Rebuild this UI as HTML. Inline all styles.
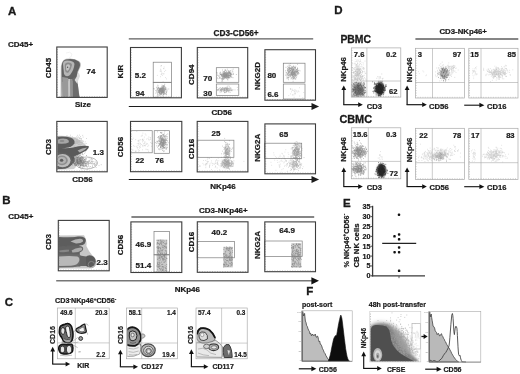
<!DOCTYPE html>
<html lang="en"><head><meta charset="utf-8"><title>Figure</title>
<style>
html,body{margin:0;padding:0;background:#fff;}
body{width:520px;height:374px;overflow:hidden;font-family:"Liberation Sans",sans-serif;}
svg{display:block;}
</style></head><body>
<svg width="520" height="374" viewBox="0 0 520 374" font-family='"Liberation Sans", sans-serif'>
<defs>
<filter id="b1" x="-20%" y="-20%" width="140%" height="140%"><feGaussianBlur stdDeviation="0.6"/></filter>
<filter id="b2" x="-20%" y="-20%" width="140%" height="140%"><feGaussianBlur stdDeviation="1.1"/></filter>
<filter id="b3" x="-30%" y="-30%" width="160%" height="160%"><feGaussianBlur stdDeviation="2"/></filter>
<filter id="b0" x="-20%" y="-20%" width="140%" height="140%"><feGaussianBlur stdDeviation="0.35"/></filter><filter id="bd" x="-20%" y="-20%" width="140%" height="140%"><feGaussianBlur stdDeviation="0.5"/></filter>
<filter id="soft" x="0" y="0" width="100%" height="100%" filterUnits="userSpaceOnUse"><feGaussianBlur stdDeviation="0.32"/></filter>
</defs>
<rect width="520" height="374" fill="#fff"/>
<g>
<text x="8" y="15" font-size="11.5" font-weight="bold" text-anchor="start" fill="#1a1a1a" stroke="#1a1a1a" stroke-width="0.34">A</text>
<text x="2.2" y="204" font-size="11.5" font-weight="bold" text-anchor="start" fill="#1a1a1a" stroke="#1a1a1a" stroke-width="0.34">B</text>
<text x="4.8" y="306" font-size="11.5" font-weight="bold" text-anchor="start" fill="#1a1a1a" stroke="#1a1a1a" stroke-width="0.34">C</text>
<text x="334.3" y="13.8" font-size="11.5" font-weight="bold" text-anchor="start" fill="#1a1a1a" stroke="#1a1a1a" stroke-width="0.34">D</text>
<text x="343" y="206.6" font-size="11.5" font-weight="bold" text-anchor="start" fill="#1a1a1a" stroke="#1a1a1a" stroke-width="0.34">E</text>
<text x="306.2" y="294.6" font-size="11.5" font-weight="bold" text-anchor="start" fill="#1a1a1a" stroke="#1a1a1a" stroke-width="0.34">F</text>
<text x="8" y="47.2" font-size="8.0" font-weight="bold" text-anchor="start" fill="#1a1a1a" stroke="#1a1a1a" stroke-width="0.24">CD45+</text>
<clipPath id="ca1"><rect x="57.3" y="47.5" width="49.4" height="49.4"/></clipPath>
<g clip-path="url(#ca1)"><g filter="url(#b1)">
<path d="M60.6 97 L60.8 70 Q60.6 60 66 58.8 Q74 57.5 79 61 Q81.8 63 80.4 67 Q77.4 72 77 78 L79.6 97 Z" fill="#b9b9b9"/>
<path d="M62 97 L61.6 70 Q61.2 60.4 66 59.4 Q74 58.2 78.6 61.4 Q80.8 63.4 79.6 67 Q76.6 72 76.4 78 L76 80 L62.4 82Z" fill="#636363"/>
<path d="M62.4 97 L62.2 77 L68.2 78 L68.4 97Z" fill="#999"/>
<path d="M68.4 97 L68.2 79 L70 79 L70.2 97Z" fill="#c6c6c6"/>
<path d="M70.2 97 L70 79 L72.6 79 L72.8 97Z" fill="#929292"/>
<path d="M72.8 97 L72.6 78 L76.8 76.6 L79.4 97Z" fill="#6c6c6c"/>
<path d="M74.6 80 Q77.6 76 78.6 72 L80 76 Q78 80 77.4 84Z" fill="#ddd"/>
<path d="M63 64 Q63 60.5 67 60.5 Q74 60.5 74.5 64 Q74 70 70 75 Q66 78 64 74 Z" fill="#b5b5b5"/>
<path d="M64.8 65 Q65 62.5 68 62.5 Q72 62.8 72 65 Q71 70 68.5 72.5 Q66 73.5 65.2 71 Z" fill="#8c8c8c"/>
<path d="M66 66 Q66.3 64.3 68.2 64.3 Q70.2 64.5 70 66.3 Q69.3 69.6 68 70.6 Q66.5 71 66.2 69.4 Z" fill="#c4c4c4"/>
<circle cx="67.6" cy="67.2" r="0.7" fill="#555"/>
</g></g>
<path d="M66 53 Q70 51 72 54 Q72 57 69 58" stroke="#e9e9e9" stroke-width="0.6" fill="none"/>
<rect x="56.8" y="47.0" width="50.40" height="50.40" fill="none" stroke="#3c3c3c" stroke-width="1.1"/>
<path d="M59.3 97.2v-1M61.8 97.2v-1M64.4 97.2v-1M66.9 97.2v-1M69.4 97.2v-1M71.9 97.2v-1M74.4 97.2v-1M77.0 97.2v-1M79.5 97.2v-1M82.0 97.2v-1M84.5 97.2v-1M87.0 97.2v-1M89.6 97.2v-1M92.1 97.2v-1M94.6 97.2v-1M97.1 97.2v-1M99.6 97.2v-1M102.2 97.2v-1M104.7 97.2v-1M57.0 49.5h1M57.0 52.0h1M57.0 54.6h1M57.0 57.1h1M57.0 59.6h1M57.0 62.1h1M57.0 64.6h1M57.0 67.2h1M57.0 69.7h1M57.0 72.2h1M57.0 74.7h1M57.0 77.2h1M57.0 79.8h1M57.0 82.3h1M57.0 84.8h1M57.0 87.3h1M57.0 89.8h1M57.0 92.4h1M57.0 94.9h1" stroke="#666" stroke-width="0.5" opacity="0.9"/>
<text x="51.28" y="68.00" font-size="8.0" font-weight="bold" text-anchor="middle" fill="#1a1a1a" stroke="#1a1a1a" stroke-width="0.24" transform="rotate(-90 51.28 68.00)">CD45</text>
<text x="86.6" y="74.1" font-size="8.0" font-weight="bold" text-anchor="start" fill="#1a1a1a" stroke="#1a1a1a" stroke-width="0.24">74</text>
<text x="83" y="106.8" font-size="8.0" font-weight="bold" text-anchor="middle" fill="#1a1a1a" stroke="#1a1a1a" stroke-width="0.24">Size</text>
<clipPath id="ca2"><rect x="57.3" y="121.9" width="49.4" height="49.4"/></clipPath>
<g clip-path="url(#ca2)">
<path d="M73.9 142.1h.01M74.1 140.3h.01M71.1 140.5h.01M79.7 141.9h.01M79.4 141.5h.01M76.7 141.4h.01M68.0 142.9h.01M77.1 142.1h.01M67.9 137.2h.01M71.3 140.0h.01M76.3 140.9h.01M77.2 139.6h.01M76.3 141.9h.01M72.2 144.8h.01M77.3 143.6h.01M72.4 139.4h.01M73.6 140.8h.01M77.7 141.5h.01M73.1 138.9h.01M72.8 143.7h.01M71.6 141.5h.01M76.8 137.7h.01M75.2 143.9h.01M66.5 140.3h.01M74.6 139.2h.01M77.1 140.9h.01M68.8 142.8h.01M77.8 143.1h.01M81.1 141.8h.01M75.5 138.1h.01M77.6 139.7h.01M73.1 138.2h.01M70.9 139.8h.01M80.4 136.5h.01M68.9 141.5h.01M81.1 142.3h.01M67.0 135.5h.01M76.5 139.4h.01M70.3 143.2h.01M79.6 141.3h.01M76.0 142.0h.01M81.7 142.4h.01M77.2 142.2h.01M68.4 143.8h.01M79.0 142.2h.01M66.7 139.6h.01M78.5 137.0h.01M74.2 143.2h.01M69.5 144.5h.01M77.3 140.7h.01M76.4 142.4h.01M75.5 143.5h.01M72.2 140.1h.01M79.4 141.1h.01M71.3 143.1h.01M81.2 140.0h.01M69.2 140.7h.01M74.4 140.3h.01M80.9 138.7h.01M80.3 138.2h.01M71.7 142.4h.01M79.7 142.9h.01M76.4 141.3h.01M75.6 142.3h.01M74.3 141.6h.01M77.4 141.0h.01M78.2 142.2h.01M83.4 141.7h.01M73.2 140.2h.01M74.9 143.0h.01M73.6 141.8h.01M82.7 135.4h.01M70.3 141.5h.01M76.7 141.5h.01M73.2 142.4h.01M76.2 139.9h.01M85.2 141.8h.01M72.7 140.8h.01M74.1 140.9h.01M63.5 139.9h.01M79.2 138.4h.01M74.7 143.1h.01M78.6 144.3h.01M67.9 140.2h.01M73.6 142.4h.01M79.6 135.1h.01M79.6 137.8h.01M77.9 137.7h.01M75.7 143.6h.01M74.4 141.4h.01M78.3 141.3h.01M74.6 144.4h.01M79.4 140.4h.01M86.5 138.5h.01M78.8 140.4h.01M75.6 142.6h.01M75.9 142.4h.01M68.6 137.7h.01M77.6 138.9h.01M70.7 137.8h.01M80.3 142.6h.01M81.2 138.9h.01M75.0 138.5h.01M78.2 144.5h.01M71.3 144.4h.01M79.1 140.6h.01M66.7 144.1h.01M74.6 139.7h.01M76.7 141.9h.01M81.3 138.8h.01M79.8 144.3h.01M81.1 140.6h.01M71.9 143.2h.01M75.5 141.3h.01M81.0 140.4h.01M65.4 140.1h.01M67.2 142.8h.01M76.3 139.7h.01M75.0 142.8h.01M75.3 143.9h.01M74.7 143.3h.01M81.3 144.5h.01M72.2 142.9h.01M67.1 138.6h.01M66.8 143.4h.01M69.8 141.0h.01M74.2 140.9h.01M72.5 141.5h.01M82.5 141.1h.01M77.2 143.2h.01M74.2 138.2h.01M72.7 143.4h.01M68.1 139.7h.01M79.2 142.7h.01M75.0 142.8h.01M75.7 138.4h.01M68.4 139.6h.01M78.9 139.8h.01M71.2 139.3h.01M68.6 140.7h.01M70.0 141.8h.01M65.1 141.7h.01M72.3 136.7h.01M78.0 140.4h.01M65.6 139.1h.01M76.2 140.0h.01M78.3 142.6h.01M77.8 141.7h.01M80.6 142.5h.01M76.9 136.4h.01M78.8 143.9h.01M73.8 140.0h.01M83.1 137.1h.01M77.0 146.3h.01M71.1 142.5h.01M82.9 140.7h.01M77.4 143.0h.01M71.2 140.8h.01M76.2 142.8h.01M74.9 140.6h.01M70.7 140.2h.01M78.7 141.2h.01M71.4 139.1h.01M86.2 143.5h.01M77.7 135.3h.01M77.6 142.1h.01M82.1 141.9h.01M74.7 142.1h.01M66.8 143.3h.01M76.4 139.5h.01M80.6 145.0h.01M69.1 139.5h.01M76.2 141.4h.01M73.3 138.9h.01M83.9 143.3h.01M70.0 138.0h.01M82.2 143.2h.01M82.6 142.8h.01M71.3 141.6h.01M65.9 139.4h.01M74.8 142.2h.01M71.9 140.7h.01M76.9 141.8h.01M77.7 141.5h.01M73.6 142.7h.01M75.2 139.2h.01M72.4 141.0h.01M74.5 141.3h.01M75.0 141.4h.01M74.4 138.2h.01M76.8 143.3h.01M76.8 140.6h.01M76.9 138.9h.01M67.0 141.1h.01M71.1 142.6h.01M70.4 135.2h.01M70.6 144.5h.01M73.4 138.0h.01M71.8 142.1h.01M77.1 141.4h.01M81.2 142.6h.01M74.9 142.3h.01M81.9 143.1h.01M79.3 138.6h.01M74.4 142.6h.01M73.8 143.4h.01M77.5 143.0h.01M74.1 146.6h.01M80.2 140.5h.01M75.4 146.7h.01M73.6 142.9h.01M79.1 141.0h.01M70.1 141.4h.01M76.5 143.5h.01M78.3 141.1h.01M78.6 142.2h.01M75.9 141.1h.01M74.0 142.5h.01M70.6 139.6h.01M75.0 137.8h.01" stroke="#bdbdbd" stroke-width="0.7" stroke-linecap="round" fill="none" opacity="1.0" filter="url(#b1)"/>
<path d="M73.0 146.0h.01M71.9 155.0h.01M77.5 152.8h.01M74.0 148.0h.01M83.2 154.8h.01M79.9 149.9h.01M74.2 146.6h.01M78.5 156.3h.01M66.5 152.8h.01M77.8 146.8h.01M66.8 149.3h.01M72.2 148.1h.01M75.1 153.9h.01M77.9 155.5h.01M81.8 157.1h.01M69.1 151.2h.01M70.2 149.2h.01M74.6 153.0h.01M77.2 147.4h.01M69.4 152.9h.01M74.1 151.9h.01M74.7 150.3h.01M78.2 154.2h.01M74.6 150.6h.01M74.2 143.5h.01M70.6 153.1h.01M68.2 153.7h.01M75.7 148.2h.01M73.9 151.9h.01M77.1 155.1h.01M74.8 150.0h.01M74.4 152.8h.01M78.3 154.0h.01M71.7 148.3h.01M73.3 150.4h.01M70.0 152.6h.01M72.8 153.4h.01M77.4 151.6h.01M85.5 151.9h.01M80.0 153.4h.01M80.0 144.7h.01M71.6 153.9h.01M77.7 161.2h.01M76.5 157.5h.01M78.4 156.3h.01M77.3 152.5h.01M77.3 149.2h.01M80.3 149.4h.01M76.1 160.4h.01M74.0 153.1h.01M80.2 153.1h.01M71.4 153.9h.01M77.6 155.5h.01M71.5 159.1h.01M82.5 153.1h.01M76.2 151.5h.01M81.4 150.5h.01M78.0 151.3h.01M71.9 155.5h.01M81.0 153.0h.01M72.0 155.8h.01M74.8 154.1h.01M81.9 157.0h.01M72.7 161.0h.01M75.0 155.8h.01M72.1 152.8h.01M67.1 159.3h.01M81.1 148.7h.01M68.2 147.3h.01M80.3 151.4h.01M74.7 151.9h.01M74.5 149.2h.01M75.1 148.0h.01M74.7 154.1h.01M77.1 152.2h.01M70.9 153.6h.01M72.8 158.5h.01M78.5 152.6h.01M72.9 150.5h.01M70.8 151.8h.01M76.3 154.8h.01M77.6 160.3h.01M71.8 153.0h.01M87.6 146.5h.01M72.7 153.6h.01M75.7 154.4h.01M73.9 154.3h.01M75.2 155.7h.01M66.5 149.9h.01M75.0 149.4h.01M70.3 155.2h.01M72.1 155.2h.01M78.4 154.1h.01M77.3 152.6h.01M68.7 152.9h.01M77.0 151.1h.01M74.6 155.6h.01M71.0 155.2h.01M83.4 151.1h.01M75.7 152.5h.01M81.9 154.1h.01M79.0 150.6h.01M74.9 153.0h.01M67.0 158.0h.01M79.0 146.9h.01M78.3 152.5h.01M77.0 154.3h.01M68.3 152.3h.01M81.7 151.0h.01M70.4 148.2h.01M69.5 154.2h.01M82.6 154.5h.01M76.1 160.8h.01M72.7 150.6h.01M77.4 154.9h.01M70.4 148.9h.01M76.3 153.9h.01M69.1 152.3h.01M72.6 154.6h.01M74.5 152.7h.01M73.4 156.7h.01M81.3 151.7h.01M78.8 150.3h.01M75.3 155.6h.01M81.8 151.7h.01M74.7 153.7h.01M68.3 153.1h.01M72.0 154.3h.01M69.9 146.1h.01M75.2 153.9h.01M72.5 156.1h.01M73.8 150.9h.01M77.1 147.5h.01M72.0 152.9h.01M78.8 152.4h.01M76.4 150.7h.01M76.4 158.8h.01M71.9 161.3h.01M72.1 153.1h.01M75.8 156.6h.01M69.4 145.6h.01M77.7 155.8h.01M77.8 162.2h.01M75.9 153.9h.01M79.2 154.3h.01M82.5 148.7h.01M73.3 140.9h.01M78.7 151.7h.01M79.2 160.5h.01M75.0 152.1h.01M72.8 150.1h.01M72.2 155.2h.01M75.2 153.2h.01M74.2 156.2h.01M77.2 152.5h.01M78.0 152.5h.01M69.8 158.1h.01M77.1 149.6h.01M79.9 154.2h.01M68.0 158.6h.01M76.5 156.1h.01M75.9 152.5h.01M68.0 156.4h.01M75.1 152.0h.01M76.6 153.3h.01M78.0 151.7h.01M74.8 145.5h.01M73.1 155.4h.01M81.0 151.7h.01M74.5 158.5h.01M73.5 155.6h.01M82.6 153.1h.01M80.5 150.5h.01M75.9 152.7h.01M75.5 157.0h.01M85.8 150.7h.01M72.4 154.7h.01M70.3 154.7h.01M77.6 152.0h.01M77.4 147.6h.01M78.4 147.6h.01M71.9 151.1h.01M73.2 156.0h.01M75.4 151.6h.01M77.4 158.5h.01M75.0 154.3h.01M80.6 153.9h.01M69.2 161.7h.01M84.9 146.1h.01M74.8 154.5h.01M79.3 155.3h.01M73.8 149.3h.01M75.5 156.6h.01M70.1 149.4h.01M74.9 146.2h.01M73.8 151.5h.01M77.0 150.5h.01M71.0 151.6h.01M74.8 150.7h.01M75.1 155.6h.01M80.3 159.0h.01M71.5 151.5h.01M63.8 159.6h.01M71.7 152.9h.01M77.4 148.2h.01M77.1 152.9h.01M66.8 154.0h.01M80.4 146.5h.01M78.6 153.7h.01M77.1 154.5h.01M80.9 152.2h.01M78.9 151.6h.01M78.3 150.2h.01M74.5 159.1h.01M77.0 152.4h.01M69.8 150.2h.01M75.9 156.3h.01M76.9 154.8h.01M74.8 157.7h.01M73.2 151.1h.01M79.0 153.2h.01M73.7 151.0h.01M73.8 155.2h.01M76.6 148.8h.01M76.9 153.6h.01M70.5 155.7h.01M73.7 151.8h.01M78.6 157.6h.01M71.9 154.5h.01M71.1 161.1h.01M72.8 157.2h.01M72.1 155.8h.01M85.0 144.1h.01M73.0 154.8h.01M74.6 150.7h.01M84.7 153.3h.01M67.6 156.0h.01M67.3 157.0h.01M72.4 153.5h.01M80.7 153.4h.01M68.7 147.1h.01M80.3 155.6h.01M71.3 156.0h.01M77.2 155.3h.01M64.8 151.9h.01M79.1 155.6h.01M79.0 144.4h.01M75.8 154.7h.01M86.5 149.7h.01M73.5 153.1h.01M79.0 151.4h.01M80.2 150.2h.01M76.2 151.2h.01M75.7 150.6h.01M67.8 156.8h.01M76.4 151.0h.01M75.9 156.5h.01M70.6 152.6h.01M77.4 154.8h.01M73.5 145.6h.01" stroke="#a8a8a8" stroke-width="0.7" stroke-linecap="round" fill="none" opacity="1.0" filter="url(#b1)"/>
<g filter="url(#b1)">
<path d="M57 135.8 Q68 135 76 138 Q82 141 86 145.6 Q80 152 76 156 L84 156.6 Q80 164 74 169 L57 170Z" fill="#bcbcbc" opacity="0.7"/>
<path d="M57 136.8 Q65 135.8 71 137.8 Q75.4 139.8 74.4 143.4 Q72 147.4 65 148 L57 148Z" fill="#5c5c5c"/>
<path d="M58 139.6 Q62 138 66.6 139 Q69.6 140.4 68.6 142.4 Q66 144 61 143.8 L58 143.4Z" fill="#a6a6a6"/>
<ellipse cx="62" cy="141" rx="2.4" ry="1" fill="#8a8a8a"/>
<path d="M57 147.6 Q66 149 73 147.6 Q81 145 88.6 146 Q89.6 147.6 86.4 150.4 Q80 154 74 156.4 Q76 160 73 164 L66 158 L57 155Z" fill="#5a5a5a"/>
<path d="M77.6 150.6 Q82 148 87 147.6 Q85.6 150.2 79.6 152.6Z" fill="#adadad"/>
<path d="M57 152.6 Q65 152 70 155.4 Q73.6 159.6 72 164.4 Q69 168.6 62 169 L57 169Z" fill="#616161"/>
<ellipse cx="62.6" cy="160.6" rx="8" ry="6.6" fill="#bdbdbd"/>
<ellipse cx="62" cy="160.4" rx="5.8" ry="4.8" fill="#8e8e8e"/>
<ellipse cx="61.8" cy="160.3" rx="4.2" ry="3.4" fill="#b2b2b2"/>
<ellipse cx="61.6" cy="160.2" rx="1.7" ry="1.5" fill="#5e5e5e"/>
</g></g>
<path d="M83.7 162.6h.01M79.5 161.1h.01M80.4 160.8h.01M76.0 160.0h.01M77.5 160.3h.01M75.6 163.3h.01M75.0 163.4h.01M76.1 162.6h.01M84.2 162.3h.01M77.0 161.9h.01M80.0 157.6h.01M77.4 162.2h.01M77.9 162.0h.01M82.0 163.6h.01M82.6 163.2h.01M78.5 161.8h.01M78.6 161.0h.01M78.9 157.7h.01M78.4 161.7h.01M76.2 161.7h.01M81.3 161.4h.01M86.6 155.5h.01M78.8 157.4h.01M82.8 168.2h.01M71.0 162.1h.01M81.3 161.1h.01M81.4 156.4h.01M82.4 162.7h.01M79.6 160.4h.01M81.7 160.6h.01M80.3 160.6h.01M71.9 161.7h.01M80.2 163.6h.01M76.5 161.7h.01M81.6 162.1h.01M83.7 166.6h.01M76.4 157.2h.01M82.4 165.5h.01M82.6 163.8h.01M77.4 160.1h.01M82.5 159.6h.01M73.3 159.4h.01M88.0 166.4h.01M77.2 160.1h.01M80.3 160.0h.01M84.0 161.6h.01M75.8 164.9h.01M77.5 162.3h.01M79.5 161.0h.01M80.6 160.1h.01M73.2 156.5h.01M75.2 160.0h.01M79.4 161.9h.01M81.4 162.1h.01M76.8 160.1h.01M72.3 161.4h.01M81.1 163.1h.01M79.1 161.4h.01M82.7 161.8h.01M82.0 163.2h.01M80.2 164.9h.01M77.6 160.9h.01M76.8 159.9h.01M84.8 166.0h.01M79.6 163.2h.01M83.5 163.7h.01M83.6 158.8h.01M77.3 162.9h.01M84.4 162.0h.01M76.6 160.9h.01M77.3 159.7h.01M84.6 160.3h.01M79.6 167.0h.01M83.5 162.6h.01M77.4 162.8h.01M85.0 163.3h.01M83.8 162.0h.01M81.3 161.3h.01M81.0 164.9h.01M74.6 161.6h.01M80.3 160.4h.01M78.5 163.7h.01M86.3 163.3h.01M80.6 158.1h.01M86.1 162.0h.01M79.4 159.1h.01M79.3 159.2h.01M79.7 162.9h.01M79.6 162.5h.01M76.6 165.2h.01M77.3 157.4h.01M78.9 160.0h.01M76.1 160.9h.01M80.5 159.0h.01M79.0 165.2h.01M81.8 161.4h.01M79.9 161.5h.01M79.3 163.6h.01M79.2 156.0h.01M79.4 159.7h.01M81.7 160.3h.01M80.0 167.0h.01M75.9 159.1h.01M74.7 156.1h.01M73.1 162.7h.01M77.3 157.3h.01M74.5 163.3h.01M76.9 160.9h.01M80.6 165.1h.01M86.1 164.3h.01M80.0 162.2h.01M85.6 165.2h.01M78.4 162.9h.01M80.5 161.9h.01M77.8 158.6h.01M77.7 158.1h.01M83.7 163.1h.01M75.4 165.1h.01M82.5 157.2h.01M85.8 163.7h.01M86.5 158.8h.01M81.3 162.8h.01M80.2 162.2h.01M83.1 158.2h.01M75.3 158.5h.01M77.6 160.3h.01M80.7 162.4h.01M79.6 160.2h.01M78.0 164.1h.01M82.1 162.0h.01M78.4 165.5h.01M77.5 163.4h.01M83.4 161.2h.01M82.3 159.1h.01M82.9 162.3h.01M74.1 163.4h.01M76.5 164.9h.01M77.2 161.4h.01M80.5 161.0h.01M80.4 160.5h.01M81.8 161.8h.01M80.2 155.2h.01M83.4 161.9h.01M73.4 162.0h.01M81.1 164.4h.01M75.8 165.5h.01M79.0 167.5h.01M79.0 163.4h.01M78.3 159.1h.01M83.2 164.0h.01M84.7 163.9h.01M77.6 157.8h.01M77.3 160.2h.01M76.7 163.2h.01M80.6 161.2h.01M80.1 161.5h.01M80.2 163.6h.01M82.8 160.2h.01M74.4 165.2h.01M79.9 164.5h.01M73.9 161.0h.01M79.6 158.3h.01M77.7 163.5h.01M83.2 165.6h.01M76.6 158.4h.01M81.3 164.1h.01M80.2 158.7h.01M82.2 163.7h.01M81.4 160.6h.01M80.5 163.7h.01M77.6 157.4h.01M80.6 163.0h.01M79.5 163.9h.01M77.5 161.6h.01M78.5 163.2h.01M84.9 161.2h.01M86.5 165.5h.01M82.2 163.2h.01M85.5 161.4h.01M79.1 159.2h.01M81.1 165.0h.01M81.3 162.8h.01M78.8 162.2h.01M74.7 164.3h.01M78.1 159.1h.01M76.9 159.8h.01M82.4 164.3h.01M74.9 164.0h.01M82.5 160.4h.01M74.4 160.0h.01M77.3 162.6h.01M78.3 156.9h.01M80.3 158.1h.01M82.6 158.9h.01M77.1 159.7h.01M77.7 164.9h.01M82.4 163.2h.01M80.6 158.1h.01M77.7 160.5h.01M76.2 163.0h.01M77.0 160.1h.01M75.9 156.9h.01M81.5 165.0h.01M80.1 159.5h.01M70.3 162.2h.01M83.6 162.5h.01M82.7 165.3h.01M83.3 160.7h.01M83.1 163.7h.01M74.3 160.8h.01M74.7 161.5h.01M81.5 159.2h.01M72.5 164.9h.01M80.8 165.3h.01M75.0 164.3h.01M86.6 166.6h.01M78.8 162.4h.01M79.0 164.2h.01M83.0 162.0h.01M74.9 163.6h.01M77.9 163.3h.01M80.4 165.7h.01M83.4 160.7h.01M80.7 166.0h.01M77.7 162.8h.01M83.5 164.8h.01M81.3 158.6h.01M75.2 162.4h.01M80.8 167.9h.01M76.6 164.5h.01M82.1 157.8h.01M76.7 162.2h.01M77.8 161.4h.01M81.1 159.9h.01M81.1 160.3h.01M77.6 163.1h.01M77.6 162.5h.01M84.9 161.9h.01M79.0 163.6h.01M78.3 164.4h.01M75.1 163.3h.01M77.8 159.9h.01M85.5 159.8h.01M85.5 163.4h.01M84.4 159.5h.01M83.6 165.3h.01M79.1 161.5h.01M87.9 162.2h.01M78.1 160.3h.01M81.0 162.6h.01M80.1 165.9h.01M78.4 162.9h.01M84.5 159.4h.01M83.0 166.2h.01M74.9 159.2h.01M76.0 157.4h.01M81.0 157.3h.01M81.2 165.3h.01M74.0 161.0h.01M73.0 163.7h.01" stroke="#747474" stroke-width="0.6" stroke-linecap="round" fill="none" opacity="1.0" filter="url(#bd)"/>
<path d="M84.1 162.6h.01M87.8 164.5h.01M85.9 163.2h.01M85.0 163.5h.01M82.1 163.4h.01M78.6 162.0h.01M96.3 163.4h.01M81.7 163.8h.01M83.0 159.2h.01M84.1 165.0h.01M89.3 163.0h.01M83.2 160.6h.01M93.7 163.8h.01M83.1 158.1h.01M81.2 169.1h.01M82.2 163.0h.01M88.5 162.8h.01M86.2 159.9h.01M82.7 167.3h.01M84.0 165.2h.01M79.7 162.5h.01M88.7 165.7h.01M82.3 164.6h.01M89.3 161.4h.01M89.7 161.0h.01M83.8 163.2h.01M75.0 162.9h.01M82.9 159.7h.01M85.5 165.0h.01M85.6 166.2h.01M82.2 160.1h.01M94.6 164.2h.01M91.8 161.2h.01M91.2 163.8h.01M90.5 163.3h.01M93.0 161.6h.01M83.1 159.7h.01M92.8 161.4h.01M82.7 160.9h.01M85.5 160.1h.01M86.2 161.7h.01M85.0 160.9h.01M87.7 162.1h.01M88.0 163.8h.01M89.1 157.9h.01M85.0 161.3h.01M91.1 159.4h.01M84.2 162.5h.01M86.0 165.6h.01M85.5 165.5h.01M80.8 158.9h.01M93.1 164.2h.01M89.7 163.5h.01M89.7 160.3h.01M91.9 161.9h.01M92.0 163.4h.01M78.4 160.1h.01M92.7 162.9h.01M85.7 163.8h.01M85.5 161.9h.01M88.0 163.5h.01M94.5 163.3h.01M96.1 167.5h.01M95.4 165.7h.01M88.1 163.5h.01M86.8 161.4h.01M87.2 161.7h.01M95.0 164.5h.01M85.4 158.6h.01M87.3 162.2h.01M82.5 160.5h.01M77.1 164.6h.01M87.2 169.4h.01M87.4 162.8h.01M94.1 163.5h.01M88.3 162.3h.01M84.7 166.8h.01M92.1 167.3h.01M85.9 163.3h.01M83.4 165.5h.01M81.1 164.6h.01M92.5 166.6h.01M83.2 165.8h.01M84.2 161.4h.01M81.4 166.0h.01M95.1 161.8h.01M84.0 162.4h.01M99.0 165.6h.01M85.0 158.9h.01M84.4 166.0h.01M96.1 162.6h.01M84.3 162.0h.01M78.8 165.4h.01M82.5 165.8h.01M79.6 160.2h.01M88.8 161.4h.01M91.1 163.2h.01M82.1 164.7h.01M91.4 158.6h.01M95.9 164.4h.01M91.0 158.7h.01M84.2 162.4h.01M92.5 159.7h.01M83.4 158.3h.01M86.4 164.0h.01M79.7 161.8h.01M89.8 167.0h.01M90.6 162.5h.01M82.1 161.0h.01M84.4 163.6h.01M87.3 167.2h.01M88.8 160.6h.01M94.6 165.5h.01M88.0 161.5h.01M78.9 160.7h.01M91.7 161.3h.01M81.4 163.7h.01M88.6 164.7h.01M90.5 166.6h.01M83.6 165.5h.01M83.0 164.9h.01M88.3 163.8h.01M92.0 163.2h.01M92.6 165.3h.01M88.1 161.8h.01M84.0 161.9h.01M86.6 163.1h.01M101.2 164.7h.01M91.0 161.1h.01M84.2 162.4h.01" stroke="#a0a0a0" stroke-width="0.6" stroke-linecap="round" fill="none" opacity="1.0" filter="url(#bd)"/>
<ellipse cx="86.5" cy="163" rx="11" ry="6" fill="none" stroke="#8a8a8a" stroke-width="0.6"/>
<rect x="56.8" y="121.4" width="50.40" height="50.40" fill="none" stroke="#3c3c3c" stroke-width="1.1"/>
<path d="M59.3 171.60000000000002v-1M61.8 171.60000000000002v-1M64.4 171.60000000000002v-1M66.9 171.60000000000002v-1M69.4 171.60000000000002v-1M71.9 171.60000000000002v-1M74.4 171.60000000000002v-1M77.0 171.60000000000002v-1M79.5 171.60000000000002v-1M82.0 171.60000000000002v-1M84.5 171.60000000000002v-1M87.0 171.60000000000002v-1M89.6 171.60000000000002v-1M92.1 171.60000000000002v-1M94.6 171.60000000000002v-1M97.1 171.60000000000002v-1M99.6 171.60000000000002v-1M102.2 171.60000000000002v-1M104.7 171.60000000000002v-1M57.0 123.9h1M57.0 126.4h1M57.0 129.0h1M57.0 131.5h1M57.0 134.0h1M57.0 136.5h1M57.0 139.0h1M57.0 141.6h1M57.0 144.1h1M57.0 146.6h1M57.0 149.1h1M57.0 151.6h1M57.0 154.2h1M57.0 156.7h1M57.0 159.2h1M57.0 161.7h1M57.0 164.2h1M57.0 166.8h1M57.0 169.3h1" stroke="#666" stroke-width="0.5" opacity="0.9"/>
<text x="51.28" y="147.00" font-size="8.0" font-weight="bold" text-anchor="middle" fill="#1a1a1a" stroke="#1a1a1a" stroke-width="0.24" transform="rotate(-90 51.28 147.00)">CD3</text>
<text x="92.8" y="155.0" font-size="8.0" font-weight="bold" text-anchor="start" fill="#1a1a1a" stroke="#1a1a1a" stroke-width="0.24">1.3</text>
<text x="82.5" y="181.6" font-size="8.0" font-weight="bold" text-anchor="middle" fill="#1a1a1a" stroke="#1a1a1a" stroke-width="0.24">CD56</text>
<text x="236.1" y="35.5" font-size="8.25" font-weight="bold" text-anchor="middle" fill="#1a1a1a" stroke="#1a1a1a" stroke-width="0.25">CD3-CD56+</text>
<line x1="128.8" y1="38.9" x2="313.2" y2="38.9" stroke="#5e5e5e" stroke-width="1.3"/>
<line x1="128.8" y1="106.5" x2="312.0" y2="106.5" stroke="#1c1c1c" stroke-width="1.15"/>
<polygon points="319.1,106.5 311.5,103.1 311.5,109.9" fill="#1c1c1c"/>
<text x="221.7" y="115.2" font-size="8.0" font-weight="bold" text-anchor="middle" fill="#1a1a1a" stroke="#1a1a1a" stroke-width="0.24">CD56</text>
<line x1="128.8" y1="179.5" x2="312.0" y2="179.5" stroke="#1c1c1c" stroke-width="1.15"/>
<polygon points="319.1,179.5 311.5,176.1 311.5,182.9" fill="#1c1c1c"/>
<text x="223" y="188.6" font-size="8.0" font-weight="bold" text-anchor="middle" fill="#1a1a1a" stroke="#1a1a1a" stroke-width="0.24">NKp46</text>
<path d="M162.2 88.1h.01M165.5 89.2h.01M164.3 85.1h.01M161.8 91.1h.01M162.2 91.9h.01M162.4 90.9h.01M157.4 88.9h.01M156.4 91.9h.01M162.5 90.1h.01M159.9 89.2h.01M166.0 94.5h.01M161.7 93.5h.01M158.1 86.0h.01M160.7 88.5h.01M160.5 90.9h.01M168.8 89.0h.01M161.9 91.1h.01M161.7 92.6h.01M165.9 87.6h.01M162.2 89.9h.01M162.6 87.0h.01M157.8 85.2h.01M163.0 90.9h.01M162.0 85.1h.01M160.9 88.8h.01M158.5 88.4h.01M163.4 91.8h.01M161.7 91.7h.01M160.4 90.7h.01M161.9 91.8h.01M161.6 90.2h.01M161.5 89.0h.01M166.9 91.7h.01M162.8 95.8h.01M165.0 86.9h.01M163.4 92.4h.01M166.1 93.5h.01M163.6 87.8h.01M159.8 91.1h.01M163.0 88.2h.01M160.9 89.6h.01M161.9 91.3h.01M161.1 87.7h.01M164.7 94.2h.01M161.6 92.9h.01M162.8 92.0h.01M162.9 88.7h.01M163.1 92.8h.01M159.7 95.0h.01M166.6 94.7h.01M166.4 92.2h.01M161.0 89.1h.01M159.9 90.8h.01M161.7 92.0h.01M157.2 95.8h.01M167.0 90.4h.01M163.4 91.6h.01M162.4 90.0h.01M161.5 88.6h.01M162.2 90.4h.01M162.5 88.5h.01M161.9 90.6h.01M163.2 88.1h.01M162.8 92.8h.01M163.2 89.7h.01M160.7 90.0h.01M163.5 94.1h.01M161.4 89.0h.01M162.7 91.0h.01M159.7 88.8h.01M161.6 92.0h.01M159.1 88.2h.01M162.9 87.7h.01M162.1 91.3h.01M161.5 88.2h.01M161.7 89.7h.01M162.6 88.6h.01M164.3 86.6h.01M161.4 90.5h.01M164.0 89.1h.01M163.1 89.2h.01M163.5 94.5h.01M160.9 91.5h.01M159.7 92.7h.01M164.6 90.6h.01M159.2 91.4h.01M164.4 93.0h.01M163.7 86.3h.01M160.2 93.8h.01M159.0 93.1h.01M166.1 92.3h.01M164.4 89.7h.01M159.0 90.3h.01M161.3 90.4h.01M163.4 90.2h.01M162.2 91.5h.01M161.8 94.7h.01M162.8 90.7h.01M161.3 89.1h.01M164.9 90.8h.01M159.3 89.2h.01M161.5 89.5h.01M164.3 87.8h.01M162.9 90.8h.01M159.1 90.6h.01M161.6 91.7h.01M160.8 91.2h.01M158.0 88.0h.01M163.6 92.9h.01M161.8 89.1h.01M164.3 85.7h.01M160.0 92.0h.01M163.3 88.1h.01M157.5 93.8h.01M162.2 88.4h.01M161.9 92.6h.01M155.8 93.1h.01M163.5 85.7h.01M163.6 86.4h.01M164.4 91.4h.01M167.0 89.1h.01M161.8 92.9h.01M160.3 88.9h.01M160.9 90.3h.01M159.3 91.6h.01M163.0 90.7h.01M165.7 89.7h.01M164.8 89.2h.01M163.5 86.0h.01M162.3 90.1h.01M160.7 89.1h.01M161.0 88.8h.01M156.8 89.1h.01M160.5 89.3h.01M159.4 90.2h.01M163.6 89.9h.01M160.7 93.6h.01M164.0 92.6h.01M164.5 89.7h.01M161.5 93.1h.01M160.5 90.2h.01M162.7 91.4h.01M161.2 92.8h.01M161.4 92.2h.01M164.3 92.0h.01M163.5 87.8h.01M158.8 89.1h.01M162.9 94.0h.01M159.0 91.2h.01M159.8 88.8h.01M161.2 92.1h.01M162.3 93.2h.01M159.5 92.5h.01M163.9 90.7h.01M162.9 89.2h.01M159.3 89.6h.01M160.3 97.1h.01M160.7 94.3h.01M162.3 91.2h.01M163.5 88.7h.01M163.9 91.4h.01M158.3 91.9h.01M163.1 91.5h.01M165.4 89.5h.01M163.0 92.2h.01M159.7 93.3h.01M158.5 87.5h.01M163.0 88.0h.01M161.5 86.7h.01M162.0 87.9h.01M162.6 87.0h.01M162.8 89.9h.01M161.9 90.3h.01M162.1 87.5h.01M155.9 90.6h.01M159.6 89.5h.01M162.8 85.9h.01M160.0 89.1h.01M159.4 91.3h.01M161.5 88.6h.01M159.5 92.4h.01M160.3 91.8h.01M162.8 86.1h.01M159.3 90.5h.01M162.6 92.3h.01M163.6 92.9h.01M160.9 90.0h.01M163.6 89.5h.01M164.2 86.8h.01M163.3 90.1h.01M157.3 92.8h.01M162.5 90.5h.01M159.3 89.4h.01M165.3 88.6h.01M153.8 88.5h.01M159.0 90.2h.01M160.9 88.4h.01M159.9 92.9h.01M158.5 95.0h.01M160.5 88.0h.01M163.6 91.8h.01M159.4 92.2h.01M157.6 88.4h.01M164.4 89.9h.01M158.8 91.7h.01M163.9 90.4h.01M157.6 89.7h.01M162.8 92.3h.01M166.1 89.9h.01M160.7 90.4h.01M164.6 88.3h.01M164.8 84.2h.01M163.6 88.9h.01M162.9 92.1h.01M159.1 90.3h.01M162.4 91.9h.01M159.7 88.2h.01M157.4 96.3h.01M161.4 90.0h.01M158.4 92.6h.01M160.6 93.8h.01M163.8 90.5h.01M163.5 87.9h.01M161.1 89.2h.01M158.9 90.5h.01M161.5 93.8h.01M154.1 89.0h.01M159.7 89.4h.01M162.8 91.4h.01M161.9 89.4h.01M162.9 91.3h.01M157.6 89.9h.01M158.6 87.8h.01M162.1 90.6h.01M162.1 88.5h.01M161.3 88.4h.01M162.7 92.1h.01M165.8 93.4h.01M159.9 89.4h.01M159.6 91.2h.01M166.4 92.1h.01M156.7 87.6h.01M158.8 91.7h.01M161.8 91.2h.01M165.9 88.6h.01M159.9 95.0h.01M162.6 88.7h.01M157.1 87.0h.01M156.2 90.7h.01M161.9 92.8h.01M161.5 88.9h.01M160.1 94.9h.01M157.7 90.9h.01M161.9 91.9h.01M160.9 91.6h.01M163.7 90.2h.01M160.7 90.1h.01M159.6 90.0h.01M161.1 91.0h.01M164.9 93.5h.01M160.8 91.9h.01M162.5 92.3h.01M161.8 91.1h.01M160.7 88.7h.01M163.8 93.5h.01M163.3 91.5h.01M162.4 89.5h.01M157.7 92.0h.01M162.3 89.2h.01M159.6 93.4h.01M157.7 94.6h.01M163.3 96.0h.01M160.1 90.4h.01M160.6 90.9h.01M161.3 88.8h.01M164.3 88.7h.01M160.6 91.8h.01M160.6 89.5h.01M162.6 89.7h.01M158.9 90.3h.01M161.3 94.4h.01M159.3 92.7h.01M160.0 89.7h.01M161.0 91.1h.01M163.8 94.5h.01M160.3 93.6h.01M164.1 92.4h.01M160.1 92.6h.01M161.6 91.3h.01M161.2 92.0h.01M164.4 93.1h.01M161.3 92.8h.01M165.1 88.3h.01M165.2 87.4h.01M163.0 91.9h.01M165.2 91.1h.01M160.7 88.7h.01M158.9 92.3h.01M161.3 88.8h.01M163.0 88.7h.01" stroke="#949494" stroke-width="0.6" stroke-linecap="round" fill="none" opacity="1.0" filter="url(#bd)"/>
<path d="M160.2 71.2h.01M166.5 78.9h.01M161.0 66.7h.01M162.3 73.3h.01M162.5 75.3h.01M160.5 76.7h.01M164.0 73.8h.01M160.3 71.1h.01M163.6 68.6h.01M161.0 70.0h.01M157.3 75.4h.01M161.4 73.1h.01M164.1 67.0h.01M161.3 74.2h.01M164.0 68.7h.01M163.6 73.9h.01M165.6 77.6h.01M163.1 81.6h.01M161.5 71.3h.01M160.5 69.2h.01M161.4 65.5h.01M161.2 74.7h.01M164.5 71.6h.01M165.7 70.4h.01M161.1 65.5h.01" stroke="#c5c5c5" stroke-width="0.6" stroke-linecap="round" fill="none" opacity="1.0" filter="url(#bd)"/>
<rect x="153.2" y="62.2" width="18.40" height="20.10" fill="none" stroke="#7d7d7d" stroke-width="0.7"/>
<rect x="153.2" y="82.3" width="18.40" height="14.90" fill="none" stroke="#7d7d7d" stroke-width="0.7"/>
<rect x="130.5" y="47.5" width="50.90" height="50.30" fill="none" stroke="#3c3c3c" stroke-width="1.1"/>
<path d="M133.0 97.6v-1M135.6 97.6v-1M138.1 97.6v-1M140.7 97.6v-1M143.2 97.6v-1M145.8 97.6v-1M148.3 97.6v-1M150.9 97.6v-1M153.4 97.6v-1M155.9 97.6v-1M158.5 97.6v-1M161.0 97.6v-1M163.6 97.6v-1M166.1 97.6v-1M168.7 97.6v-1M171.2 97.6v-1M173.8 97.6v-1M176.3 97.6v-1M178.9 97.6v-1M130.7 50.0h1M130.7 52.5h1M130.7 55.0h1M130.7 57.6h1M130.7 60.1h1M130.7 62.6h1M130.7 65.1h1M130.7 67.6h1M130.7 70.1h1M130.7 72.7h1M130.7 75.2h1M130.7 77.7h1M130.7 80.2h1M130.7 82.7h1M130.7 85.2h1M130.7 87.7h1M130.7 90.3h1M130.7 92.8h1M130.7 95.3h1" stroke="#666" stroke-width="0.5" opacity="0.9"/>
<text x="123.18" y="71.50" font-size="8.0" font-weight="bold" text-anchor="middle" fill="#1a1a1a" stroke="#1a1a1a" stroke-width="0.24" transform="rotate(-90 123.18 71.50)">KIR</text>
<text x="134.8" y="78.0" font-size="8.0" font-weight="bold" text-anchor="start" fill="#1a1a1a" stroke="#1a1a1a" stroke-width="0.24">5.2</text>
<text x="135.6" y="95.6" font-size="8.0" font-weight="bold" text-anchor="start" fill="#1a1a1a" stroke="#1a1a1a" stroke-width="0.24">94</text>
<path d="M223.4 73.7h.01M231.0 75.5h.01M222.3 76.5h.01M227.6 74.3h.01M226.1 74.4h.01M224.2 71.7h.01M225.7 77.6h.01M230.8 73.9h.01M223.5 74.9h.01M229.0 75.3h.01M224.1 76.0h.01M225.3 76.1h.01M224.6 72.2h.01M226.2 76.5h.01M222.3 75.2h.01M228.9 73.9h.01M223.8 79.3h.01M228.7 76.7h.01M222.9 78.7h.01M220.5 74.6h.01M228.4 77.4h.01M222.9 74.1h.01M226.7 71.1h.01M228.1 75.9h.01M224.5 76.3h.01M228.6 75.3h.01M227.7 77.8h.01M224.4 75.5h.01M224.3 77.3h.01M224.7 76.1h.01M226.5 75.1h.01M231.7 74.1h.01M230.7 76.1h.01M230.3 74.1h.01M229.1 76.1h.01M224.0 75.8h.01M225.6 75.0h.01M230.3 73.0h.01M220.5 72.2h.01M224.5 73.9h.01M226.0 76.1h.01M231.8 74.9h.01M227.5 73.4h.01M227.9 77.5h.01M230.4 70.6h.01M228.9 77.8h.01M228.7 71.7h.01M225.0 76.3h.01M227.4 73.2h.01M223.1 77.3h.01M221.6 78.4h.01M226.1 75.6h.01M221.6 74.4h.01M228.3 71.8h.01M232.8 71.4h.01M222.0 75.6h.01M227.6 76.3h.01M224.8 74.7h.01M225.2 74.0h.01M217.6 77.9h.01M226.8 75.2h.01M223.9 75.8h.01M226.0 74.9h.01M229.6 71.1h.01M226.8 72.8h.01M225.0 78.1h.01M222.5 75.2h.01M224.1 77.1h.01M222.8 72.1h.01M227.7 74.1h.01M225.0 77.3h.01M223.1 74.6h.01M226.5 75.8h.01M224.3 77.3h.01M233.3 73.3h.01M232.1 70.1h.01M230.6 73.8h.01M226.4 74.3h.01M223.9 72.7h.01M224.7 77.7h.01M229.7 73.9h.01M224.3 73.8h.01M222.1 79.0h.01M228.2 75.0h.01M224.4 73.2h.01M230.3 76.0h.01M222.9 77.3h.01M222.4 76.7h.01M222.9 74.6h.01M227.6 75.7h.01M229.3 72.9h.01M231.2 77.0h.01M226.0 75.9h.01M223.5 75.0h.01M221.7 75.7h.01M226.7 77.6h.01M229.1 76.2h.01M224.8 74.7h.01M224.9 75.6h.01M219.7 77.3h.01M220.9 74.6h.01M226.1 74.0h.01M231.4 74.1h.01M231.1 76.7h.01M224.4 76.0h.01M230.2 73.8h.01M226.3 73.9h.01M226.2 74.3h.01M226.3 76.9h.01M230.5 74.7h.01M226.7 76.6h.01M225.1 73.0h.01M229.6 72.7h.01M229.0 72.7h.01M232.0 72.2h.01M228.8 77.6h.01M222.9 78.3h.01M223.3 71.8h.01M228.4 76.1h.01M225.3 70.1h.01M225.8 74.4h.01M224.8 74.6h.01M220.2 74.6h.01M231.9 77.3h.01M224.8 73.7h.01M227.3 76.9h.01M228.4 72.4h.01M226.5 75.2h.01M230.7 76.8h.01M227.7 77.2h.01M224.7 78.2h.01M224.6 76.0h.01M229.0 72.8h.01M223.7 71.8h.01M226.5 74.8h.01M224.9 76.1h.01M219.1 75.8h.01M226.3 74.4h.01M228.6 78.1h.01M224.5 73.3h.01M224.0 75.4h.01M227.9 73.1h.01M229.3 72.6h.01M228.7 75.5h.01M227.5 79.1h.01M225.1 74.8h.01M227.6 76.5h.01M221.6 76.1h.01M223.6 76.5h.01M230.5 74.5h.01M225.7 75.4h.01M227.8 75.1h.01M224.7 73.7h.01M225.4 77.5h.01M225.7 77.7h.01M217.6 75.1h.01M226.9 74.9h.01M220.6 74.4h.01M230.1 71.9h.01M222.8 73.2h.01M224.2 76.5h.01M227.9 70.8h.01M230.8 73.2h.01M224.1 78.5h.01M225.7 72.6h.01M223.9 73.8h.01M222.7 74.7h.01M228.9 75.3h.01M221.5 81.1h.01M222.8 75.6h.01M226.1 76.5h.01M224.9 76.0h.01M232.9 74.3h.01M222.5 76.1h.01M223.4 74.6h.01M226.6 75.6h.01M225.1 76.8h.01M225.4 72.5h.01M228.9 73.9h.01M230.0 73.2h.01M227.9 75.4h.01M217.2 73.1h.01M222.3 78.2h.01M219.8 77.6h.01M229.6 75.5h.01M228.2 73.7h.01M226.0 75.4h.01M227.4 76.2h.01M225.3 73.7h.01M224.2 76.0h.01M220.6 73.2h.01M224.7 74.1h.01M225.1 69.8h.01M224.9 74.6h.01M228.5 70.8h.01M225.0 76.1h.01M227.6 77.2h.01M229.4 72.5h.01M228.1 74.1h.01M223.4 78.4h.01M223.9 73.6h.01M224.7 73.5h.01M229.3 75.3h.01M230.6 75.2h.01M224.0 77.3h.01M223.9 74.3h.01M225.5 75.1h.01M229.9 73.3h.01M227.2 74.8h.01M221.9 73.3h.01M225.3 75.9h.01M227.0 75.8h.01M226.2 74.1h.01M227.4 72.8h.01M221.6 74.9h.01M221.3 74.6h.01M223.6 74.2h.01M225.9 73.4h.01M224.6 71.8h.01M226.5 73.2h.01M227.3 69.2h.01M223.4 75.8h.01M218.0 75.3h.01M226.3 75.2h.01M221.1 76.1h.01M226.5 73.0h.01M228.4 74.6h.01M226.1 74.1h.01M227.8 75.0h.01M229.7 75.4h.01M224.0 74.8h.01M229.0 73.9h.01M227.3 75.9h.01M225.4 70.4h.01M226.4 75.4h.01M226.4 73.4h.01M230.0 74.2h.01M224.0 73.8h.01M227.2 72.7h.01M222.7 79.4h.01M230.3 76.6h.01M230.5 75.6h.01M220.5 78.1h.01M230.1 75.5h.01M219.6 78.3h.01M230.5 73.5h.01M226.4 76.5h.01M225.7 77.2h.01M226.3 76.3h.01M226.3 72.0h.01M222.7 81.7h.01M226.9 77.5h.01M229.8 78.0h.01M227.8 73.6h.01M226.1 71.2h.01M225.4 76.9h.01M218.9 76.3h.01M228.7 77.3h.01M222.9 74.1h.01M219.8 73.7h.01M227.8 78.9h.01M222.2 78.2h.01M227.4 73.8h.01M233.2 69.1h.01M225.8 75.5h.01M233.0 77.7h.01M233.5 74.3h.01M229.2 77.3h.01M227.7 75.5h.01M225.4 74.3h.01M221.9 79.4h.01M224.5 71.0h.01M226.9 74.8h.01M226.6 78.6h.01M225.6 74.5h.01M223.5 75.3h.01M224.5 75.6h.01M236.3 74.5h.01M223.2 79.2h.01M228.9 76.3h.01M228.4 76.3h.01M228.2 77.5h.01M229.3 77.3h.01M224.3 75.2h.01M223.6 77.2h.01M228.8 73.7h.01M227.9 80.0h.01M230.1 72.3h.01M225.7 76.3h.01M225.9 75.8h.01M229.9 75.2h.01M222.4 76.9h.01M225.7 75.3h.01M224.1 72.5h.01M221.9 74.8h.01M222.5 70.0h.01M229.8 72.2h.01M223.6 76.4h.01M218.0 78.7h.01M223.5 76.6h.01M224.4 75.8h.01M226.3 75.0h.01M220.0 72.8h.01M225.9 77.8h.01M224.2 76.3h.01M226.5 75.9h.01M229.3 71.6h.01M226.9 74.5h.01M225.0 73.4h.01M223.4 73.3h.01M222.4 80.5h.01M231.6 74.3h.01M228.5 72.7h.01M216.8 72.5h.01M226.5 77.8h.01M225.9 73.0h.01M225.2 73.1h.01M221.4 75.1h.01M224.7 73.5h.01" stroke="#949494" stroke-width="0.6" stroke-linecap="round" fill="none" opacity="1.0" filter="url(#bd)"/>
<path d="M222.0 88.3h.01M226.4 91.5h.01M224.7 92.7h.01M219.2 90.0h.01M221.0 89.4h.01M225.9 90.4h.01M229.9 88.8h.01M220.7 89.3h.01M226.6 88.6h.01M229.0 91.9h.01M220.0 90.1h.01M229.5 87.0h.01M226.3 89.3h.01M220.0 91.4h.01M226.3 88.9h.01M227.2 90.5h.01M228.5 90.4h.01M227.1 88.0h.01M223.9 89.8h.01M224.0 88.2h.01M218.4 89.9h.01M225.6 88.8h.01M223.9 88.4h.01M222.6 89.5h.01M223.0 90.5h.01M224.9 89.8h.01M227.1 91.3h.01M227.8 89.9h.01M224.9 88.5h.01M224.2 90.5h.01M226.4 89.1h.01M220.3 87.5h.01M226.8 91.0h.01M227.0 87.7h.01M224.7 89.9h.01M221.9 90.1h.01M224.7 88.5h.01M220.7 90.7h.01M226.9 88.4h.01M221.5 90.8h.01M227.8 89.2h.01M231.7 89.2h.01M221.4 91.1h.01M224.8 90.1h.01M225.6 88.2h.01M220.9 89.3h.01M231.0 88.2h.01M230.8 89.9h.01M221.2 90.0h.01M227.7 88.4h.01M217.2 90.1h.01M221.2 90.2h.01M218.1 89.4h.01M222.3 87.6h.01M224.6 89.8h.01M223.3 88.0h.01M226.3 87.2h.01M227.6 90.3h.01M232.0 90.8h.01M226.9 90.0h.01M225.6 87.8h.01M231.2 90.3h.01M224.4 88.0h.01M231.3 90.3h.01M220.9 90.5h.01M232.9 89.6h.01M227.1 89.0h.01M223.1 91.1h.01M237.5 89.8h.01M225.0 90.7h.01M224.3 90.6h.01M228.7 88.2h.01M221.3 89.5h.01M228.7 90.0h.01M230.3 87.7h.01M227.4 88.8h.01M225.9 90.0h.01M221.7 89.3h.01M221.0 90.0h.01M222.2 88.9h.01M226.3 88.7h.01M230.0 88.7h.01M228.8 90.0h.01M221.5 89.3h.01M222.3 89.1h.01M224.4 92.1h.01M223.9 91.7h.01M227.2 87.8h.01M217.8 90.6h.01M229.5 90.1h.01M224.7 89.3h.01M226.5 89.2h.01M223.4 89.1h.01M230.0 88.8h.01M227.0 88.0h.01M222.7 87.7h.01M224.7 90.5h.01M226.7 88.9h.01M227.9 89.1h.01M226.9 90.0h.01M227.6 86.2h.01M220.5 90.6h.01M225.1 92.6h.01M224.6 88.9h.01M231.3 90.4h.01M232.8 90.3h.01M224.7 90.6h.01M222.5 89.0h.01M223.4 89.3h.01M228.5 88.9h.01M226.7 88.9h.01M228.9 85.9h.01M224.7 89.8h.01M221.3 91.0h.01M226.3 91.3h.01M229.2 90.5h.01M224.9 88.1h.01M224.6 89.0h.01M226.5 89.0h.01M237.3 87.4h.01M230.0 89.0h.01M224.6 90.9h.01M225.5 88.0h.01M227.1 89.3h.01M217.5 89.9h.01M221.4 88.6h.01M227.4 90.0h.01M224.4 92.5h.01M227.1 88.8h.01M226.4 89.4h.01M217.0 87.5h.01M220.1 92.4h.01M224.8 89.2h.01M223.3 90.9h.01M225.6 91.9h.01M228.5 91.8h.01M225.0 90.1h.01M223.8 89.4h.01M218.8 88.8h.01M221.8 88.7h.01M230.2 90.0h.01M230.2 90.8h.01M229.0 91.0h.01M223.2 90.7h.01M224.3 88.9h.01M230.1 92.5h.01M221.7 91.9h.01M228.7 88.5h.01M226.6 90.1h.01M226.9 89.1h.01M220.5 89.6h.01M228.8 90.7h.01M228.0 91.1h.01M221.7 89.5h.01M226.8 90.9h.01M226.1 90.3h.01M226.0 92.4h.01M217.1 89.6h.01M235.0 89.9h.01M218.4 89.8h.01M220.0 88.7h.01M226.4 91.9h.01M227.3 90.5h.01M229.4 89.9h.01M222.2 89.5h.01M226.8 89.2h.01M222.9 89.1h.01M219.7 88.2h.01" stroke="#a6a6a6" stroke-width="0.6" stroke-linecap="round" fill="none" opacity="1.0" filter="url(#bd)"/>
<rect x="216.3" y="67.7" width="22.50" height="14.60" fill="none" stroke="#7d7d7d" stroke-width="0.7"/>
<rect x="216.3" y="84" width="22.50" height="11.40" fill="none" stroke="#7d7d7d" stroke-width="0.7"/>
<rect x="197.3" y="47.5" width="50.40" height="50.40" fill="none" stroke="#3c3c3c" stroke-width="1.1"/>
<path d="M199.8 97.7v-1M202.3 97.7v-1M204.9 97.7v-1M207.4 97.7v-1M209.9 97.7v-1M212.4 97.7v-1M214.9 97.7v-1M217.5 97.7v-1M220.0 97.7v-1M222.5 97.7v-1M225.0 97.7v-1M227.5 97.7v-1M230.1 97.7v-1M232.6 97.7v-1M235.1 97.7v-1M237.6 97.7v-1M240.1 97.7v-1M242.7 97.7v-1M245.2 97.7v-1M197.5 50.0h1M197.5 52.5h1M197.5 55.1h1M197.5 57.6h1M197.5 60.1h1M197.5 62.6h1M197.5 65.1h1M197.5 67.7h1M197.5 70.2h1M197.5 72.7h1M197.5 75.2h1M197.5 77.7h1M197.5 80.3h1M197.5 82.8h1M197.5 85.3h1M197.5 87.8h1M197.5 90.3h1M197.5 92.9h1M197.5 95.4h1" stroke="#666" stroke-width="0.5" opacity="0.9"/>
<text x="193.68" y="74.70" font-size="8.0" font-weight="bold" text-anchor="middle" fill="#1a1a1a" stroke="#1a1a1a" stroke-width="0.24" transform="rotate(-90 193.68 74.70)">CD94</text>
<text x="203.2" y="81.0" font-size="8.0" font-weight="bold" text-anchor="start" fill="#1a1a1a" stroke="#1a1a1a" stroke-width="0.24">70</text>
<text x="203.2" y="95.6" font-size="8.0" font-weight="bold" text-anchor="start" fill="#1a1a1a" stroke="#1a1a1a" stroke-width="0.24">30</text>
<path d="M292.2 71.5h.01M292.6 76.6h.01M293.4 72.4h.01M289.1 69.4h.01M293.6 70.0h.01M293.7 69.4h.01M292.9 72.3h.01M295.4 71.4h.01M291.4 73.2h.01M292.7 77.4h.01M291.8 71.0h.01M291.6 73.9h.01M293.2 74.5h.01M288.5 79.7h.01M297.8 72.4h.01M289.0 72.9h.01M293.7 66.1h.01M292.5 68.2h.01M293.8 76.5h.01M295.5 68.2h.01M296.5 75.1h.01M291.5 73.9h.01M296.9 71.5h.01M292.5 70.9h.01M295.8 66.3h.01M296.6 69.7h.01M295.2 67.8h.01M289.8 70.8h.01M294.9 67.8h.01M294.2 70.7h.01M296.1 71.6h.01M293.9 72.0h.01M297.7 71.5h.01M292.4 78.2h.01M292.7 74.5h.01M290.4 73.1h.01M286.0 72.8h.01M290.6 68.2h.01M288.4 75.8h.01M293.7 68.1h.01M297.7 70.5h.01M291.4 73.2h.01M289.2 67.8h.01M290.3 75.9h.01M295.2 67.9h.01M296.0 72.6h.01M293.9 72.6h.01M293.7 69.6h.01M289.9 70.5h.01M291.4 74.3h.01M289.0 77.1h.01M290.7 70.8h.01M294.5 73.8h.01M291.5 69.4h.01M289.6 67.9h.01M295.8 75.6h.01M297.9 73.9h.01M293.5 74.7h.01M295.2 71.8h.01M293.5 78.7h.01M287.6 68.4h.01M289.7 74.7h.01M295.9 71.5h.01M294.4 72.4h.01M293.4 70.9h.01M292.4 72.5h.01M295.8 78.9h.01M287.3 74.0h.01M292.5 75.3h.01M295.6 74.8h.01M294.8 69.8h.01M287.6 77.3h.01M296.0 69.7h.01M296.2 74.4h.01M285.4 75.1h.01M289.6 75.9h.01M290.5 70.4h.01M288.0 71.9h.01M295.4 70.6h.01M287.1 78.7h.01M297.8 74.5h.01M290.9 69.0h.01M287.8 74.1h.01M296.3 69.4h.01M292.5 71.7h.01M291.8 74.0h.01M298.5 70.7h.01M295.0 75.6h.01M291.7 72.1h.01M288.6 75.6h.01M291.0 70.6h.01M292.7 70.0h.01M289.5 71.6h.01M296.8 71.9h.01M294.0 68.3h.01M286.9 77.8h.01M291.3 68.0h.01M292.2 74.3h.01M287.5 69.9h.01M293.3 69.8h.01M294.8 75.3h.01M293.8 71.3h.01M292.4 70.7h.01M292.1 73.4h.01M291.6 75.3h.01M300.0 70.9h.01M293.5 74.9h.01M294.4 71.8h.01M291.1 75.4h.01M294.3 74.0h.01M290.2 74.3h.01M294.8 72.0h.01M294.4 78.8h.01M287.1 74.3h.01M289.1 68.5h.01M291.8 74.1h.01M292.7 69.1h.01M288.3 70.9h.01M292.5 70.1h.01M288.1 77.6h.01M290.1 72.0h.01M290.9 70.8h.01M292.6 71.6h.01M294.3 69.1h.01M288.2 78.2h.01M292.3 74.7h.01M295.9 74.1h.01M292.6 68.0h.01M287.9 75.3h.01M294.5 74.2h.01M287.7 66.3h.01M289.4 69.1h.01M293.0 69.5h.01M297.1 70.7h.01M290.9 75.0h.01M293.5 69.9h.01M294.9 78.1h.01M288.9 71.8h.01M289.4 66.9h.01M294.3 74.5h.01M295.3 73.7h.01M286.6 72.4h.01M290.6 69.1h.01M289.3 74.7h.01M291.6 78.2h.01M293.9 66.9h.01M295.1 76.1h.01M292.6 69.0h.01M297.7 68.7h.01M292.3 66.9h.01M288.8 67.5h.01M295.7 75.9h.01M291.3 68.5h.01M292.3 73.6h.01M288.0 69.1h.01M292.2 74.6h.01M292.7 73.8h.01M288.9 65.2h.01M293.4 69.8h.01M292.1 71.4h.01M293.9 70.2h.01M296.7 72.6h.01M294.0 74.3h.01M295.5 73.7h.01M287.4 70.7h.01M298.0 73.9h.01M294.1 73.9h.01M290.6 70.5h.01M290.6 75.9h.01M293.6 77.7h.01M294.0 78.0h.01M293.8 69.0h.01M297.6 73.5h.01M296.0 73.1h.01M291.5 73.0h.01M289.2 69.0h.01M289.9 71.0h.01M288.5 72.2h.01M293.4 78.5h.01M297.9 72.4h.01M295.1 71.9h.01M293.7 72.4h.01M290.9 72.7h.01M288.1 73.8h.01M291.6 69.3h.01M291.4 74.1h.01M290.5 73.9h.01M294.2 77.1h.01M289.3 72.2h.01M294.0 76.9h.01M293.3 74.7h.01M288.2 70.8h.01M297.4 71.7h.01M298.9 70.3h.01M291.7 67.8h.01M294.4 73.3h.01M298.5 73.0h.01M291.8 68.3h.01M292.3 75.3h.01M294.7 76.1h.01M295.1 72.4h.01M294.3 73.0h.01M288.6 77.6h.01M293.6 69.4h.01M293.6 73.4h.01M295.5 76.8h.01M297.0 69.7h.01M287.0 73.3h.01M293.5 73.5h.01M289.2 71.1h.01M293.1 74.7h.01M299.0 73.4h.01M290.7 65.5h.01M295.7 72.1h.01M292.2 69.6h.01M294.7 67.2h.01M292.8 72.9h.01M293.4 76.4h.01M292.2 72.8h.01M295.0 67.9h.01M291.6 72.7h.01M295.3 70.1h.01M294.9 73.6h.01M288.1 68.1h.01M288.2 72.9h.01M293.1 74.7h.01M294.9 70.9h.01M295.7 74.9h.01M293.9 73.9h.01M288.7 73.6h.01M289.4 68.9h.01M291.5 72.9h.01M292.3 71.5h.01M289.5 73.1h.01M290.3 68.3h.01M292.8 76.8h.01M291.3 69.3h.01M296.6 77.6h.01M291.6 71.9h.01M293.1 81.3h.01M292.9 75.5h.01M293.8 67.1h.01M289.2 68.8h.01M293.8 72.8h.01M297.8 71.7h.01M293.4 72.7h.01M292.9 79.4h.01M293.4 76.9h.01M296.4 70.7h.01M294.5 71.4h.01M292.8 73.0h.01M292.6 71.1h.01M297.2 71.7h.01M294.6 77.5h.01M294.4 75.6h.01M296.7 75.8h.01M297.6 68.2h.01M298.4 72.6h.01M287.3 70.6h.01M288.3 72.4h.01M288.0 69.5h.01M293.4 73.0h.01M290.1 71.8h.01M292.2 72.7h.01M292.5 71.8h.01M295.1 67.7h.01M291.0 72.9h.01M291.3 70.8h.01M291.2 73.1h.01M296.2 71.9h.01M291.7 73.6h.01M291.8 66.7h.01M293.3 71.4h.01M290.8 74.4h.01M292.6 70.8h.01M286.0 67.3h.01M292.5 72.1h.01M293.8 73.2h.01M291.1 68.7h.01M289.2 72.1h.01M289.1 74.8h.01M288.5 67.1h.01M291.9 67.2h.01M297.4 69.5h.01M292.3 71.8h.01M290.0 67.2h.01M286.9 75.1h.01M295.6 79.0h.01M288.1 74.2h.01M292.5 75.0h.01M291.0 74.7h.01M295.2 74.3h.01M296.8 72.0h.01M297.1 70.4h.01M297.5 64.3h.01M292.5 70.1h.01M292.5 75.6h.01M294.7 72.8h.01M297.6 68.1h.01M290.1 77.0h.01M293.5 66.3h.01M293.5 68.9h.01M296.9 75.9h.01M290.9 76.4h.01M290.0 75.3h.01M294.2 72.1h.01M288.2 71.7h.01M285.6 70.8h.01M286.9 76.1h.01M289.6 65.2h.01M294.3 73.6h.01M291.0 78.9h.01M294.8 72.7h.01M290.6 63.6h.01M293.9 75.4h.01M290.7 68.3h.01M292.4 67.5h.01M292.5 74.8h.01M297.0 73.3h.01M293.1 74.7h.01M296.7 71.5h.01M288.8 70.1h.01M288.7 69.8h.01M292.1 73.5h.01M293.0 72.7h.01M291.4 73.8h.01M295.2 74.8h.01M297.0 71.6h.01M291.7 77.6h.01" stroke="#949494" stroke-width="0.6" stroke-linecap="round" fill="none" opacity="1.0" filter="url(#bd)"/>
<path d="M295.0 93.2h.01M292.3 94.9h.01M292.0 89.0h.01M293.7 90.7h.01M298.2 90.9h.01M294.6 91.3h.01M295.7 90.1h.01M299.5 87.7h.01M292.1 89.9h.01M297.2 92.1h.01M296.4 91.0h.01M290.4 88.6h.01M292.3 90.4h.01M295.4 93.1h.01M298.9 91.7h.01M290.3 88.8h.01M294.3 93.1h.01M303.7 92.5h.01M302.8 97.6h.01M288.8 95.6h.01M299.7 96.0h.01M294.0 94.9h.01M291.6 91.8h.01M294.1 97.3h.01M292.9 94.9h.01M294.3 89.9h.01M295.2 94.0h.01M290.4 93.9h.01M290.4 89.4h.01M295.1 91.3h.01" stroke="#c5c5c5" stroke-width="0.6" stroke-linecap="round" fill="none" opacity="1.0" filter="url(#bd)"/>
<rect x="283.3" y="63.2" width="21.70" height="19.10" fill="none" stroke="#7d7d7d" stroke-width="0.7"/>
<rect x="283.3" y="84" width="21.70" height="15.00" fill="none" stroke="#7d7d7d" stroke-width="0.7"/>
<rect x="264.9" y="49.7" width="50.60" height="50.50" fill="none" stroke="#3c3c3c" stroke-width="1.1"/>
<path d="M267.4 100.0v-1M270.0 100.0v-1M272.5 100.0v-1M275.0 100.0v-1M277.5 100.0v-1M280.1 100.0v-1M282.6 100.0v-1M285.1 100.0v-1M287.7 100.0v-1M290.2 100.0v-1M292.7 100.0v-1M295.3 100.0v-1M297.8 100.0v-1M300.3 100.0v-1M302.9 100.0v-1M305.4 100.0v-1M307.9 100.0v-1M310.4 100.0v-1M313.0 100.0v-1M265.09999999999997 52.2h1M265.09999999999997 54.8h1M265.09999999999997 57.3h1M265.09999999999997 59.8h1M265.09999999999997 62.3h1M265.09999999999997 64.9h1M265.09999999999997 67.4h1M265.09999999999997 69.9h1M265.09999999999997 72.4h1M265.09999999999997 75.0h1M265.09999999999997 77.5h1M265.09999999999997 80.0h1M265.09999999999997 82.5h1M265.09999999999997 85.1h1M265.09999999999997 87.6h1M265.09999999999997 90.1h1M265.09999999999997 92.6h1M265.09999999999997 95.2h1M265.09999999999997 97.7h1" stroke="#666" stroke-width="0.5" opacity="0.9"/>
<text x="260.38" y="76.00" font-size="8.0" font-weight="bold" text-anchor="middle" fill="#1a1a1a" stroke="#1a1a1a" stroke-width="0.24" transform="rotate(-90 260.38 76.00)">NKG2D</text>
<text x="267.4" y="77.5" font-size="8.0" font-weight="bold" text-anchor="start" fill="#1a1a1a" stroke="#1a1a1a" stroke-width="0.24">80</text>
<text x="267.4" y="97.1" font-size="8.0" font-weight="bold" text-anchor="start" fill="#1a1a1a" stroke="#1a1a1a" stroke-width="0.24">6.6</text>
<path d="M160.2 135.8h.01M162.6 142.9h.01M161.4 142.7h.01M159.0 143.5h.01M163.5 143.1h.01M161.1 142.3h.01M162.8 146.1h.01M163.1 143.0h.01M160.8 145.3h.01M165.2 140.1h.01M164.0 143.2h.01M162.4 137.1h.01M166.5 134.9h.01M163.2 140.6h.01M165.1 140.4h.01M162.6 144.3h.01M163.5 140.0h.01M164.1 143.5h.01M164.8 140.1h.01M162.4 140.5h.01M160.6 143.0h.01M163.4 147.4h.01M161.8 143.5h.01M165.1 141.6h.01M162.6 142.5h.01M160.9 138.3h.01M165.1 142.7h.01M162.3 137.3h.01M162.8 146.4h.01M159.9 138.6h.01M165.0 147.4h.01M166.1 139.9h.01M163.9 139.2h.01M163.7 140.6h.01M162.9 147.1h.01M163.3 141.1h.01M162.6 143.0h.01M161.3 142.8h.01M163.9 147.9h.01M157.8 137.5h.01M159.7 145.3h.01M168.1 142.7h.01M162.8 146.3h.01M156.9 141.3h.01M155.4 142.6h.01M161.3 140.2h.01M163.3 139.8h.01M165.0 142.0h.01M163.4 151.6h.01M161.5 145.5h.01M160.6 146.7h.01M164.7 142.5h.01M164.8 148.1h.01M165.6 142.0h.01M162.4 146.2h.01M159.1 139.7h.01M163.6 144.1h.01M166.7 148.6h.01M163.2 143.7h.01M159.5 141.3h.01M163.1 141.1h.01M162.6 144.3h.01M160.3 139.9h.01M158.5 146.3h.01M160.1 135.6h.01M164.3 141.2h.01M164.7 140.6h.01M167.3 144.7h.01M162.8 142.4h.01M162.0 145.0h.01M167.0 140.4h.01M160.0 144.2h.01M164.9 136.4h.01M160.9 138.3h.01M163.8 143.9h.01M160.8 137.8h.01M164.1 134.3h.01M164.0 141.4h.01M166.9 145.7h.01M161.2 141.0h.01M161.9 139.3h.01M162.7 145.6h.01M159.1 141.1h.01M165.9 144.8h.01M160.7 139.0h.01M160.6 136.0h.01M165.1 142.3h.01M160.9 136.6h.01M161.6 140.1h.01M166.4 140.3h.01M162.8 146.0h.01M164.0 141.3h.01M157.6 147.2h.01M163.9 140.4h.01M162.3 138.4h.01M160.5 136.5h.01M163.6 143.9h.01M162.9 144.9h.01M163.7 142.5h.01M160.5 144.2h.01M165.2 144.4h.01M165.3 140.2h.01M160.3 146.7h.01M161.2 142.9h.01M162.1 142.1h.01M161.9 140.0h.01M158.5 149.1h.01M163.0 134.8h.01M160.5 137.8h.01M160.8 132.5h.01M163.8 148.1h.01M161.9 144.8h.01M163.9 137.4h.01M165.2 135.7h.01M161.2 140.7h.01M165.3 142.4h.01M162.2 139.0h.01M162.7 142.2h.01M164.1 147.2h.01M164.2 142.1h.01M162.2 148.0h.01M163.0 141.9h.01M166.5 147.8h.01M163.8 141.6h.01M161.1 146.0h.01M161.5 145.6h.01M160.7 142.4h.01M163.4 142.5h.01M163.0 143.4h.01M160.0 137.9h.01M162.2 148.7h.01M162.2 138.6h.01M161.0 142.1h.01M165.2 139.9h.01M163.8 142.7h.01M161.7 138.5h.01M162.2 139.3h.01M163.7 135.5h.01M165.0 144.8h.01M163.8 147.6h.01M163.9 135.7h.01M162.6 143.7h.01M161.0 137.8h.01M163.5 143.9h.01M161.5 141.1h.01M161.4 139.9h.01M162.4 146.0h.01M158.9 140.7h.01M166.1 143.2h.01M162.8 145.1h.01M160.2 137.5h.01M158.8 136.6h.01M163.1 145.1h.01M161.6 139.5h.01M163.4 144.3h.01M163.1 134.9h.01M161.3 132.6h.01M163.0 138.9h.01M161.0 147.6h.01M165.5 143.8h.01M163.1 142.6h.01M161.2 141.8h.01M166.8 138.8h.01M161.0 142.6h.01M164.5 145.1h.01M160.3 141.5h.01M161.9 137.4h.01M162.7 140.2h.01M164.6 143.6h.01M160.8 142.3h.01M161.7 139.7h.01M161.4 145.9h.01M161.6 135.7h.01M160.8 145.0h.01M167.3 138.1h.01M161.7 140.8h.01M159.4 143.5h.01M162.4 143.0h.01M167.5 141.0h.01M164.3 145.1h.01M161.1 139.8h.01M166.0 144.6h.01M162.8 138.0h.01M164.5 143.9h.01M167.4 147.4h.01M164.3 143.0h.01M162.6 140.0h.01M163.2 142.9h.01M164.0 146.0h.01M163.2 140.0h.01M164.3 147.7h.01M160.6 143.6h.01M163.7 144.0h.01M163.6 141.7h.01M162.3 148.2h.01M166.4 136.8h.01M156.8 143.6h.01M161.0 140.1h.01M158.9 143.3h.01M162.4 140.0h.01M164.5 151.0h.01M165.8 146.3h.01M161.6 144.4h.01M162.4 146.3h.01M163.8 141.9h.01M163.7 139.4h.01M164.3 147.6h.01M161.7 144.1h.01M158.8 145.5h.01M164.5 138.2h.01M166.4 142.4h.01M158.6 136.9h.01M164.5 141.0h.01M165.0 136.3h.01M162.3 145.6h.01M161.0 144.5h.01M161.7 143.3h.01M163.2 150.2h.01M159.7 144.9h.01M165.4 137.9h.01M162.7 150.5h.01M164.8 131.1h.01M162.0 135.7h.01M163.2 139.3h.01M161.2 138.9h.01M163.2 140.3h.01M160.5 141.2h.01M163.4 138.8h.01M165.0 135.9h.01M163.4 140.6h.01M166.0 139.6h.01M161.0 137.0h.01M166.9 144.3h.01M160.1 140.8h.01M160.4 147.6h.01M163.4 134.5h.01M163.0 145.4h.01M162.5 143.7h.01M162.3 142.8h.01M163.0 139.4h.01M163.3 142.6h.01M162.4 139.5h.01M160.2 142.9h.01M164.3 133.1h.01M161.3 147.0h.01M164.5 139.4h.01M165.5 138.4h.01M160.7 149.2h.01M161.5 141.2h.01M158.8 138.3h.01M159.9 141.5h.01M158.4 145.9h.01M161.7 139.8h.01M161.1 144.7h.01M165.9 140.5h.01M166.1 148.0h.01M165.5 143.1h.01M159.2 144.5h.01M161.6 142.7h.01M158.3 141.0h.01M163.0 138.5h.01M163.2 148.2h.01M163.0 139.5h.01M167.8 134.0h.01M160.4 143.5h.01M161.2 133.5h.01M163.1 145.1h.01M160.7 147.4h.01M163.6 146.4h.01M159.1 142.0h.01M166.1 149.5h.01M165.5 142.0h.01M162.9 139.7h.01M165.0 139.4h.01M162.8 134.4h.01M159.1 148.6h.01M162.6 142.8h.01M157.6 141.9h.01M167.1 136.5h.01M157.2 141.4h.01M161.3 141.2h.01M159.7 137.0h.01M159.7 144.4h.01M162.4 145.0h.01M160.1 144.2h.01M161.5 142.3h.01M164.6 142.1h.01M161.7 135.8h.01M162.6 144.9h.01M161.1 141.8h.01M158.5 137.0h.01M163.4 146.8h.01M161.8 135.8h.01M161.6 136.2h.01M161.9 149.2h.01M163.2 141.4h.01M164.8 140.6h.01M163.2 142.7h.01M163.5 136.5h.01M164.1 145.3h.01M157.4 131.9h.01M160.5 147.6h.01M162.5 144.5h.01M163.8 145.3h.01M161.1 139.8h.01M163.3 144.3h.01M163.8 143.3h.01M161.4 146.1h.01M163.6 146.0h.01M156.8 145.8h.01M157.0 142.8h.01M161.0 142.5h.01M161.4 140.8h.01M162.9 143.3h.01M160.7 132.5h.01M160.7 144.0h.01M160.6 143.6h.01M161.7 138.5h.01M165.1 148.2h.01M162.3 141.8h.01M164.7 137.0h.01M160.5 146.2h.01M164.5 140.1h.01M160.7 143.3h.01M159.3 140.1h.01M162.0 132.8h.01M163.8 144.9h.01M164.9 136.6h.01M159.6 138.9h.01M159.5 149.7h.01" stroke="#949494" stroke-width="0.6" stroke-linecap="round" fill="none" opacity="1.0" filter="url(#bd)"/>
<path d="M138.2 141.5h.01M144.0 145.3h.01M150.2 137.6h.01M147.4 143.7h.01M137.2 143.7h.01M136.1 151.0h.01M139.4 148.0h.01M149.4 139.9h.01M138.6 143.6h.01M137.8 147.5h.01M143.9 139.2h.01M139.6 146.6h.01M135.8 151.4h.01M139.1 142.0h.01M138.4 151.1h.01M147.1 149.5h.01M146.2 143.4h.01M151.4 146.3h.01M145.2 145.9h.01M146.7 144.4h.01M142.2 135.1h.01M132.3 139.5h.01M140.0 144.3h.01M142.9 133.1h.01M141.3 144.5h.01M148.8 137.0h.01M131.8 135.1h.01M144.6 143.4h.01M143.7 143.7h.01M141.2 136.2h.01M145.3 144.9h.01M145.9 149.2h.01M136.8 131.3h.01M138.4 145.0h.01M142.9 146.6h.01M142.2 140.0h.01M144.2 145.6h.01M138.2 149.6h.01M148.7 145.2h.01M142.4 141.8h.01M134.8 146.3h.01M138.1 140.5h.01M148.0 138.4h.01M140.4 147.3h.01M148.5 139.7h.01M144.9 145.4h.01M137.3 148.1h.01M152.0 143.3h.01M144.3 137.1h.01M151.9 143.3h.01M136.6 146.8h.01M135.7 139.6h.01M132.3 149.9h.01M139.7 140.1h.01M140.2 145.8h.01M150.3 138.0h.01M145.2 134.0h.01M150.6 142.6h.01M139.5 150.7h.01M142.5 149.8h.01M148.4 151.3h.01M139.0 143.3h.01M144.8 142.0h.01M150.6 139.4h.01M148.0 149.8h.01M133.2 138.2h.01M138.5 140.3h.01M145.0 142.1h.01M143.4 140.7h.01M142.6 145.4h.01M146.7 139.1h.01M142.4 139.2h.01M142.1 135.8h.01M147.8 146.4h.01M142.4 139.6h.01M140.7 139.7h.01M135.3 151.2h.01M137.2 145.9h.01M146.0 135.1h.01M133.4 145.7h.01M133.0 150.1h.01M140.5 143.4h.01M143.0 140.2h.01" stroke="#c2c2c2" stroke-width="0.6" stroke-linecap="round" fill="none" opacity="1.0" filter="url(#bd)"/>
<rect x="130.6" y="130.7" width="21.60" height="22.10" fill="none" stroke="#7d7d7d" stroke-width="0.7"/>
<rect x="154.2" y="130.7" width="15.30" height="22.60" fill="none" stroke="#7d7d7d" stroke-width="0.7"/>
<rect x="130.5" y="121.4" width="51.30" height="50.30" fill="none" stroke="#3c3c3c" stroke-width="1.1"/>
<path d="M133.1 171.5v-1M135.6 171.5v-1M138.2 171.5v-1M140.8 171.5v-1M143.3 171.5v-1M145.9 171.5v-1M148.5 171.5v-1M151.0 171.5v-1M153.6 171.5v-1M156.2 171.5v-1M158.7 171.5v-1M161.3 171.5v-1M163.8 171.5v-1M166.4 171.5v-1M169.0 171.5v-1M171.5 171.5v-1M174.1 171.5v-1M176.7 171.5v-1M179.2 171.5v-1M130.7 123.9h1M130.7 126.4h1M130.7 128.9h1M130.7 131.5h1M130.7 134.0h1M130.7 136.5h1M130.7 139.0h1M130.7 141.5h1M130.7 144.0h1M130.7 146.6h1M130.7 149.1h1M130.7 151.6h1M130.7 154.1h1M130.7 156.6h1M130.7 159.1h1M130.7 161.6h1M130.7 164.2h1M130.7 166.7h1M130.7 169.2h1" stroke="#666" stroke-width="0.5" opacity="0.9"/>
<text x="123.18" y="147.00" font-size="8.0" font-weight="bold" text-anchor="middle" fill="#1a1a1a" stroke="#1a1a1a" stroke-width="0.24" transform="rotate(-90 123.18 147.00)">CD56</text>
<text x="135.4" y="162.5" font-size="8.0" font-weight="bold" text-anchor="start" fill="#1a1a1a" stroke="#1a1a1a" stroke-width="0.24">22</text>
<text x="155.0" y="162.5" font-size="8.0" font-weight="bold" text-anchor="start" fill="#1a1a1a" stroke="#1a1a1a" stroke-width="0.24">76</text>
<path d="M226.7 150.6h.01M229.4 151.6h.01M226.9 149.6h.01M225.8 148.6h.01M227.0 160.4h.01M229.1 153.1h.01M230.2 156.7h.01M227.4 151.2h.01M224.9 153.1h.01M226.4 144.7h.01M224.6 160.9h.01M227.4 154.3h.01M227.4 149.9h.01M227.9 157.0h.01M226.4 154.4h.01M228.9 149.8h.01M227.3 148.6h.01M228.1 150.3h.01M229.2 148.5h.01M230.2 150.6h.01M225.4 147.8h.01M228.3 148.1h.01M230.4 157.9h.01M228.0 145.5h.01M227.0 148.7h.01M223.6 154.0h.01M231.2 149.5h.01M228.5 157.9h.01M225.2 150.4h.01M227.5 154.2h.01M224.8 153.0h.01M226.8 156.4h.01M224.0 149.4h.01M226.0 150.5h.01M228.4 149.1h.01M232.2 148.7h.01M228.6 156.7h.01M228.8 151.1h.01M225.4 150.8h.01M228.3 152.6h.01M228.1 154.6h.01M225.3 147.7h.01M229.7 149.8h.01M224.0 160.6h.01M225.4 147.7h.01M228.8 146.8h.01M225.3 156.8h.01M225.4 163.5h.01M227.2 164.3h.01M227.2 152.3h.01M225.8 151.0h.01M226.0 151.9h.01M228.5 146.2h.01M225.3 142.4h.01M229.9 151.7h.01M227.0 151.7h.01M228.9 153.5h.01M228.6 151.2h.01M226.8 151.7h.01M223.5 157.0h.01M224.0 147.4h.01M228.3 152.3h.01M228.5 159.8h.01M230.5 158.4h.01M226.6 161.4h.01M225.3 151.6h.01M228.9 151.0h.01M226.8 150.4h.01M229.6 140.7h.01M229.4 156.9h.01M226.9 154.6h.01M225.2 157.1h.01M232.8 147.8h.01M229.7 151.7h.01M226.4 149.8h.01M226.6 146.2h.01M224.4 159.6h.01M227.0 154.5h.01M227.6 154.2h.01M224.1 147.6h.01M228.2 156.6h.01M224.8 149.3h.01M225.0 155.0h.01M227.7 152.2h.01M225.8 153.6h.01M227.1 148.6h.01M227.6 148.9h.01M228.8 154.9h.01M225.7 154.7h.01M227.1 148.8h.01M225.3 144.4h.01M224.9 153.6h.01M229.3 149.1h.01M227.3 153.6h.01M228.5 154.0h.01M229.3 155.5h.01M225.6 153.8h.01M222.6 151.2h.01M227.0 154.7h.01M226.4 155.8h.01M229.5 148.1h.01M226.0 153.2h.01M227.9 152.7h.01M228.6 146.6h.01M228.5 157.4h.01M229.1 154.0h.01M226.5 153.8h.01M226.9 144.7h.01M225.8 151.8h.01M226.0 147.7h.01M226.6 150.3h.01M227.1 151.8h.01M227.3 156.6h.01M227.3 153.9h.01M224.7 138.4h.01M226.2 155.1h.01M226.4 149.1h.01M224.6 156.1h.01M226.0 153.1h.01M229.1 154.5h.01M231.3 151.4h.01M228.8 155.2h.01M225.8 152.2h.01M225.9 147.3h.01M227.6 148.4h.01M230.2 148.6h.01M226.0 152.4h.01M226.0 152.2h.01M225.8 145.5h.01M222.4 146.1h.01M229.9 154.0h.01M227.3 149.9h.01M226.7 153.4h.01M224.4 148.3h.01M225.3 157.8h.01M225.0 157.4h.01M226.1 164.5h.01M226.9 152.1h.01M229.6 156.0h.01M228.8 147.1h.01M229.2 159.7h.01M226.8 149.8h.01M224.9 156.7h.01M227.6 152.0h.01M224.7 159.5h.01M228.7 151.9h.01M229.8 147.6h.01M228.7 147.4h.01M229.7 150.7h.01M229.3 150.1h.01M227.8 157.3h.01M225.3 152.4h.01M225.4 155.9h.01M225.9 150.3h.01M226.6 157.4h.01M225.0 151.9h.01M226.4 149.5h.01M225.5 151.3h.01M227.4 144.9h.01M227.4 146.6h.01M227.0 162.5h.01M225.2 151.7h.01M226.5 156.5h.01M226.1 143.8h.01M223.9 152.8h.01M227.5 156.9h.01M226.0 155.1h.01M225.0 158.0h.01M226.9 148.9h.01M227.3 160.0h.01M225.4 146.3h.01M225.1 146.7h.01M226.9 153.6h.01M226.7 152.9h.01M229.3 150.7h.01M224.6 141.5h.01M227.5 148.9h.01M226.5 153.9h.01M227.9 144.8h.01M225.2 152.3h.01M226.7 157.3h.01M226.0 142.5h.01M229.2 144.5h.01M225.2 153.8h.01M225.0 163.4h.01M227.5 154.5h.01M226.2 162.2h.01M228.0 148.7h.01M229.4 144.2h.01M225.9 153.3h.01M227.3 147.6h.01M230.0 158.8h.01M225.2 153.7h.01M225.8 150.0h.01M228.9 152.6h.01M226.8 152.5h.01M224.8 157.6h.01M225.6 158.0h.01M226.1 149.9h.01M229.8 152.9h.01M225.8 149.5h.01M228.2 160.6h.01M228.2 150.2h.01M224.9 148.9h.01M226.8 153.1h.01M225.8 157.9h.01M225.2 148.7h.01M227.9 154.2h.01M226.3 156.4h.01M224.3 159.5h.01M231.2 161.0h.01M227.2 161.0h.01M227.1 158.1h.01M226.6 152.9h.01M228.0 144.0h.01M226.6 159.9h.01M221.4 153.8h.01M228.8 153.5h.01M227.4 158.4h.01M227.6 143.3h.01M225.2 150.6h.01M227.3 149.9h.01M226.8 159.7h.01M221.4 157.3h.01M228.8 154.8h.01M227.0 152.3h.01M227.7 153.1h.01M225.6 155.6h.01M225.4 151.8h.01M226.3 146.7h.01" stroke="#a2a2a2" stroke-width="0.6" stroke-linecap="round" fill="none" opacity="1.0" filter="url(#bd)"/>
<path d="M228.7 163.3h.01M223.7 163.3h.01M223.1 166.9h.01M228.4 168.3h.01M225.4 165.2h.01M224.3 161.5h.01M226.8 164.5h.01M229.6 162.9h.01M230.1 165.8h.01M224.6 163.1h.01M224.4 167.6h.01M225.5 165.6h.01M229.6 162.9h.01M225.6 164.3h.01M224.8 160.5h.01M224.3 164.3h.01M227.5 167.7h.01M221.9 164.7h.01M223.8 166.3h.01M228.9 163.8h.01M231.1 162.6h.01M225.5 161.0h.01M225.2 163.8h.01M228.9 166.6h.01M226.3 161.8h.01M226.1 162.5h.01M225.7 162.5h.01M224.6 163.4h.01M225.6 163.1h.01M223.1 163.8h.01M228.6 165.0h.01M225.5 160.8h.01M223.4 160.7h.01M225.2 162.8h.01M222.1 165.1h.01M222.7 161.9h.01M225.0 165.5h.01M232.1 162.7h.01M226.2 162.6h.01M226.4 163.1h.01M233.9 160.9h.01M226.7 161.6h.01M228.0 162.3h.01M228.6 160.9h.01M232.9 164.0h.01M222.1 165.2h.01M225.7 160.8h.01M228.2 162.3h.01M229.0 162.2h.01M229.5 163.9h.01M228.0 163.9h.01M226.0 162.6h.01M228.3 165.2h.01M225.9 168.8h.01M231.7 160.8h.01M230.0 163.3h.01M227.6 161.6h.01M231.6 161.5h.01M226.8 161.8h.01M232.3 166.5h.01M223.4 162.4h.01M228.0 162.5h.01M226.0 161.0h.01M227.7 160.9h.01M229.3 169.2h.01M226.1 167.4h.01M228.0 161.9h.01M226.0 161.2h.01M227.3 165.2h.01M229.6 162.8h.01M223.7 163.3h.01M231.6 164.2h.01M226.8 158.6h.01M225.8 164.8h.01M224.4 166.7h.01M225.4 161.4h.01M225.4 163.3h.01M229.8 162.2h.01M222.1 163.3h.01M228.4 167.1h.01M223.9 167.0h.01M228.9 164.6h.01M224.9 161.4h.01M224.4 165.7h.01M227.6 166.0h.01M232.0 163.6h.01M226.9 168.0h.01M223.4 162.5h.01M226.0 162.6h.01M227.4 161.5h.01M230.2 160.3h.01M224.8 159.5h.01M223.1 164.9h.01M228.7 163.0h.01M229.3 165.0h.01M225.4 163.4h.01M228.0 168.2h.01M225.8 164.4h.01M228.5 166.4h.01M228.2 166.0h.01M224.1 162.9h.01M221.7 163.4h.01M233.4 164.1h.01M227.2 164.1h.01M227.4 160.4h.01M225.1 163.1h.01M227.5 161.5h.01M226.7 161.8h.01M223.4 162.0h.01M224.8 165.5h.01M230.7 164.9h.01M226.4 162.2h.01M222.7 162.3h.01M231.3 166.2h.01M227.6 162.9h.01M227.0 164.5h.01M227.0 164.5h.01M224.9 163.6h.01M226.0 166.0h.01M223.6 166.6h.01M226.8 162.3h.01M227.1 163.8h.01M226.4 164.5h.01M225.4 159.5h.01M228.9 163.5h.01M231.6 164.4h.01M221.5 166.4h.01M225.1 164.8h.01M233.1 166.1h.01M224.0 163.3h.01M222.6 165.1h.01M228.5 161.1h.01M228.2 165.7h.01M229.2 161.9h.01M225.1 160.9h.01M223.4 164.3h.01M227.1 166.6h.01M227.8 162.8h.01M223.1 167.1h.01M227.5 163.4h.01M224.2 161.1h.01M228.7 161.2h.01M228.6 165.0h.01M226.0 159.7h.01M228.1 166.8h.01M224.7 160.6h.01M230.0 163.9h.01M225.3 166.4h.01M226.2 164.6h.01M225.9 161.8h.01M227.6 161.5h.01M222.1 162.3h.01M230.4 166.1h.01M233.0 165.8h.01M231.4 164.1h.01M225.8 164.6h.01M224.4 165.2h.01M225.8 164.1h.01M224.7 163.2h.01M229.7 163.0h.01M225.1 164.2h.01M229.4 163.1h.01M223.8 159.9h.01M223.3 166.0h.01M226.8 164.6h.01M230.0 164.2h.01M228.3 162.3h.01M222.6 165.0h.01M226.7 164.9h.01M224.1 163.2h.01M232.5 161.6h.01M227.3 166.6h.01M226.4 163.8h.01M221.2 165.3h.01M225.8 166.5h.01M226.8 162.7h.01M228.2 163.0h.01M225.6 167.1h.01M229.7 163.8h.01M229.2 165.4h.01M228.6 163.6h.01M227.2 164.5h.01M228.6 164.4h.01M225.5 163.4h.01M228.3 161.3h.01M227.0 165.3h.01M227.5 162.9h.01M226.9 162.4h.01M229.7 162.7h.01M222.4 160.7h.01M227.8 164.0h.01M225.7 160.5h.01M226.6 161.6h.01M225.2 163.5h.01M224.9 164.3h.01M225.0 162.5h.01M226.4 166.9h.01M231.3 165.7h.01M225.0 163.5h.01M229.5 165.4h.01M222.5 163.4h.01M225.0 165.3h.01M228.7 162.3h.01M232.9 162.9h.01M233.7 163.1h.01M226.8 167.9h.01M225.6 162.5h.01M231.0 163.4h.01M228.3 160.6h.01M231.9 165.8h.01M228.0 165.2h.01M225.6 162.4h.01M222.7 164.4h.01M230.4 165.5h.01M229.5 165.2h.01M224.5 160.5h.01M228.8 163.9h.01M229.7 162.9h.01M224.6 164.6h.01M225.5 159.8h.01M225.3 161.5h.01M223.9 162.3h.01M229.6 168.9h.01M231.7 162.6h.01M230.1 163.4h.01M228.1 162.0h.01M226.8 159.7h.01M231.9 161.8h.01M228.6 162.2h.01M227.7 160.8h.01M226.0 165.6h.01M228.6 159.1h.01M229.3 160.5h.01M227.8 164.7h.01M225.2 162.8h.01M226.3 164.5h.01M229.5 166.7h.01M227.9 168.1h.01M224.4 167.6h.01M226.3 165.3h.01M226.7 163.7h.01M224.5 164.4h.01M232.6 163.9h.01M226.9 163.5h.01M229.0 163.1h.01M227.0 164.0h.01M230.6 165.7h.01M224.1 162.1h.01M227.1 165.5h.01M229.7 163.1h.01M232.8 163.2h.01M230.9 166.8h.01M231.4 164.0h.01M228.6 160.1h.01M222.1 162.1h.01M229.0 166.0h.01M226.7 165.9h.01M228.6 167.0h.01M222.6 161.7h.01M224.4 161.2h.01" stroke="#a2a2a2" stroke-width="0.6" stroke-linecap="round" fill="none" opacity="1.0" filter="url(#bd)"/>
<path d="M229.5 161.8h.01M207.7 163.1h.01M222.8 162.9h.01M221.5 165.3h.01M209.4 158.4h.01M206.9 161.1h.01M229.4 162.3h.01M205.6 164.9h.01M215.5 161.8h.01M224.7 166.2h.01M217.5 162.2h.01M207.3 159.2h.01M218.4 165.0h.01M206.9 164.1h.01M243.9 161.4h.01M199.9 165.5h.01M211.2 162.9h.01M220.5 163.7h.01M223.8 165.3h.01M225.2 164.3h.01M200.0 166.5h.01M217.2 160.7h.01M215.6 166.1h.01M206.0 164.1h.01M208.5 161.6h.01M209.6 167.1h.01M221.1 164.0h.01M214.3 164.3h.01M217.5 164.5h.01M199.8 166.2h.01M207.4 157.8h.01M221.2 161.2h.01M213.7 163.8h.01M209.8 165.3h.01M212.6 163.4h.01M206.6 163.4h.01M205.8 164.1h.01M226.7 166.4h.01M218.8 160.8h.01M224.1 166.2h.01M233.2 158.7h.01M215.1 163.2h.01M224.6 161.4h.01M211.6 169.5h.01M223.8 159.3h.01M215.2 167.3h.01M209.5 165.4h.01M215.9 160.5h.01M209.5 166.7h.01M225.5 162.6h.01M225.0 162.3h.01M217.2 164.0h.01M203.9 164.8h.01M211.6 157.5h.01M207.7 162.0h.01M207.6 161.7h.01M208.9 158.2h.01M222.9 164.2h.01M217.3 163.4h.01M215.6 163.4h.01M205.4 160.4h.01M215.7 166.4h.01M217.1 167.9h.01M202.9 163.4h.01M209.5 167.0h.01M230.0 162.8h.01M221.5 163.4h.01M206.2 163.8h.01M205.8 167.7h.01M220.2 166.8h.01M218.2 158.2h.01M222.1 164.2h.01M224.0 168.1h.01M205.9 165.9h.01M217.9 163.6h.01M212.5 165.3h.01M220.1 165.6h.01M211.4 160.9h.01M226.7 167.1h.01M210.0 163.9h.01M222.1 159.8h.01M219.4 169.8h.01M217.4 162.3h.01M233.1 164.0h.01M216.9 163.0h.01M216.6 159.7h.01M203.6 160.5h.01M223.0 163.8h.01" stroke="#c6c6c6" stroke-width="0.6" stroke-linecap="round" fill="none" opacity="1.0" filter="url(#bd)"/>
<rect x="197.2" y="140.2" width="36.70" height="17.10" fill="none" stroke="#7d7d7d" stroke-width="0.7"/>
<rect x="197.2" y="121.4" width="50.70" height="50.50" fill="none" stroke="#3c3c3c" stroke-width="1.1"/>
<path d="M199.7 171.70000000000002v-1M202.3 171.70000000000002v-1M204.8 171.70000000000002v-1M207.3 171.70000000000002v-1M209.9 171.70000000000002v-1M212.4 171.70000000000002v-1M214.9 171.70000000000002v-1M217.5 171.70000000000002v-1M220.0 171.70000000000002v-1M222.6 171.70000000000002v-1M225.1 171.70000000000002v-1M227.6 171.70000000000002v-1M230.2 171.70000000000002v-1M232.7 171.70000000000002v-1M235.2 171.70000000000002v-1M237.8 171.70000000000002v-1M240.3 171.70000000000002v-1M242.8 171.70000000000002v-1M245.4 171.70000000000002v-1M197.39999999999998 123.9h1M197.39999999999998 126.5h1M197.39999999999998 129.0h1M197.39999999999998 131.5h1M197.39999999999998 134.0h1M197.39999999999998 136.6h1M197.39999999999998 139.1h1M197.39999999999998 141.6h1M197.39999999999998 144.1h1M197.39999999999998 146.7h1M197.39999999999998 149.2h1M197.39999999999998 151.7h1M197.39999999999998 154.2h1M197.39999999999998 156.8h1M197.39999999999998 159.3h1M197.39999999999998 161.8h1M197.39999999999998 164.3h1M197.39999999999998 166.9h1M197.39999999999998 169.4h1" stroke="#666" stroke-width="0.5" opacity="0.9"/>
<text x="193.68" y="149.00" font-size="8.0" font-weight="bold" text-anchor="middle" fill="#1a1a1a" stroke="#1a1a1a" stroke-width="0.24" transform="rotate(-90 193.68 149.00)">CD16</text>
<text x="211.6" y="136.1" font-size="8.0" font-weight="bold" text-anchor="start" fill="#1a1a1a" stroke="#1a1a1a" stroke-width="0.24">25</text>
<path d="M299.1 143.0h.01M295.1 158.4h.01M294.7 143.8h.01M294.8 150.5h.01M296.5 157.8h.01M299.5 158.8h.01M297.8 149.8h.01M295.4 145.5h.01M299.4 157.5h.01M296.7 148.1h.01M298.0 154.2h.01M296.8 146.9h.01M297.0 149.5h.01M298.2 154.6h.01M297.5 150.1h.01M299.9 155.4h.01M299.4 155.7h.01M298.0 153.7h.01M294.1 144.0h.01M294.4 154.7h.01M298.6 152.8h.01M296.7 160.1h.01M295.6 144.1h.01M293.0 150.6h.01M298.1 155.3h.01M296.0 155.6h.01M296.4 148.8h.01M295.6 155.3h.01M298.7 147.1h.01M294.3 152.5h.01M301.3 146.8h.01M293.7 153.9h.01M297.6 149.3h.01M296.4 154.1h.01M292.6 151.9h.01M297.9 156.1h.01M299.1 151.7h.01M293.2 157.9h.01M298.2 149.2h.01M298.8 156.6h.01M296.2 141.6h.01M295.4 148.7h.01M294.6 151.6h.01M294.1 153.7h.01M300.8 146.8h.01M298.8 149.7h.01M297.7 151.4h.01M299.4 148.9h.01M298.2 148.6h.01M297.0 151.9h.01M299.0 145.0h.01M293.5 158.1h.01M297.4 159.5h.01M294.2 152.9h.01M297.9 159.8h.01M296.4 150.0h.01M298.1 151.6h.01M294.8 155.4h.01M292.2 147.5h.01M299.6 149.8h.01M295.8 153.6h.01M299.0 154.3h.01M294.3 149.5h.01M298.9 151.5h.01M295.1 155.9h.01M299.1 161.6h.01M294.1 148.9h.01M294.9 153.6h.01M295.4 156.9h.01M290.5 156.2h.01M295.1 150.8h.01M297.8 152.9h.01M294.2 158.6h.01M297.8 149.8h.01M297.0 147.1h.01M293.7 150.7h.01M297.3 152.4h.01M294.8 145.9h.01M292.7 159.0h.01M297.3 148.5h.01M299.2 154.4h.01M295.6 149.3h.01M299.1 153.4h.01M300.2 153.6h.01M295.2 149.4h.01M294.9 153.1h.01M297.1 154.7h.01M297.5 147.4h.01M296.0 147.8h.01M297.6 146.2h.01M295.2 148.2h.01M295.1 150.9h.01M299.9 150.9h.01M293.3 150.7h.01M298.2 154.4h.01M297.0 160.8h.01M299.0 152.4h.01M299.2 146.1h.01M296.1 148.2h.01M296.9 159.1h.01M295.4 159.0h.01M294.2 158.3h.01M292.7 148.3h.01M298.7 151.6h.01M296.8 151.9h.01M296.9 151.2h.01M294.3 150.7h.01M296.7 148.0h.01M297.5 159.8h.01M292.8 149.6h.01M295.9 152.1h.01M296.7 148.8h.01M296.4 152.0h.01M296.3 158.8h.01M296.8 145.5h.01M293.0 154.6h.01M295.7 149.3h.01M293.5 150.6h.01M296.3 149.0h.01M295.7 155.9h.01M298.3 154.4h.01M296.1 146.0h.01M298.2 158.6h.01M299.3 157.1h.01M297.1 153.7h.01M296.5 157.5h.01M295.9 161.5h.01M298.2 150.6h.01M296.5 144.9h.01M294.9 150.7h.01M302.0 148.4h.01M298.6 152.3h.01M295.8 154.8h.01M292.0 156.2h.01M300.8 153.3h.01M296.4 152.7h.01M298.0 149.8h.01M296.8 154.2h.01M295.7 153.7h.01M297.2 155.2h.01M294.3 149.6h.01M295.5 157.3h.01M297.1 144.7h.01M293.6 160.6h.01M297.3 146.3h.01M294.5 152.6h.01M299.7 159.1h.01M295.7 150.7h.01M300.8 147.7h.01M300.0 153.5h.01M296.7 157.7h.01M297.6 148.3h.01M293.1 152.1h.01M297.6 158.0h.01M290.7 157.9h.01M297.9 158.7h.01M298.3 152.9h.01M297.5 153.8h.01M295.1 151.5h.01M296.8 150.0h.01M293.2 145.6h.01M297.6 154.3h.01M296.7 146.8h.01M298.4 150.3h.01M291.9 158.9h.01M293.2 162.0h.01M297.7 150.1h.01M291.2 148.9h.01M299.8 158.0h.01M297.1 144.4h.01M295.6 150.8h.01M297.5 151.4h.01M297.3 144.8h.01M295.1 158.4h.01M293.3 156.1h.01M301.7 154.9h.01M293.4 157.5h.01M292.4 153.5h.01M295.6 157.5h.01M299.1 152.8h.01M300.5 156.3h.01M295.4 147.7h.01M302.0 150.2h.01M297.4 151.5h.01M295.4 144.9h.01M296.2 151.5h.01M298.7 149.7h.01M293.0 147.3h.01M296.4 153.1h.01M298.1 150.3h.01M297.7 152.6h.01M300.3 151.8h.01M296.8 154.5h.01M299.2 147.9h.01M295.4 150.8h.01M291.7 157.8h.01M298.9 152.1h.01M304.0 157.6h.01M301.0 159.0h.01M298.5 145.7h.01M299.9 153.9h.01M293.8 152.2h.01M298.2 156.4h.01M296.9 149.7h.01M298.2 148.6h.01M296.3 155.4h.01M293.3 153.7h.01M292.1 147.9h.01M293.7 151.6h.01M298.1 151.8h.01M298.5 152.4h.01M296.0 154.2h.01M296.0 152.6h.01M298.8 149.5h.01M299.1 147.1h.01M296.0 144.3h.01M295.3 159.0h.01M297.3 157.6h.01M293.2 147.5h.01M297.5 155.7h.01M298.4 144.6h.01M297.6 151.7h.01M296.8 154.1h.01M295.9 144.5h.01M294.1 145.6h.01M293.6 151.4h.01M299.4 148.8h.01M294.8 146.9h.01M292.6 152.3h.01M295.4 150.9h.01M294.4 154.2h.01M293.8 154.4h.01M295.0 155.5h.01M294.5 154.0h.01M297.5 151.6h.01M300.2 152.8h.01M294.5 155.1h.01M294.7 149.6h.01M296.5 152.8h.01M300.3 144.2h.01M295.9 157.0h.01M296.1 153.4h.01M299.9 146.5h.01M296.6 155.5h.01M295.2 144.2h.01M294.3 152.9h.01M296.9 160.2h.01M299.5 145.1h.01M298.8 156.1h.01M300.1 151.3h.01M295.3 152.7h.01M300.0 154.8h.01M300.3 155.5h.01M295.2 147.5h.01M300.6 145.3h.01M295.7 150.6h.01M294.5 149.5h.01M296.5 162.6h.01M296.4 149.7h.01M296.8 156.2h.01M294.7 150.2h.01M292.6 155.1h.01M298.0 158.7h.01M293.8 161.7h.01M298.5 150.8h.01M295.6 150.6h.01M293.8 155.4h.01M295.1 148.8h.01M297.7 152.5h.01M295.2 151.0h.01M295.4 158.0h.01M298.7 148.8h.01M296.4 158.1h.01M295.9 159.9h.01M297.5 155.0h.01M291.8 155.8h.01M297.3 154.6h.01M297.6 154.3h.01M295.4 156.0h.01M296.6 147.3h.01M294.2 152.7h.01M297.3 142.2h.01M291.9 156.7h.01M296.5 164.7h.01M293.1 150.9h.01M295.2 154.5h.01M299.7 159.2h.01M294.2 157.5h.01M293.8 153.4h.01M296.9 154.8h.01M294.7 158.0h.01M296.3 151.9h.01M295.9 147.2h.01M298.1 153.5h.01M297.5 160.3h.01M294.6 150.7h.01M296.5 155.8h.01M296.1 156.2h.01M297.5 144.2h.01M295.0 142.9h.01" stroke="#9c9c9c" stroke-width="0.6" stroke-linecap="round" fill="none" opacity="1.0" filter="url(#bd)"/>
<path d="M294.2 164.0h.01M296.7 165.4h.01M294.8 167.9h.01M296.7 162.1h.01M293.0 165.8h.01M300.0 164.5h.01M294.5 165.6h.01M297.3 164.8h.01M295.9 164.0h.01M293.4 163.2h.01M296.9 163.7h.01M296.6 165.9h.01M297.9 158.7h.01M292.2 162.2h.01M294.5 166.9h.01M302.4 168.6h.01M299.0 165.9h.01M293.9 166.2h.01M288.6 167.2h.01M295.0 166.4h.01M292.0 162.4h.01M293.1 164.9h.01M296.0 164.2h.01M296.0 166.6h.01M291.6 164.8h.01M290.4 163.7h.01M297.7 163.3h.01M300.5 166.2h.01M297.6 165.2h.01M297.5 167.6h.01M295.3 163.8h.01M293.4 169.5h.01M294.5 163.9h.01M292.9 161.1h.01M293.5 165.8h.01M293.6 163.2h.01M296.2 166.1h.01M293.7 165.7h.01M292.1 167.0h.01M292.1 164.2h.01M295.4 164.0h.01M291.6 169.9h.01M299.4 160.9h.01M295.4 162.0h.01M295.9 162.0h.01M296.7 166.2h.01M300.0 167.8h.01M293.7 167.2h.01M293.7 164.7h.01M293.5 160.9h.01M296.8 160.3h.01M294.3 166.2h.01M295.3 161.3h.01M293.1 166.6h.01M298.2 168.7h.01M289.7 166.1h.01M293.6 166.8h.01M290.1 164.7h.01M297.1 163.5h.01M293.9 162.7h.01M298.3 161.9h.01M292.3 164.2h.01M294.1 169.9h.01M295.8 163.1h.01M296.7 165.8h.01M295.8 164.8h.01M296.4 162.3h.01M291.5 164.0h.01M291.8 166.6h.01M300.7 167.9h.01M296.3 165.8h.01M293.0 162.0h.01M296.6 161.5h.01M295.9 164.7h.01M297.2 165.1h.01M295.3 163.6h.01M290.0 164.2h.01M297.0 167.4h.01M299.0 162.7h.01M292.3 166.6h.01M293.7 171.0h.01M295.9 161.5h.01M293.4 168.7h.01M289.7 165.4h.01M290.9 168.7h.01M293.7 162.6h.01M290.0 163.3h.01M287.5 163.9h.01M301.4 165.2h.01M294.2 162.3h.01M296.0 163.9h.01M292.5 168.2h.01M296.3 162.9h.01M299.3 164.9h.01M296.5 165.3h.01M298.5 166.4h.01M294.0 166.7h.01M293.9 165.3h.01M299.8 162.5h.01M292.0 164.1h.01M293.5 168.0h.01M290.3 170.4h.01M299.6 163.9h.01M295.5 164.2h.01M297.0 166.5h.01M297.2 166.8h.01M300.7 164.6h.01M297.1 164.6h.01M295.1 165.5h.01M294.8 165.8h.01M292.5 164.6h.01M293.2 162.3h.01M292.9 163.8h.01M294.6 161.3h.01M294.2 162.4h.01M292.6 165.4h.01M298.3 165.7h.01M293.6 164.0h.01M298.9 161.2h.01M298.3 161.5h.01M293.1 165.1h.01M294.4 168.9h.01M296.5 164.9h.01M297.8 165.1h.01M292.6 167.6h.01M299.4 168.0h.01M291.6 169.5h.01M293.8 166.8h.01M298.5 170.6h.01M290.3 162.6h.01M298.5 166.2h.01M294.1 158.1h.01M296.3 164.6h.01M287.3 171.3h.01M287.7 163.7h.01M295.0 165.5h.01M297.2 164.4h.01M292.4 164.2h.01M288.8 162.4h.01M300.8 163.4h.01M294.8 169.4h.01M298.1 165.3h.01M297.2 164.4h.01M292.3 167.3h.01M295.4 168.8h.01M294.2 164.1h.01M296.0 164.6h.01M294.1 162.9h.01M295.7 165.8h.01M300.4 164.9h.01M289.8 166.1h.01M301.7 164.0h.01M292.6 164.6h.01M286.6 164.2h.01M294.4 161.5h.01M296.7 162.9h.01M289.6 163.3h.01M296.9 169.5h.01M298.7 165.5h.01M293.5 164.4h.01M297.8 163.8h.01M296.2 167.3h.01M292.3 163.6h.01M296.3 165.0h.01M294.6 163.8h.01M294.8 169.4h.01M299.0 161.2h.01M295.1 165.2h.01M295.1 161.8h.01M294.6 165.3h.01" stroke="#b0b0b0" stroke-width="0.6" stroke-linecap="round" fill="none" opacity="1.0" filter="url(#bd)"/>
<path d="M277.7 162.5h.01M283.8 162.9h.01M281.7 158.8h.01M284.5 166.3h.01M290.1 160.6h.01M279.3 166.2h.01M287.2 165.3h.01M280.8 156.8h.01M284.5 157.9h.01M292.0 165.2h.01M265.9 164.3h.01M293.5 166.1h.01M279.3 156.8h.01M290.6 166.0h.01M283.5 155.4h.01M271.0 162.3h.01M276.5 157.7h.01M286.5 166.1h.01M266.8 157.7h.01M293.2 160.8h.01M280.3 164.1h.01M274.1 155.0h.01M283.2 168.7h.01M291.0 161.0h.01M290.9 159.0h.01M273.7 152.8h.01M285.1 165.4h.01M285.9 160.8h.01M279.9 166.3h.01M282.6 153.9h.01M293.8 157.8h.01M286.1 161.0h.01M291.3 162.2h.01M292.6 162.0h.01M279.4 158.5h.01M288.1 156.9h.01M290.3 159.8h.01M275.7 156.7h.01M281.9 169.7h.01M289.1 161.1h.01M275.9 170.3h.01M280.8 161.0h.01M279.7 167.5h.01M284.4 158.8h.01M284.5 156.1h.01M274.7 160.2h.01M298.6 155.6h.01M281.9 153.3h.01M284.4 162.0h.01M288.8 154.5h.01M278.3 157.8h.01M281.1 172.2h.01M281.4 160.8h.01M279.0 164.9h.01M303.1 166.7h.01M295.0 155.7h.01M291.3 161.1h.01M292.8 166.2h.01M288.1 152.8h.01M284.1 158.5h.01M286.5 161.2h.01M291.2 153.1h.01M277.2 160.6h.01M285.5 159.0h.01M282.8 161.3h.01M291.2 160.4h.01M284.9 152.1h.01M285.8 149.7h.01M286.2 160.5h.01M283.0 157.4h.01M279.7 165.1h.01M285.8 160.9h.01M279.2 162.0h.01M292.4 160.9h.01M280.1 155.2h.01M283.8 156.5h.01M271.7 165.3h.01" stroke="#cacaca" stroke-width="0.6" stroke-linecap="round" fill="none" opacity="1.0" filter="url(#bd)"/>
<rect x="264.7" y="143.2" width="37.00" height="15.30" fill="none" stroke="#7d7d7d" stroke-width="0.7"/>
<rect x="264.9" y="123.9" width="50.60" height="49.90" fill="none" stroke="#3c3c3c" stroke-width="1.1"/>
<path d="M267.4 173.60000000000002v-1M270.0 173.60000000000002v-1M272.5 173.60000000000002v-1M275.0 173.60000000000002v-1M277.5 173.60000000000002v-1M280.1 173.60000000000002v-1M282.6 173.60000000000002v-1M285.1 173.60000000000002v-1M287.7 173.60000000000002v-1M290.2 173.60000000000002v-1M292.7 173.60000000000002v-1M295.3 173.60000000000002v-1M297.8 173.60000000000002v-1M300.3 173.60000000000002v-1M302.9 173.60000000000002v-1M305.4 173.60000000000002v-1M307.9 173.60000000000002v-1M310.4 173.60000000000002v-1M313.0 173.60000000000002v-1M265.09999999999997 126.4h1M265.09999999999997 128.9h1M265.09999999999997 131.4h1M265.09999999999997 133.9h1M265.09999999999997 136.4h1M265.09999999999997 138.9h1M265.09999999999997 141.4h1M265.09999999999997 143.9h1M265.09999999999997 146.4h1M265.09999999999997 148.9h1M265.09999999999997 151.3h1M265.09999999999997 153.8h1M265.09999999999997 156.3h1M265.09999999999997 158.8h1M265.09999999999997 161.3h1M265.09999999999997 163.8h1M265.09999999999997 166.3h1M265.09999999999997 168.8h1M265.09999999999997 171.3h1" stroke="#666" stroke-width="0.5" opacity="0.9"/>
<text x="260.38" y="147.80" font-size="8.0" font-weight="bold" text-anchor="middle" fill="#1a1a1a" stroke="#1a1a1a" stroke-width="0.24" transform="rotate(-90 260.38 147.80)">NKG2A</text>
<text x="279.3" y="137.4" font-size="8.0" font-weight="bold" text-anchor="start" fill="#1a1a1a" stroke="#1a1a1a" stroke-width="0.24">65</text>
<text x="8.3" y="219.2" font-size="8.0" font-weight="bold" text-anchor="start" fill="#1a1a1a" stroke="#1a1a1a" stroke-width="0.24">CD45+</text>
<clipPath id="cb1"><rect x="58.8" y="220.9" width="49.9" height="49.4"/></clipPath>
<g clip-path="url(#cb1)"><g filter="url(#b1)">
<path d="M58.5 235.6 L84 235.2 Q87.4 240 86.4 246 Q88.6 251 92 255 Q97 259 96.6 264 Q95 268 90 268.4 L58.5 268.6Z" fill="#b4b4b4" opacity="0.75"/>
<path d="M58.5 237.4 L79 237.4 L80.4 266.6 L58.5 267Z" fill="#626262"/>
<path d="M58.5 237 Q70 238.2 78 236.6 Q85 235.8 85.8 240 Q86 245 80 245.6 Q70 245 58.5 246.5Z" fill="#5d5d5d"/>
<path d="M70.5 241.5 Q75 239 80 238.8 Q83.5 239 83 241.5 Q81 243.5 76 243.4 Z" fill="#b2b2b2"/>
<path d="M58.5 246.5 Q70 247 80 246 Q84 246.5 83 250 Q80 254 72 254 L58.5 254.5Z" fill="#646464"/>
<path d="M71.6 250.6 Q75 248.2 80.6 247.6 Q83 248 81.8 250.2 Q78.6 252.6 72.4 252.4Z" fill="#a9a9a9"/><path d="M59.4 250.4 Q64 249.4 69 249.8 L69 251.6 Q64 252.4 59.4 252Z" fill="#868686"/>
<path d="M58.5 254.5 Q72 254 79 254.5 Q82.5 256 81.5 261 Q80 266.5 73 267.2 L58.5 267.5Z" fill="#6c6c6c"/>
<path d="M58.8 256.4 Q70 255.8 77.4 256.4 Q80 257.8 79.2 261 Q77.6 265.4 71 265.8 L58.8 266Z" fill="#b9b9b9"/>
<ellipse cx="89.7" cy="261.2" rx="6" ry="6" fill="#5a5a5a"/>
<path d="M80 255.6 L86 256.6 L86 266 L80 266Z" fill="#646464"/>
</g></g>
<circle cx="91.4" cy="264.6" r="3.2" fill="none" stroke="#999" stroke-width="0.6"/>
<rect x="58.3" y="220.4" width="50.90" height="50.40" fill="none" stroke="#3c3c3c" stroke-width="1.1"/>
<path d="M60.8 270.6v-1M63.4 270.6v-1M65.9 270.6v-1M68.5 270.6v-1M71.0 270.6v-1M73.6 270.6v-1M76.1 270.6v-1M78.7 270.6v-1M81.2 270.6v-1M83.8 270.6v-1M86.3 270.6v-1M88.8 270.6v-1M91.4 270.6v-1M93.9 270.6v-1M96.5 270.6v-1M99.0 270.6v-1M101.6 270.6v-1M104.1 270.6v-1M106.7 270.6v-1M58.5 222.9h1M58.5 225.4h1M58.5 228.0h1M58.5 230.5h1M58.5 233.0h1M58.5 235.5h1M58.5 238.0h1M58.5 240.6h1M58.5 243.1h1M58.5 245.6h1M58.5 248.1h1M58.5 250.6h1M58.5 253.2h1M58.5 255.7h1M58.5 258.2h1M58.5 260.7h1M58.5 263.2h1M58.5 265.8h1M58.5 268.3h1" stroke="#666" stroke-width="0.5" opacity="0.9"/>
<text x="51.48" y="242.00" font-size="8.0" font-weight="bold" text-anchor="middle" fill="#1a1a1a" stroke="#1a1a1a" stroke-width="0.24" transform="rotate(-90 51.48 242.00)">CD3</text>
<text x="96.6" y="265.1" font-size="8.0" font-weight="bold" text-anchor="start" fill="#1a1a1a" stroke="#1a1a1a" stroke-width="0.24">2.3</text>
<text x="223.4" y="212.7" font-size="8.0" font-weight="bold" text-anchor="middle" fill="#1a1a1a" stroke="#1a1a1a" stroke-width="0.24">CD3-NKp46+</text>
<line x1="131.4" y1="217" x2="314.2" y2="217" stroke="#5e5e5e" stroke-width="1.3"/>
<line x1="56.2" y1="280.8" x2="312" y2="280.8" stroke="#777" stroke-width="1.5"/>
<polygon points="319,280.8 311.4,277.2 311.4,284.4" fill="#111"/>
<text x="187.3" y="292.0" font-size="8.0" font-weight="bold" text-anchor="middle" fill="#1a1a1a" stroke="#1a1a1a" stroke-width="0.24">NKp46</text>
<rect x="156.6" y="239.6" width="10.6" height="32" fill="#c9c9c9" filter="url(#b1)"/>
<path d="M163.9 267.5h.01M160.0 266.3h.01M164.3 257.8h.01M161.0 257.6h.01M157.7 243.0h.01M160.0 243.8h.01M157.4 262.2h.01M164.2 259.1h.01M159.0 262.4h.01M165.2 259.2h.01M159.2 257.5h.01M160.8 248.3h.01M158.4 266.8h.01M163.2 268.9h.01M158.6 248.2h.01M162.0 241.8h.01M159.9 256.7h.01M161.7 268.2h.01M162.7 259.8h.01M162.8 264.3h.01M160.6 240.0h.01M166.7 264.6h.01M158.2 243.5h.01M159.1 260.4h.01M158.2 240.6h.01M161.8 240.2h.01M159.5 251.8h.01M159.0 240.1h.01M159.5 247.6h.01M160.1 252.8h.01M160.5 250.0h.01M157.1 266.0h.01M164.3 255.3h.01M156.9 247.2h.01M165.9 254.2h.01M159.0 265.4h.01M165.8 243.8h.01M161.9 257.4h.01M158.1 249.9h.01M163.1 260.9h.01M163.2 259.2h.01M160.7 242.1h.01M157.1 266.0h.01M165.5 268.1h.01M157.7 263.8h.01M158.6 250.7h.01M158.9 266.7h.01M165.1 265.8h.01M160.7 269.0h.01M159.5 257.8h.01M163.6 247.2h.01M160.7 243.1h.01M164.9 245.7h.01M158.3 248.6h.01M163.3 259.8h.01M162.1 266.5h.01M164.4 246.5h.01M162.2 245.3h.01M159.3 244.6h.01M157.7 250.9h.01M165.8 260.3h.01M157.8 246.8h.01M162.8 256.4h.01M157.2 242.9h.01M162.6 258.6h.01M157.7 264.0h.01M159.3 258.3h.01M162.2 250.5h.01M166.4 252.3h.01M161.1 256.7h.01M165.3 270.6h.01M164.6 256.7h.01M164.1 259.8h.01M166.5 270.1h.01M164.5 246.7h.01M162.6 253.6h.01M159.2 264.2h.01M159.1 262.0h.01M161.8 253.2h.01M164.0 262.5h.01M166.8 271.0h.01M164.9 248.2h.01M163.6 255.4h.01M166.3 253.9h.01M160.5 240.8h.01M161.6 256.5h.01M160.0 243.3h.01M161.7 242.2h.01M158.6 253.8h.01M160.4 255.5h.01M162.2 252.0h.01M158.2 240.6h.01M162.5 270.1h.01M159.7 250.9h.01M160.1 263.0h.01M161.8 264.7h.01M157.0 244.1h.01M159.0 251.4h.01M160.9 251.9h.01M166.6 253.6h.01M162.7 269.9h.01M163.3 258.4h.01M165.2 250.4h.01M157.3 269.7h.01M162.2 258.0h.01M157.6 263.1h.01M160.6 259.9h.01M159.7 268.5h.01M160.6 248.5h.01M165.8 246.9h.01M159.6 255.1h.01M166.7 243.6h.01M159.0 264.7h.01M157.7 252.8h.01M164.7 262.1h.01M164.8 243.6h.01M165.8 251.1h.01M165.0 254.6h.01M165.8 254.8h.01M159.5 244.7h.01M161.9 241.5h.01M158.5 267.1h.01M162.6 266.8h.01M158.4 254.9h.01M161.6 243.3h.01M159.5 268.6h.01M164.1 255.8h.01M163.0 266.7h.01M166.4 258.4h.01M157.4 267.0h.01M158.5 247.4h.01M158.3 255.9h.01M162.7 254.3h.01M161.6 244.4h.01M164.1 256.7h.01M160.0 265.8h.01M166.3 268.6h.01M166.7 242.1h.01M160.8 253.9h.01M159.5 263.1h.01M165.9 244.3h.01M162.0 270.0h.01M165.8 254.0h.01M157.9 254.1h.01M162.1 264.4h.01M158.8 248.7h.01M166.7 240.4h.01M163.0 242.9h.01M164.4 253.1h.01M166.2 246.9h.01M165.7 247.1h.01M157.4 242.7h.01M157.7 252.0h.01M166.6 251.0h.01M164.1 241.1h.01M162.1 256.7h.01M157.9 258.0h.01M161.4 250.2h.01M165.2 261.4h.01M158.1 243.3h.01M157.4 248.2h.01M163.3 270.0h.01M166.6 266.8h.01M158.1 264.5h.01M164.5 254.7h.01M166.9 258.6h.01M158.1 246.7h.01M158.2 258.9h.01M163.1 266.6h.01M157.0 240.3h.01M166.6 248.1h.01M159.5 266.9h.01M158.0 264.6h.01M165.9 257.4h.01M163.0 240.2h.01M163.0 259.0h.01M164.6 256.0h.01M158.0 246.9h.01M163.4 242.5h.01M158.0 247.8h.01M164.9 256.9h.01M160.5 269.9h.01M162.7 247.4h.01M162.6 266.5h.01M160.6 253.5h.01M162.7 270.6h.01M163.3 245.6h.01M162.7 250.0h.01M161.6 262.1h.01M157.1 255.7h.01M160.0 258.6h.01M165.1 254.5h.01M163.2 249.0h.01M159.5 255.8h.01M162.2 246.9h.01M164.6 255.5h.01M160.5 247.9h.01M165.3 268.0h.01M166.3 247.7h.01M157.6 259.6h.01" stroke="#8c8c8c" stroke-width="0.9" stroke-linecap="round" fill="none" opacity="1.0" filter="url(#b1)"/>
<rect x="154" y="231.5" width="15.50" height="23.30" fill="none" stroke="#7d7d7d" stroke-width="0.7"/>
<rect x="154" y="254.8" width="15.50" height="17.20" fill="none" stroke="#7d7d7d" stroke-width="0.7"/>
<rect x="130.9" y="221.9" width="50.90" height="50.60" fill="none" stroke="#3c3c3c" stroke-width="1.1"/>
<path d="M133.4 272.3v-1M136.0 272.3v-1M138.5 272.3v-1M141.1 272.3v-1M143.6 272.3v-1M146.2 272.3v-1M148.7 272.3v-1M151.3 272.3v-1M153.8 272.3v-1M156.4 272.3v-1M158.9 272.3v-1M161.4 272.3v-1M164.0 272.3v-1M166.5 272.3v-1M169.1 272.3v-1M171.6 272.3v-1M174.2 272.3v-1M176.7 272.3v-1M179.3 272.3v-1M131.1 224.4h1M131.1 227.0h1M131.1 229.5h1M131.1 232.0h1M131.1 234.6h1M131.1 237.1h1M131.1 239.6h1M131.1 242.1h1M131.1 244.7h1M131.1 247.2h1M131.1 249.7h1M131.1 252.3h1M131.1 254.8h1M131.1 257.3h1M131.1 259.9h1M131.1 262.4h1M131.1 264.9h1M131.1 267.4h1M131.1 270.0h1" stroke="#666" stroke-width="0.5" opacity="0.9"/>
<text x="123.18" y="245.00" font-size="8.0" font-weight="bold" text-anchor="middle" fill="#1a1a1a" stroke="#1a1a1a" stroke-width="0.24" transform="rotate(-90 123.18 245.00)">CD56</text>
<text x="135.6" y="246.5" font-size="8.0" font-weight="bold" text-anchor="start" fill="#1a1a1a" stroke="#1a1a1a" stroke-width="0.24">46.9</text>
<text x="135.6" y="268.1" font-size="8.0" font-weight="bold" text-anchor="start" fill="#1a1a1a" stroke="#1a1a1a" stroke-width="0.24">51.4</text>
<rect x="223.4" y="246.8" width="9.4" height="20.6" fill="#c9c9c9" filter="url(#b1)"/>
<path d="M223.6 264.3h.01M229.6 253.7h.01M227.5 260.7h.01M224.9 254.2h.01M230.6 260.7h.01M228.8 248.9h.01M225.4 252.0h.01M223.7 259.9h.01M228.7 265.7h.01M228.5 265.5h.01M227.7 257.4h.01M226.0 256.3h.01M232.0 256.7h.01M223.4 254.0h.01M225.2 259.5h.01M228.1 256.5h.01M231.9 262.4h.01M224.2 247.4h.01M229.8 259.0h.01M229.4 257.0h.01M223.7 256.0h.01M231.1 259.1h.01M223.8 249.3h.01M231.7 257.9h.01M224.9 261.2h.01M231.9 264.4h.01M229.3 263.3h.01M224.2 256.3h.01M230.9 253.8h.01M224.7 264.5h.01M229.9 247.0h.01M224.0 258.2h.01M232.2 259.4h.01M231.5 248.9h.01M228.7 250.5h.01M226.5 249.8h.01M227.7 247.7h.01M229.4 260.0h.01M231.7 262.5h.01M224.1 264.5h.01M228.4 265.9h.01M227.9 248.5h.01M229.9 250.3h.01M232.5 257.8h.01M231.7 256.8h.01M226.4 260.3h.01M229.9 256.2h.01M225.9 255.4h.01M230.0 251.5h.01M224.9 256.7h.01M229.5 248.2h.01M225.9 266.6h.01M225.9 262.5h.01M226.2 248.6h.01M227.9 264.5h.01M230.6 247.8h.01M229.9 259.5h.01M227.8 260.4h.01M228.2 250.5h.01M229.8 249.4h.01M226.3 264.2h.01M228.6 257.2h.01M229.9 256.8h.01M226.9 258.1h.01M223.6 254.0h.01M223.8 267.1h.01M231.8 260.1h.01M224.9 264.2h.01M226.0 263.2h.01M229.4 259.1h.01M230.2 252.3h.01M231.1 257.9h.01M230.4 263.9h.01M225.7 255.2h.01M226.7 248.4h.01M231.5 260.8h.01M227.9 257.9h.01M231.5 248.2h.01M226.7 260.8h.01M228.3 256.9h.01M225.8 251.3h.01M229.6 253.8h.01M232.0 265.2h.01M232.3 252.4h.01M228.1 248.9h.01M226.7 248.3h.01M228.0 266.3h.01M230.4 254.2h.01M225.9 265.8h.01M223.9 264.0h.01M231.3 248.2h.01M232.1 260.0h.01M227.0 255.5h.01M229.0 257.5h.01M231.4 265.1h.01M226.4 247.0h.01M230.6 260.0h.01M229.4 248.3h.01M224.1 265.1h.01M226.7 256.4h.01M232.4 250.8h.01M229.2 248.1h.01M228.6 261.9h.01M224.8 262.3h.01M232.3 263.7h.01M230.7 266.1h.01M230.0 258.0h.01M231.0 263.2h.01M229.2 260.4h.01M225.0 253.7h.01M226.4 264.3h.01M230.6 252.7h.01M232.5 248.0h.01M224.0 253.5h.01M224.1 266.2h.01M226.7 254.7h.01M231.3 257.7h.01M229.2 255.8h.01M227.6 266.3h.01M226.0 257.5h.01M227.8 249.7h.01M224.7 257.1h.01M230.7 255.6h.01M223.9 265.9h.01M224.7 264.8h.01" stroke="#8c8c8c" stroke-width="0.9" stroke-linecap="round" fill="none" opacity="1.0" filter="url(#b1)"/>
<rect x="197.2" y="241.5" width="37.20" height="16.30" fill="none" stroke="#7d7d7d" stroke-width="0.7"/>
<rect x="197.3" y="221.8" width="50.70" height="50.50" fill="none" stroke="#3c3c3c" stroke-width="1.1"/>
<path d="M199.8 272.1v-1M202.4 272.1v-1M204.9 272.1v-1M207.4 272.1v-1M210.0 272.1v-1M212.5 272.1v-1M215.0 272.1v-1M217.6 272.1v-1M220.1 272.1v-1M222.7 272.1v-1M225.2 272.1v-1M227.7 272.1v-1M230.3 272.1v-1M232.8 272.1v-1M235.3 272.1v-1M237.9 272.1v-1M240.4 272.1v-1M242.9 272.1v-1M245.5 272.1v-1M197.5 224.3h1M197.5 226.9h1M197.5 229.4h1M197.5 231.9h1M197.5 234.4h1M197.5 237.0h1M197.5 239.5h1M197.5 242.0h1M197.5 244.5h1M197.5 247.1h1M197.5 249.6h1M197.5 252.1h1M197.5 254.6h1M197.5 257.2h1M197.5 259.7h1M197.5 262.2h1M197.5 264.7h1M197.5 267.2h1M197.5 269.8h1" stroke="#666" stroke-width="0.5" opacity="0.9"/>
<text x="193.68" y="242.00" font-size="8.0" font-weight="bold" text-anchor="middle" fill="#1a1a1a" stroke="#1a1a1a" stroke-width="0.24" transform="rotate(-90 193.68 242.00)">CD16</text>
<text x="211.6" y="235.4" font-size="8.0" font-weight="bold" text-anchor="start" fill="#1a1a1a" stroke="#1a1a1a" stroke-width="0.24">40.2</text>
<rect x="291.3" y="243.2" width="10" height="24.4" fill="#c9c9c9" filter="url(#b1)"/>
<path d="M291.8 259.2h.01M292.8 249.8h.01M295.5 261.7h.01M295.7 253.6h.01M295.3 256.1h.01M294.1 266.5h.01M293.2 246.8h.01M296.8 252.0h.01M298.5 244.5h.01M298.1 252.3h.01M300.6 250.8h.01M295.6 251.2h.01M296.6 250.3h.01M298.0 253.5h.01M298.4 250.6h.01M295.9 257.0h.01M298.5 259.3h.01M295.6 245.7h.01M292.4 247.1h.01M293.1 248.0h.01M297.9 251.8h.01M300.4 249.2h.01M293.8 248.0h.01M292.7 260.0h.01M297.1 249.6h.01M299.4 259.8h.01M295.6 258.2h.01M297.9 254.2h.01M292.2 252.3h.01M300.8 252.6h.01M297.7 245.7h.01M299.0 264.3h.01M295.0 252.5h.01M296.4 249.7h.01M293.4 246.7h.01M298.2 255.8h.01M300.9 266.7h.01M300.0 266.3h.01M299.7 244.2h.01M292.6 267.0h.01M300.0 258.4h.01M297.5 254.1h.01M295.5 247.1h.01M296.8 250.2h.01M292.5 264.5h.01M297.0 264.6h.01M294.2 257.4h.01M294.1 263.5h.01M293.4 259.1h.01M296.8 251.4h.01M292.1 255.3h.01M296.5 263.2h.01M293.3 248.0h.01M294.4 262.9h.01M293.6 258.8h.01M291.6 245.6h.01M298.4 255.5h.01M292.4 255.0h.01M300.7 253.0h.01M296.9 253.7h.01M296.4 244.6h.01M300.1 257.5h.01M294.8 250.4h.01M293.2 266.0h.01M299.7 252.7h.01M297.3 256.9h.01M293.3 244.4h.01M298.7 247.5h.01M296.9 244.0h.01M291.5 247.5h.01M297.8 258.3h.01M301.2 259.4h.01M296.5 243.9h.01M300.9 255.3h.01M299.9 244.6h.01M299.7 255.0h.01M293.5 253.3h.01M292.1 257.5h.01M293.5 260.4h.01M293.0 260.2h.01M297.5 260.7h.01M300.8 250.7h.01M298.1 253.1h.01M300.2 263.4h.01M298.9 258.0h.01M293.9 265.4h.01M301.0 266.4h.01M294.7 263.3h.01M298.1 263.8h.01M299.3 254.5h.01M295.3 262.7h.01M297.8 256.6h.01M300.0 244.4h.01M291.4 254.8h.01M292.3 263.8h.01M292.2 264.8h.01M293.6 246.8h.01M298.8 259.9h.01M295.4 257.9h.01M296.8 266.4h.01M296.4 256.6h.01M295.9 253.5h.01M298.2 246.3h.01M298.2 265.9h.01M298.9 256.6h.01M294.8 245.9h.01M292.2 256.5h.01M300.1 264.4h.01M293.1 261.6h.01M299.4 255.1h.01M299.9 248.1h.01M294.7 255.9h.01M298.6 254.4h.01M294.3 264.4h.01M295.2 253.7h.01M293.5 255.2h.01M298.4 252.3h.01M297.9 255.4h.01M291.4 266.7h.01M294.2 256.7h.01M300.9 248.6h.01M291.9 248.5h.01M292.8 264.0h.01M296.5 244.6h.01M294.0 255.9h.01M293.0 251.0h.01M300.3 254.3h.01M293.6 257.9h.01M292.4 256.1h.01M297.8 245.7h.01M296.8 251.0h.01M298.7 258.4h.01M300.4 258.2h.01M293.1 248.1h.01M298.3 263.0h.01M291.9 253.6h.01M294.1 254.8h.01M300.0 257.0h.01M298.7 262.0h.01M294.1 258.4h.01M295.1 255.0h.01M296.6 259.6h.01M293.0 263.7h.01M292.9 251.1h.01M299.8 267.2h.01M295.0 266.4h.01M291.7 266.5h.01M293.3 244.4h.01M298.9 247.5h.01M298.8 243.8h.01M292.5 252.2h.01M292.1 254.9h.01M294.8 261.3h.01M296.2 266.8h.01M299.7 247.7h.01M300.5 265.1h.01M296.9 256.2h.01M293.0 251.3h.01M293.5 248.3h.01M297.4 251.4h.01" stroke="#8c8c8c" stroke-width="0.9" stroke-linecap="round" fill="none" opacity="1.0" filter="url(#b1)"/>
<rect x="264.7" y="241" width="37.50" height="15.60" fill="none" stroke="#7d7d7d" stroke-width="0.7"/>
<rect x="264.8" y="221.9" width="50.70" height="49.80" fill="none" stroke="#3c3c3c" stroke-width="1.1"/>
<path d="M267.3 271.5v-1M269.9 271.5v-1M272.4 271.5v-1M274.9 271.5v-1M277.5 271.5v-1M280.0 271.5v-1M282.5 271.5v-1M285.1 271.5v-1M287.6 271.5v-1M290.1 271.5v-1M292.7 271.5v-1M295.2 271.5v-1M297.8 271.5v-1M300.3 271.5v-1M302.8 271.5v-1M305.4 271.5v-1M307.9 271.5v-1M310.4 271.5v-1M313.0 271.5v-1M265.0 224.4h1M265.0 226.9h1M265.0 229.4h1M265.0 231.9h1M265.0 234.3h1M265.0 236.8h1M265.0 239.3h1M265.0 241.8h1M265.0 244.3h1M265.0 246.8h1M265.0 249.3h1M265.0 251.8h1M265.0 254.3h1M265.0 256.8h1M265.0 259.2h1M265.0 261.7h1M265.0 264.2h1M265.0 266.7h1M265.0 269.2h1" stroke="#666" stroke-width="0.5" opacity="0.9"/>
<text x="260.08" y="245.00" font-size="8.0" font-weight="bold" text-anchor="middle" fill="#1a1a1a" stroke="#1a1a1a" stroke-width="0.24" transform="rotate(-90 260.08 245.00)">NKG2A</text>
<text x="279.3" y="233.2" font-size="8.0" font-weight="bold" text-anchor="start" fill="#1a1a1a" stroke="#1a1a1a" stroke-width="0.24">64.9</text>
<text x="55.1" y="302.9" font-size="7.2" font-weight="bold" fill="#1a1a1a" stroke="#1a1a1a" stroke-width="0.22">CD3<tspan font-size="4.5" dy="-2.2">-</tspan><tspan dy="2.2">NKp46</tspan><tspan font-size="4.5" dy="-2.2">+</tspan><tspan dy="2.2">CD56</tspan><tspan font-size="4.5" dy="-2.2">-</tspan></text>
<clipPath id="cc1"><rect x="57.6" y="308.3" width="51.3" height="50.2"/></clipPath>
<g filter="url(#b0)" clip-path="url(#cc1)">
<path d="M62 340 L71 340 L72 346 L61 346Z" fill="#b0b0b0"/>
<path d="M72 333 Q75 331 77 329 M73.2 340.8 Q76 339.4 77.6 337.4 M72 342 Q76 343.4 78.4 342 M73 345 L77.6 347.6 M84.4 324 Q87 323.4 88.4 325.4 M86.4 332 Q87.8 333 87.6 334.6" stroke="#999" stroke-width="0.6" fill="none"/>
<path d="M59.5 330.0 C59.6 329.0 59.7 327.8 60.0 327.1 C60.4 326.3 60.9 325.9 61.6 325.5 C62.4 325.0 63.7 324.7 64.6 324.4 C65.5 324.1 66.2 323.6 67.0 323.6 C67.7 323.5 68.5 323.6 69.2 324.0 C69.9 324.4 70.7 325.2 71.3 326.1 C71.8 327.1 72.1 328.4 72.4 329.8 C72.7 331.1 72.9 332.6 73.0 334.0 C73.0 335.5 72.9 337.1 72.6 338.3 C72.4 339.5 71.9 340.6 71.3 341.3 C70.6 342.0 69.7 342.5 68.9 342.7 C68.1 342.9 67.0 342.4 66.2 342.3 C65.5 342.1 64.9 342.2 64.4 341.7 C63.9 341.3 63.4 340.5 63.0 339.8 C62.6 339.1 62.3 338.4 61.8 337.7 C61.4 337.0 60.8 336.3 60.3 335.5 C59.9 334.8 59.5 333.9 59.4 333.0 C59.2 332.0 59.4 331.0 59.5 330.0Z" fill="#6e6e6e" stroke="#121212" stroke-width="1.6"/>
<path d="M62.6 337.4 Q66 339.8 70.6 338.6 L70.4 341.8 Q66.6 343 63.8 340.6Z" fill="#a6a6a6"/>
<path d="M65.7 327.6 C65.9 326.9 66.6 326.3 67.2 326.1 C67.8 326.0 68.7 326.2 69.1 326.8 C69.5 327.4 69.6 328.6 69.8 329.8 C70.0 330.9 70.2 332.3 70.3 333.5 C70.4 334.7 70.4 336.1 70.2 336.7 C70.0 337.4 69.4 337.5 68.9 337.5 C68.4 337.4 67.8 337.1 67.4 336.4 C67.0 335.7 66.8 334.2 66.6 333.2 C66.3 332.2 65.9 331.1 65.8 330.2 C65.7 329.3 65.5 328.3 65.7 327.6Z" fill="#f2f2f2" stroke="#1a1a1a" stroke-width="0.9"/>
<path d="M60.8 330.0 C60.9 329.2 61.5 328.1 62.1 327.8 C62.6 327.5 63.7 327.7 64.2 328.2 C64.7 328.6 64.9 329.7 64.9 330.6 C65.0 331.5 64.8 332.8 64.4 333.4 C64.0 334.0 63.2 334.4 62.7 334.3 C62.2 334.1 61.5 333.5 61.2 332.8 C60.9 332.0 60.6 330.8 60.8 330.0Z" fill="#e4e4e4" stroke="#1a1a1a" stroke-width="0.9"/>
<path d="M63.4 338.4 Q66.4 340.4 70 339.2" stroke="#2a2a2a" stroke-width="0.7" fill="none"/>
<path d="M58.7 349.0 C58.6 348.0 58.7 346.8 59.3 346.0 C59.9 345.3 60.9 344.6 62.3 344.4 C63.7 344.2 66.0 344.8 67.6 344.7 C69.2 344.7 71.0 343.8 71.9 344.3 C72.8 344.8 72.9 346.7 73.0 347.9 C73.0 349.2 72.9 351.0 72.1 352.0 C71.3 353.0 69.6 353.4 68.0 353.7 C66.5 354.0 64.1 354.1 62.7 353.8 C61.3 353.6 60.6 353.0 59.9 352.2 C59.3 351.4 58.9 350.0 58.7 349.0Z" fill="#4e4e4e" stroke="#121212" stroke-width="1.4"/>
<path d="M60.3 349.0 C60.4 348.2 60.5 347.1 61.0 346.7 C61.5 346.2 62.7 345.9 63.3 346.2 C64.0 346.6 64.6 347.9 64.7 348.8 C64.9 349.7 64.6 351.1 64.2 351.8 C63.8 352.5 62.7 352.8 62.1 352.8 C61.5 352.7 60.8 352.0 60.6 351.4 C60.3 350.7 60.3 349.8 60.3 349.0Z" fill="#e6e6e6" stroke="#1a1a1a" stroke-width="0.8"/>
<path d="M66.4 349.0 C66.5 348.0 66.8 346.7 67.4 346.1 C68.0 345.6 69.5 345.3 70.2 345.7 C70.9 346.1 71.4 347.4 71.6 348.4 C71.8 349.4 71.7 351.0 71.3 351.8 C70.8 352.6 69.8 353.3 69.1 353.4 C68.4 353.5 67.4 353.0 67.0 352.2 C66.5 351.5 66.4 350.0 66.4 349.0Z" fill="#e6e6e6" stroke="#1a1a1a" stroke-width="0.8"/>
<path d="M60 355.2 Q66 356.6 72 355.2" stroke="#999" stroke-width="0.6" fill="none"/>
<path d="M75.9 329.3 C76.4 328.5 78.7 327.5 80.1 326.7 C81.6 325.8 83.5 324.0 84.4 324.2 C85.3 324.5 85.3 326.9 85.6 328.2 C85.9 329.4 86.7 331.1 86.2 331.9 C85.8 332.7 84.2 333.0 83.0 333.2 C81.9 333.4 80.4 333.3 79.4 333.0 C78.4 332.7 77.5 332.1 76.9 331.5 C76.3 330.9 75.3 330.1 75.9 329.3Z" fill="#9a9a9a" stroke="#1c1c1c" stroke-width="1.3"/>
<path d="M78.7 329.6 C79.1 329.0 80.9 328.1 81.7 327.6 C82.6 327.2 83.2 326.7 83.7 327.0 C84.1 327.3 84.2 328.6 84.3 329.3 C84.4 330.1 84.6 331.1 84.1 331.5 C83.6 331.9 82.1 331.8 81.3 331.7 C80.5 331.6 79.8 331.4 79.4 331.0 C79.0 330.7 78.4 330.1 78.7 329.6Z" fill="#f4f4f4" stroke="#444" stroke-width="0.7"/>
<circle cx="80.7" cy="338.5" r="1.9" fill="#a5a5a5" stroke="#2c2c2c" stroke-width="1"/>
</g>
<path d="M79.7 351.5h.01M79.8 352.2h.01M80.5 351.7h.01M78.8 352.1h.01M79.0 351.7h.01" stroke="#999" stroke-width="0.6" stroke-linecap="round" fill="none" opacity="1.0" filter="url(#bd)"/>
<rect x="57.3" y="308" width="51.90" height="50.80" fill="none" stroke="#a6a6a6" stroke-width="0.65"/>
<line x1="75.3" y1="308" x2="75.3" y2="358.8" stroke="#a6a6a6" stroke-width="0.5525"/>
<line x1="57.3" y1="342.9" x2="109.2" y2="342.9" stroke="#a6a6a6" stroke-width="0.5525"/>
<text x="54.52" y="335.00" font-size="7.0" font-weight="bold" text-anchor="middle" fill="#1a1a1a" stroke="#1a1a1a" stroke-width="0.21" transform="rotate(-90 54.52 335.00)">CD16</text>
<text x="60.2" y="314.9" font-size="6.4" font-weight="bold" text-anchor="start" fill="#1a1a1a" stroke="#1a1a1a" stroke-width="0.19">49.6</text>
<text x="107.6" y="314.9" font-size="6.4" font-weight="bold" text-anchor="end" fill="#1a1a1a" stroke="#1a1a1a" stroke-width="0.19">20.3</text>
<text x="105.2" y="357.4" font-size="6.4" font-weight="bold" text-anchor="end" fill="#1a1a1a" stroke="#1a1a1a" stroke-width="0.19">2.2</text>
<line x1="52.7" y1="364.1" x2="52.7" y2="350.90000000000003" stroke="#111" stroke-width="1.15"/>
<polygon points="52.7,346.8 50.300000000000004,351.40000000000003 55.1,351.40000000000003" fill="#111"/>
<line x1="52.150000000000006" y1="364.1" x2="66.10000000000001" y2="364.1" stroke="#111" stroke-width="1.15"/>
<polygon points="70.2,364.1 65.60000000000001,361.70000000000005 65.60000000000001,366.5" fill="#111"/>
<text x="77.2" y="367.8" font-size="7.0" font-weight="bold" text-anchor="start" fill="#1a1a1a" stroke="#1a1a1a" stroke-width="0.21">KIR</text>
<clipPath id="cc2"><rect x="127.3" y="308.3" width="49.8" height="50.2"/></clipPath>
<g filter="url(#b0)" clip-path="url(#cc2)">
<path d="M127 345 Q134 347 140.6 344 Q141.6 350 139.6 354 Q134 357.4 127 356.4Z" fill="#ededed" stroke="#8a8a8a" stroke-width="0.7"/>
<path d="M128.6 348.4 Q133.4 350 138.6 347.6 M128.6 351.6 Q133 353.4 138.6 351 M129 354.6 Q133 355.8 137 354.4" stroke="#9a9a9a" stroke-width="0.6" fill="none"/>
<path d="M141 334 Q144.6 333 145.2 336 Q144 338.6 141.4 338.4" fill="#c8c8c8" stroke="#777" stroke-width="0.7"/>
<path d="M126.6 330.4 Q128.6 327.2 132.4 327.2 Q137 327.8 139.4 331.6 Q141.4 335.6 140.8 339.6 Q139.4 344 135.2 345.8 Q130.6 346.4 126.6 344.6Z" fill="#8e8e8e" stroke="#141414" stroke-width="1.7"/>
<path d="M129.6 332 Q132.6 329.8 135.8 332 Q138 335.4 136 339.4 Q133 342 130.2 340 Q128.6 336 129.6 332Z" fill="#c2c2c2" stroke="#242424" stroke-width="1"/>
<ellipse cx="132.6" cy="335" rx="1.6" ry="1.8" fill="#f0f0f0" stroke="#3a3a3a" stroke-width="0.6"/>
<path d="M130 342.6 Q133 344 136 342.4" stroke="#2a2a2a" stroke-width="0.7" fill="none"/>
<ellipse cx="148.2" cy="350.2" rx="7" ry="6.4" fill="#bdbdbd" stroke="#4a4a4a" stroke-width="1.2"/>
<ellipse cx="148.4" cy="350.6" rx="4.8" ry="4.4" fill="#d6d6d6" stroke="#555" stroke-width="0.9"/>
<ellipse cx="148.6" cy="351" rx="2.8" ry="2.6" fill="#b4b4b4" stroke="#4a4a4a" stroke-width="0.8"/>
<ellipse cx="148.8" cy="351.2" rx="1.1" ry="1" fill="#eee"/>
<path d="M139.6 343 Q142 346 141.6 350" stroke="#666" stroke-width="0.7" fill="none"/>
</g>
<rect x="126.6" y="308" width="50.80" height="50.80" fill="none" stroke="#a6a6a6" stroke-width="0.65"/>
<line x1="141.7" y1="308" x2="141.7" y2="358.8" stroke="#a6a6a6" stroke-width="0.5525"/>
<line x1="126.6" y1="343" x2="177.4" y2="343" stroke="#a6a6a6" stroke-width="0.5525"/>
<text x="122.72" y="335.00" font-size="7.0" font-weight="bold" text-anchor="middle" fill="#1a1a1a" stroke="#1a1a1a" stroke-width="0.21" transform="rotate(-90 122.72 335.00)">CD16</text>
<text x="128.8" y="314.9" font-size="6.4" font-weight="bold" text-anchor="start" fill="#1a1a1a" stroke="#1a1a1a" stroke-width="0.19">58.1</text>
<text x="175.9" y="314.9" font-size="6.4" font-weight="bold" text-anchor="end" fill="#1a1a1a" stroke="#1a1a1a" stroke-width="0.19">1.4</text>
<text x="174.8" y="357.3" font-size="6.4" font-weight="bold" text-anchor="end" fill="#1a1a1a" stroke="#1a1a1a" stroke-width="0.19">19.4</text>
<line x1="120.4" y1="366.8" x2="120.4" y2="353.8" stroke="#111" stroke-width="1.15"/>
<polygon points="120.4,349.7 118.0,354.3 122.80000000000001,354.3" fill="#111"/>
<line x1="119.85000000000001" y1="366.8" x2="133.9" y2="366.8" stroke="#111" stroke-width="1.15"/>
<polygon points="138.0,366.8 133.4,364.40000000000003 133.4,369.2" fill="#111"/>
<text x="141.3" y="368.9" font-size="7.0" font-weight="bold" text-anchor="start" fill="#1a1a1a" stroke="#1a1a1a" stroke-width="0.21">CD127</text>
<clipPath id="cc3"><rect x="196.5" y="308.3" width="50.4" height="50.2"/></clipPath>
<g filter="url(#b0)" clip-path="url(#cc3)">
<path d="M196.4 357 L196.4 342 Q204 344 210 341 L216 340.6 Q220 343 222.6 347 Q223.6 353 222 357.4 Z" fill="#e9e9e9" stroke="#808080" stroke-width="0.8"/>
<path d="M198 349 Q203 347 207 350 Q210 354 216 354.6 M198 353 Q203 355.4 209 355.6" stroke="#999" stroke-width="0.6" fill="none"/>
<path d="M196.8 333.4 Q197.4 329 200.4 327.8 Q205 326.8 209.6 329.6 Q213.6 333 215.4 337.6 Q215.6 340.6 212 341.6 Q207 343.6 202 343 Q198 342 196.8 339Z" fill="#bcbcbc" stroke="#6a6a6a" stroke-width="0.8"/>
<path d="M197.4 333.6 Q197.8 329.6 200.6 328.4 Q205 327.4 209.4 330 Q213 333 214.8 337.4" fill="none" stroke="#141414" stroke-width="1.7" stroke-linecap="round"/>
<path d="M199 333.6 Q201.6 330.8 205.2 332.4 Q208.4 335.4 207.4 339 Q204 341.6 200.6 340 Q198.4 337.4 199 333.6Z" fill="#dcdcdc" stroke="#3a3a3a" stroke-width="0.9"/>
<ellipse cx="202.2" cy="334.8" rx="1.7" ry="1.9" fill="#f4f4f4" stroke="#666" stroke-width="0.5"/>
<ellipse cx="213.6" cy="347.2" rx="5" ry="3.4" fill="#b8b8b8" stroke="#383838" stroke-width="1.2"/>
<ellipse cx="214" cy="347.4" rx="2.8" ry="1.7" fill="#e6e6e6" stroke="#555" stroke-width="0.7"/>
<ellipse cx="206.6" cy="346.4" rx="3" ry="2.2" fill="#cfcfcf" stroke="#555" stroke-width="0.8"/>
<path d="M223.4 347.6 Q225.6 343.2 229 344.6 Q232 348.6 232.2 357.4 L224.2 357.6 Q222.6 352 223.4 347.6Z" fill="#6c6c6c" stroke="#3a3a3a" stroke-width="1"/>
<path d="M227 350 L228.8 356.6 L230.4 350.8" fill="#e2e2e2" stroke="#555" stroke-width="0.6"/>
</g>
<rect x="196" y="308" width="51.20" height="50.80" fill="none" stroke="#a6a6a6" stroke-width="0.65"/>
<line x1="221.6" y1="308" x2="221.6" y2="358.8" stroke="#a6a6a6" stroke-width="0.5525"/>
<line x1="196" y1="343.1" x2="247.2" y2="343.1" stroke="#a6a6a6" stroke-width="0.5525"/>
<text x="192.72" y="335.00" font-size="7.0" font-weight="bold" text-anchor="middle" fill="#1a1a1a" stroke="#1a1a1a" stroke-width="0.21" transform="rotate(-90 192.72 335.00)">CD16</text>
<text x="198" y="314.9" font-size="6.4" font-weight="bold" text-anchor="start" fill="#1a1a1a" stroke="#1a1a1a" stroke-width="0.19">57.4</text>
<text x="245.4" y="314.9" font-size="6.4" font-weight="bold" text-anchor="end" fill="#1a1a1a" stroke="#1a1a1a" stroke-width="0.19">0.3</text>
<text x="246.8" y="357.1" font-size="6.4" font-weight="bold" text-anchor="end" fill="#1a1a1a" stroke="#1a1a1a" stroke-width="0.19">14.5</text>
<line x1="191.4" y1="366.7" x2="191.4" y2="353.40000000000003" stroke="#111" stroke-width="1.15"/>
<polygon points="191.4,349.3 189.0,353.90000000000003 193.8,353.90000000000003" fill="#111"/>
<line x1="190.85" y1="366.7" x2="204.3" y2="366.7" stroke="#111" stroke-width="1.15"/>
<polygon points="208.4,366.7 203.8,364.3 203.8,369.09999999999997" fill="#111"/>
<text x="212.5" y="369.2" font-size="7.0" font-weight="bold" text-anchor="start" fill="#1a1a1a" stroke="#1a1a1a" stroke-width="0.21">CD117</text>
<text x="340.4" y="42.5" font-size="10.4" font-weight="bold" text-anchor="start" fill="#1a1a1a" stroke="#1a1a1a" stroke-width="0.31">PBMC</text>
<text x="339.4" y="123.1" font-size="10.9" font-weight="bold" text-anchor="start" fill="#1a1a1a" stroke="#1a1a1a" stroke-width="0.33">CBMC</text>
<text x="463.2" y="33.5" font-size="7.8" font-weight="bold" text-anchor="middle" fill="#1a1a1a" stroke="#1a1a1a" stroke-width="0.23">CD3-NKp46+</text>
<line x1="415.4" y1="39" x2="518.3" y2="39" stroke="#5e5e5e" stroke-width="1.3"/>
<rect x="352.6" y="83.4" width="11.6" height="12.6" fill="#b4b4b4" filter="url(#b2)"/>
<path d="M357.7 85.6h.01M360.0 92.2h.01M358.4 89.4h.01M355.9 86.9h.01M357.8 87.0h.01M355.0 90.6h.01M358.4 88.7h.01M356.1 89.8h.01M356.4 88.6h.01M359.0 92.4h.01M360.7 88.0h.01M362.0 86.2h.01M357.9 94.3h.01M365.4 90.4h.01M357.4 88.8h.01M354.9 89.5h.01M357.2 87.5h.01M361.9 87.5h.01M363.4 92.8h.01M360.3 88.1h.01M357.0 83.5h.01M359.2 89.1h.01M359.6 87.8h.01M359.9 85.1h.01M352.1 91.6h.01M362.2 88.9h.01M358.0 85.0h.01M355.5 92.3h.01M356.3 89.9h.01M358.0 96.5h.01M361.0 85.7h.01M357.1 86.2h.01M354.4 87.8h.01M361.6 90.2h.01M360.4 89.6h.01M357.2 90.3h.01M358.2 96.3h.01M363.7 91.2h.01M360.2 83.5h.01M356.1 92.7h.01M362.0 88.7h.01M357.8 88.5h.01M360.8 90.1h.01M362.8 93.9h.01M357.5 88.0h.01M357.8 87.1h.01M357.2 89.8h.01M361.0 84.8h.01M354.4 87.5h.01M357.6 91.5h.01M356.2 95.0h.01M356.9 89.3h.01M358.6 93.9h.01M359.3 90.1h.01M356.9 90.6h.01M359.6 88.9h.01M358.4 84.0h.01M356.9 93.9h.01M362.6 89.8h.01M352.2 96.0h.01M357.2 93.3h.01M356.7 94.5h.01M361.8 86.5h.01M357.8 86.0h.01M359.2 88.7h.01M354.1 86.5h.01M359.1 85.0h.01M361.6 91.5h.01M357.9 94.6h.01M355.8 92.3h.01M354.5 88.9h.01M360.3 88.2h.01M358.1 92.1h.01M362.8 94.3h.01M359.8 89.1h.01M354.3 95.7h.01M363.9 82.9h.01M360.9 89.9h.01M360.5 91.0h.01M357.9 90.0h.01M358.3 93.8h.01M357.7 88.2h.01M360.3 92.1h.01M359.7 90.9h.01M362.7 93.7h.01M359.0 89.3h.01M360.3 83.8h.01M356.9 87.7h.01M358.9 88.7h.01M365.5 92.4h.01M358.4 88.9h.01M362.0 92.7h.01M361.1 94.0h.01M357.4 87.8h.01M356.4 90.3h.01M361.3 86.5h.01M356.9 85.6h.01M364.2 92.6h.01M359.1 86.0h.01M355.5 87.9h.01M358.5 85.8h.01M357.8 94.0h.01M358.5 90.3h.01M352.4 89.1h.01M358.0 87.7h.01M354.4 89.8h.01M355.5 88.2h.01M353.8 89.7h.01M361.1 87.2h.01M359.4 85.0h.01M360.1 91.8h.01M357.3 92.9h.01M355.9 90.2h.01M363.3 89.9h.01M355.2 93.8h.01M360.0 89.1h.01M353.2 83.8h.01M354.0 94.9h.01M359.3 87.2h.01M361.7 94.9h.01M356.0 91.6h.01M353.7 91.2h.01M363.7 85.3h.01M358.6 87.9h.01M358.2 90.3h.01M359.2 93.0h.01M359.9 93.5h.01M361.4 93.6h.01M356.5 91.4h.01M357.4 87.2h.01M364.1 91.0h.01M358.6 83.0h.01M357.8 92.6h.01M357.8 88.2h.01M362.7 89.0h.01M357.5 89.7h.01M357.7 93.5h.01M360.1 89.8h.01M357.4 89.3h.01M363.3 89.0h.01M360.3 84.8h.01M359.4 92.3h.01M362.1 91.1h.01M360.1 91.1h.01M359.0 87.3h.01M360.1 89.6h.01M360.3 92.6h.01M358.9 88.5h.01M359.3 85.9h.01M359.2 87.1h.01M359.7 90.4h.01M357.8 86.0h.01M358.6 87.7h.01M358.0 92.3h.01M361.2 85.7h.01M361.1 94.5h.01M361.7 90.9h.01M358.2 95.8h.01M357.5 84.9h.01M358.7 91.0h.01M355.5 86.0h.01M364.1 90.4h.01M360.7 88.1h.01M354.1 89.4h.01M362.3 87.8h.01M353.3 89.4h.01M357.6 90.1h.01M355.4 89.0h.01M356.9 92.9h.01M358.9 92.9h.01M358.3 82.9h.01M352.8 91.8h.01M360.9 92.9h.01M358.2 84.1h.01M357.0 91.3h.01M362.4 88.9h.01M356.8 87.4h.01M361.4 92.9h.01M353.2 94.0h.01M355.8 85.1h.01M353.9 87.6h.01M354.9 87.8h.01M358.9 91.4h.01M357.1 84.7h.01M357.2 87.7h.01M353.3 90.5h.01M354.2 84.2h.01M362.8 93.1h.01M362.6 90.4h.01M357.2 89.7h.01M354.5 92.5h.01M359.2 89.0h.01M353.1 89.6h.01M363.1 94.8h.01M360.9 88.8h.01M358.8 91.8h.01M359.0 93.5h.01M356.5 82.3h.01M354.5 92.2h.01M361.5 90.0h.01M360.0 90.3h.01M358.9 88.4h.01M357.3 94.0h.01M357.7 89.9h.01M361.9 93.3h.01M357.3 90.8h.01M355.5 90.4h.01M359.3 90.0h.01M358.9 91.2h.01M358.7 88.4h.01M355.7 89.2h.01M363.1 89.2h.01M356.6 88.4h.01M355.0 91.6h.01M355.6 93.0h.01M361.0 91.9h.01M361.4 89.7h.01M353.4 89.8h.01M360.3 84.9h.01M354.9 93.6h.01M359.7 94.5h.01M360.4 90.2h.01M359.7 92.8h.01M358.4 89.3h.01M359.3 89.0h.01M365.4 87.5h.01M354.1 85.7h.01M361.4 88.7h.01M358.9 89.3h.01M359.2 85.2h.01M358.7 88.1h.01M361.6 92.1h.01M354.8 86.8h.01M360.1 94.0h.01M360.6 89.5h.01M361.6 82.2h.01M356.9 86.8h.01M355.5 91.9h.01M359.2 90.9h.01M358.1 92.1h.01M360.7 88.1h.01M361.1 86.9h.01M363.5 85.7h.01M357.6 86.4h.01M358.6 94.4h.01M356.3 95.9h.01M362.5 91.3h.01M356.7 93.0h.01M361.2 89.9h.01M365.6 87.8h.01M354.6 89.3h.01M360.1 95.7h.01M353.3 90.5h.01M362.1 87.8h.01M357.1 86.0h.01M360.7 92.8h.01M360.1 90.8h.01M361.3 89.6h.01M360.5 92.7h.01M362.2 91.7h.01M358.7 92.4h.01M353.9 84.1h.01M363.1 90.5h.01M355.4 88.1h.01M358.0 90.2h.01M356.2 93.3h.01M355.3 95.5h.01M360.4 84.4h.01M354.9 90.2h.01M359.2 88.6h.01M358.5 90.5h.01M355.1 90.2h.01M365.1 87.8h.01M355.5 92.2h.01M362.4 93.5h.01M356.6 89.8h.01M359.0 89.3h.01M359.6 93.6h.01M360.0 90.0h.01M357.8 96.0h.01M360.6 90.3h.01M356.3 96.1h.01M362.0 93.0h.01M364.5 84.0h.01M358.7 89.0h.01M356.3 90.3h.01M360.0 91.8h.01M358.0 85.6h.01M360.1 92.0h.01M364.7 93.1h.01M358.5 86.2h.01M359.0 92.5h.01M359.9 94.5h.01M355.4 87.7h.01M359.0 85.9h.01M356.6 94.6h.01M359.3 89.7h.01M356.8 90.2h.01M358.3 86.4h.01M360.8 85.7h.01M362.2 88.9h.01M351.7 84.8h.01M359.3 87.1h.01M363.8 94.6h.01M364.7 93.0h.01M362.4 88.0h.01M362.3 88.5h.01M358.3 85.4h.01M358.6 91.4h.01M358.3 86.3h.01M361.1 93.1h.01M358.2 92.6h.01M361.4 86.7h.01M358.3 83.7h.01M355.4 91.4h.01M355.8 91.3h.01M359.5 83.1h.01M357.0 95.1h.01M358.5 90.4h.01M356.3 84.6h.01M357.9 87.1h.01M358.8 83.5h.01M362.6 95.8h.01M356.2 91.1h.01M355.8 92.9h.01M355.9 89.5h.01M362.3 91.8h.01M357.5 84.9h.01M353.7 94.1h.01M360.0 90.2h.01M362.2 90.5h.01M356.3 89.6h.01M358.1 90.0h.01M365.9 92.0h.01M359.3 89.2h.01M356.4 86.6h.01M352.8 88.4h.01M353.9 83.7h.01M355.6 83.1h.01M362.5 94.2h.01M358.5 86.6h.01M353.2 89.1h.01M361.9 91.5h.01" stroke="#555" stroke-width="0.6" stroke-linecap="round" fill="none" opacity="1.0" filter="url(#bd)"/>
<path d="M359.3 92.5h.01M356.4 90.9h.01M361.4 87.7h.01M360.7 95.0h.01M356.7 89.8h.01M358.2 94.1h.01M355.5 86.4h.01M357.0 91.5h.01M354.0 96.1h.01M358.4 92.6h.01M357.3 82.8h.01M356.9 90.4h.01M353.2 96.1h.01M359.5 88.8h.01M352.4 85.9h.01M356.3 91.5h.01M354.2 89.2h.01M355.5 90.3h.01M360.8 89.7h.01M361.6 91.1h.01M353.1 91.6h.01M358.2 93.0h.01M364.0 87.3h.01M362.9 85.6h.01M360.3 82.5h.01M362.6 88.6h.01M357.8 89.4h.01M356.8 85.6h.01M360.9 91.2h.01M352.7 86.2h.01M363.9 86.4h.01M355.8 90.5h.01M356.8 95.7h.01M364.6 84.2h.01M354.9 84.8h.01M357.7 86.4h.01M360.6 94.8h.01M352.9 82.8h.01M353.4 86.7h.01M353.7 88.4h.01M356.7 92.6h.01M364.4 96.1h.01M357.4 91.4h.01M353.7 90.9h.01M363.3 94.8h.01M353.8 84.7h.01M363.5 92.2h.01M361.8 83.3h.01M359.9 82.7h.01M361.4 93.5h.01M356.1 82.4h.01M361.4 96.4h.01M359.9 87.5h.01M356.2 93.8h.01M364.4 87.5h.01M354.8 96.4h.01M357.5 88.6h.01M356.0 92.5h.01M364.6 89.0h.01M362.9 88.0h.01M357.4 93.6h.01M364.4 93.0h.01M361.0 94.0h.01M363.8 95.7h.01M358.8 87.8h.01M352.1 89.8h.01M356.5 82.4h.01M364.7 86.7h.01M363.9 82.6h.01M356.6 93.4h.01M360.6 91.8h.01M358.2 83.7h.01M362.6 93.1h.01M358.1 90.3h.01M362.3 89.3h.01M358.1 89.2h.01M361.4 92.7h.01M356.3 93.3h.01M356.8 91.8h.01M356.8 95.0h.01M364.0 93.3h.01M356.9 87.3h.01M357.5 90.9h.01M352.4 90.0h.01M363.9 83.3h.01M363.4 90.4h.01M364.8 92.5h.01M361.2 92.9h.01M357.4 84.1h.01M362.9 94.7h.01M361.2 85.4h.01M358.4 89.6h.01M356.7 89.3h.01M357.9 96.1h.01M360.0 96.1h.01M363.6 84.9h.01M361.9 87.7h.01M359.6 90.3h.01M361.5 86.6h.01M360.7 87.6h.01M362.0 89.3h.01M360.2 96.4h.01M355.6 82.5h.01M363.5 89.7h.01M360.3 94.0h.01M363.4 87.8h.01M364.6 87.9h.01M361.3 94.0h.01M356.6 88.3h.01M356.7 87.2h.01M357.3 94.3h.01M352.8 96.3h.01M362.1 90.2h.01M360.2 86.6h.01M361.8 94.6h.01M356.9 89.4h.01M354.8 85.9h.01M362.9 91.4h.01M357.7 91.4h.01M354.4 82.5h.01M356.6 90.5h.01M354.4 90.0h.01M356.2 86.1h.01M361.5 87.5h.01M361.5 92.9h.01M356.8 82.8h.01M362.8 90.1h.01M359.4 92.0h.01M359.0 95.1h.01M352.1 96.0h.01" stroke="#777" stroke-width="0.6" stroke-linecap="round" fill="none" opacity="1.0" filter="url(#bd)"/>
<path d="M355.4 71.4h.01M364.0 69.1h.01M357.6 74.1h.01M355.5 71.2h.01M352.3 70.6h.01M357.0 77.7h.01M359.6 75.0h.01M357.5 80.1h.01M359.9 73.5h.01M357.2 78.8h.01M356.0 71.2h.01M357.1 72.2h.01M362.3 76.1h.01M357.7 72.1h.01M362.8 76.5h.01M365.1 78.7h.01M357.3 72.0h.01M357.0 75.3h.01M360.7 76.7h.01M363.4 67.5h.01M358.1 67.9h.01M354.5 71.7h.01M355.8 70.0h.01M352.8 79.8h.01M356.9 79.0h.01M354.2 63.8h.01M356.0 78.6h.01M356.1 76.3h.01M359.5 79.3h.01M357.1 80.4h.01M358.2 72.2h.01M355.8 74.8h.01M354.9 69.0h.01M358.4 77.8h.01M357.0 78.4h.01M363.4 68.7h.01M358.9 70.1h.01M355.8 75.3h.01M360.9 77.0h.01M356.8 79.5h.01M362.9 76.8h.01M351.9 73.8h.01M357.0 67.0h.01M357.8 78.0h.01M357.1 73.7h.01M363.0 71.7h.01M354.8 74.7h.01M361.8 77.2h.01M358.2 72.2h.01M362.2 78.6h.01M352.1 76.0h.01M360.1 71.6h.01M353.6 73.1h.01M352.0 77.1h.01M356.3 66.3h.01M357.9 80.0h.01M353.7 72.9h.01M364.2 75.3h.01M356.1 75.4h.01M360.7 69.9h.01M357.7 67.0h.01M352.6 67.4h.01M360.9 75.9h.01M360.5 80.1h.01M358.2 75.6h.01M359.4 76.7h.01M354.4 73.2h.01M357.5 74.7h.01M355.4 73.9h.01M359.0 75.4h.01M360.0 78.3h.01M359.9 78.9h.01M360.1 71.6h.01M365.9 79.7h.01M362.3 77.9h.01M358.2 69.2h.01M359.5 72.9h.01M356.6 64.6h.01M363.3 69.1h.01M354.2 76.6h.01M359.9 70.8h.01M358.0 75.7h.01M358.5 76.9h.01M360.6 72.8h.01M356.7 69.9h.01M360.6 77.2h.01M357.9 75.9h.01M359.1 73.4h.01M359.1 68.5h.01M361.0 72.6h.01M356.0 67.6h.01M357.6 73.7h.01M355.8 67.3h.01M358.5 76.4h.01M361.9 76.9h.01M363.2 80.0h.01M357.6 69.7h.01M359.5 78.9h.01M352.7 68.8h.01M360.3 71.9h.01M363.0 75.5h.01M356.1 68.4h.01M360.0 66.6h.01M353.6 68.4h.01M357.2 72.7h.01M360.4 80.2h.01M357.3 79.7h.01M357.3 68.6h.01M364.7 71.3h.01M358.0 68.7h.01M360.3 75.4h.01M357.0 72.6h.01M356.0 71.2h.01M353.2 80.1h.01M361.0 68.1h.01M354.0 76.4h.01M365.7 73.5h.01M356.9 73.3h.01M358.8 73.7h.01M361.7 79.0h.01M357.2 72.0h.01M352.7 63.6h.01M359.2 69.6h.01M361.6 64.8h.01M357.5 72.7h.01M354.3 79.7h.01M356.6 76.6h.01M356.2 75.2h.01M356.5 74.8h.01M357.7 71.3h.01M359.5 73.6h.01M354.7 69.6h.01M353.5 72.6h.01M359.5 79.3h.01M360.4 69.0h.01M358.1 78.6h.01M358.8 73.5h.01M354.0 75.3h.01M357.8 74.6h.01M363.1 80.0h.01M355.3 75.6h.01M356.9 75.0h.01M363.6 78.7h.01M358.1 71.5h.01M357.4 76.2h.01M356.3 79.6h.01M358.1 69.0h.01M365.0 61.1h.01M357.1 73.9h.01M361.4 79.6h.01M359.1 75.0h.01M361.5 74.4h.01M353.7 72.4h.01M360.3 77.3h.01M354.2 80.0h.01M359.1 67.6h.01M359.6 79.1h.01M359.8 73.1h.01M355.3 79.7h.01M358.8 74.5h.01M356.6 69.7h.01M361.8 78.0h.01M357.2 69.8h.01M356.7 68.9h.01M357.8 63.3h.01M358.9 71.1h.01M360.4 72.2h.01M362.3 72.8h.01M365.0 72.9h.01M358.7 70.2h.01M353.6 76.1h.01M359.2 70.0h.01M359.9 72.6h.01M356.1 74.2h.01M359.3 77.9h.01M362.2 76.3h.01M355.5 71.3h.01M359.3 69.0h.01M357.4 72.7h.01M357.7 75.3h.01M361.0 79.2h.01M354.4 79.3h.01M362.4 68.2h.01M358.2 70.8h.01M356.0 79.4h.01M358.9 72.8h.01M361.9 70.2h.01M355.1 71.9h.01M355.4 77.7h.01M357.2 69.6h.01M356.4 65.3h.01M358.6 75.0h.01M360.1 73.4h.01M359.4 70.2h.01M358.1 75.2h.01M353.9 77.2h.01M358.5 74.7h.01M358.0 71.0h.01M355.1 77.2h.01M357.3 70.9h.01M355.5 78.8h.01M358.3 79.4h.01M357.9 69.0h.01M361.0 76.0h.01M355.8 73.1h.01M354.7 78.3h.01M356.6 76.7h.01M358.9 73.3h.01M359.3 73.4h.01M354.0 72.6h.01M354.0 78.0h.01M360.2 71.8h.01M360.1 75.6h.01M361.3 70.2h.01M358.1 69.9h.01M359.7 78.1h.01M355.3 65.2h.01M352.1 76.2h.01M361.8 78.7h.01M357.4 77.3h.01M356.2 64.6h.01M356.9 75.4h.01M358.9 71.2h.01M357.2 69.3h.01M357.2 74.9h.01M359.5 69.2h.01M358.2 74.5h.01M354.6 77.8h.01M364.5 77.6h.01M360.6 79.4h.01M357.6 79.0h.01M355.3 75.3h.01M360.4 80.5h.01M357.0 73.2h.01M359.6 74.1h.01M358.5 78.2h.01M355.4 78.5h.01M359.3 73.3h.01M353.8 71.6h.01M357.8 78.8h.01M358.7 69.3h.01M360.9 76.3h.01M359.5 70.0h.01M354.2 78.7h.01M362.8 76.2h.01M357.3 72.4h.01M352.2 79.0h.01M357.7 80.1h.01M355.6 79.3h.01M355.6 77.2h.01M362.6 71.3h.01M361.1 74.5h.01M354.8 75.4h.01M360.2 71.2h.01M357.1 71.9h.01M355.4 73.5h.01M360.8 72.2h.01M362.2 72.8h.01M355.7 79.4h.01M362.7 71.5h.01M360.0 69.2h.01M356.6 72.8h.01M360.4 68.8h.01M356.3 71.4h.01" stroke="#c0c0c0" stroke-width="0.6" stroke-linecap="round" fill="none" opacity="1.0" filter="url(#bd)"/>
<path d="M358.3 61.1h.01M353.8 77.2h.01M358.7 60.0h.01M360.6 60.8h.01M352.0 72.6h.01M362.0 62.7h.01M354.5 67.9h.01M364.4 68.4h.01M360.1 61.3h.01M352.4 67.5h.01M361.2 66.5h.01M358.0 71.5h.01M355.3 70.3h.01M360.6 63.5h.01M358.4 66.4h.01M359.8 62.1h.01M357.3 66.4h.01M358.1 66.1h.01M358.8 65.2h.01M356.4 70.1h.01M356.0 64.7h.01M355.2 61.5h.01M359.4 65.8h.01M357.6 67.8h.01M357.5 68.7h.01M363.7 67.4h.01M357.2 72.5h.01M360.2 59.4h.01M362.2 66.8h.01M360.7 61.4h.01M355.3 63.4h.01M359.7 61.6h.01M355.8 69.8h.01M356.0 66.5h.01M355.2 59.3h.01M357.7 65.5h.01M353.5 69.8h.01M360.6 69.5h.01M356.4 61.5h.01M357.7 66.6h.01M357.5 63.7h.01M354.9 63.1h.01M357.7 64.1h.01M363.2 64.9h.01M359.4 64.2h.01M357.4 62.2h.01M356.5 60.1h.01M354.7 67.7h.01M357.6 63.8h.01M360.3 63.8h.01M359.4 64.5h.01M361.0 69.8h.01M358.2 70.3h.01M359.6 72.1h.01M357.6 59.9h.01M358.7 66.9h.01M356.9 65.2h.01M357.1 61.1h.01M363.4 63.0h.01" stroke="#d4d4d4" stroke-width="0.6" stroke-linecap="round" fill="none" opacity="1.0" filter="url(#bd)"/>
<g filter="url(#b2)"><ellipse cx="379.7" cy="88.8" rx="4.4" ry="6.2" fill="#161616"/></g>
<path d="M377.2 83.6h.01M377.7 88.5h.01M383.2 90.5h.01M378.0 84.7h.01M377.1 88.3h.01M381.7 87.1h.01M383.5 94.7h.01M380.1 81.8h.01M382.3 88.3h.01M381.3 91.7h.01M377.3 88.8h.01M380.1 86.2h.01M381.3 88.2h.01M378.7 94.5h.01M380.1 93.7h.01M379.3 91.8h.01M377.9 89.1h.01M382.2 81.8h.01M381.0 87.7h.01M382.3 89.2h.01M379.5 84.6h.01M386.6 86.3h.01M378.9 86.3h.01M379.0 89.3h.01M376.6 91.9h.01M379.1 90.5h.01M374.7 87.0h.01M379.0 87.4h.01M378.1 89.6h.01M380.6 85.5h.01M375.1 90.9h.01M378.9 91.9h.01M381.7 88.3h.01M376.3 87.5h.01M378.0 92.5h.01M375.7 91.5h.01M376.1 86.8h.01M376.4 86.4h.01M378.7 89.8h.01M378.3 90.7h.01M383.8 89.1h.01M377.0 88.0h.01M379.4 87.5h.01M382.4 92.2h.01M384.4 90.2h.01M373.4 88.2h.01M381.3 86.1h.01M378.3 91.4h.01M380.0 85.1h.01M379.7 84.8h.01M379.6 84.9h.01M377.5 87.0h.01M386.2 84.9h.01M376.9 86.9h.01M382.2 91.1h.01M381.3 87.6h.01M380.0 86.2h.01M379.3 86.1h.01M376.3 85.5h.01M384.2 89.8h.01M377.9 88.2h.01M378.6 92.4h.01M379.6 86.6h.01M381.3 89.6h.01M378.1 86.2h.01M380.0 83.5h.01M377.5 91.8h.01M381.7 92.1h.01M378.6 86.7h.01M379.0 87.1h.01M382.7 87.9h.01M382.8 86.4h.01M380.6 93.7h.01M377.9 86.5h.01M378.3 83.5h.01M379.0 86.6h.01M384.8 87.1h.01M374.7 91.5h.01M381.9 88.5h.01M380.3 90.8h.01M378.4 88.7h.01M380.0 93.8h.01M383.0 89.1h.01M376.5 91.4h.01M379.5 92.2h.01M379.8 89.2h.01M381.2 86.3h.01M378.1 95.8h.01M377.6 91.5h.01M381.3 91.1h.01M382.9 84.4h.01M381.9 82.1h.01M379.8 89.6h.01M382.1 92.0h.01M377.5 87.7h.01M379.3 86.4h.01M377.8 86.5h.01M382.4 92.9h.01M381.4 93.9h.01M379.9 85.2h.01M378.1 89.2h.01M382.1 92.4h.01M377.6 91.6h.01M378.4 90.5h.01M381.8 93.2h.01M378.4 89.4h.01M380.7 87.3h.01M379.9 90.5h.01M375.8 86.6h.01M385.1 90.0h.01M378.4 82.8h.01M377.4 90.2h.01M381.3 90.0h.01M381.1 86.7h.01M383.4 85.1h.01M380.9 87.8h.01M375.7 91.4h.01M379.0 90.8h.01M382.6 89.1h.01M378.1 87.9h.01M379.5 93.1h.01M381.7 93.6h.01M381.4 86.2h.01M381.8 91.6h.01M379.4 90.0h.01M378.9 84.6h.01M379.5 91.0h.01M377.8 92.0h.01M380.2 92.1h.01M377.9 87.3h.01M377.3 86.2h.01M380.9 89.0h.01M378.5 89.5h.01M376.6 87.4h.01M376.2 83.9h.01M376.5 85.1h.01M383.3 92.9h.01M382.6 86.8h.01M381.1 85.0h.01M378.4 89.4h.01M375.9 89.2h.01M381.1 82.1h.01M374.0 87.7h.01M379.4 89.0h.01M377.0 90.4h.01M380.0 86.3h.01M383.5 89.4h.01M381.4 94.4h.01M378.5 87.9h.01M375.6 87.9h.01M380.7 96.5h.01M381.0 89.2h.01M376.7 85.9h.01M375.3 84.3h.01M379.9 89.5h.01M377.5 87.9h.01M377.8 90.5h.01M381.2 86.8h.01M378.6 84.7h.01M378.6 95.5h.01M379.6 91.3h.01M381.0 93.3h.01M378.9 85.7h.01M382.1 91.5h.01M378.1 92.1h.01M379.6 88.5h.01M384.0 90.3h.01M380.4 87.6h.01M380.1 91.9h.01M380.7 86.2h.01M380.7 88.2h.01M380.4 88.0h.01M374.6 83.5h.01M378.8 81.6h.01M376.1 95.0h.01M381.3 87.1h.01M380.2 91.7h.01M380.1 84.5h.01M381.9 86.9h.01M378.3 89.2h.01M379.0 95.0h.01M379.3 95.4h.01M380.7 84.7h.01M379.7 88.8h.01M383.0 92.7h.01M385.6 86.5h.01M378.6 96.0h.01M377.6 89.7h.01M383.4 85.4h.01M378.8 86.2h.01M380.9 89.9h.01M379.6 90.7h.01M377.8 87.4h.01M380.8 95.0h.01M379.6 88.8h.01M382.7 88.8h.01M382.7 89.4h.01M382.4 89.2h.01M377.5 85.9h.01M380.7 94.6h.01M384.0 87.6h.01M385.5 85.1h.01M377.7 91.6h.01M376.1 91.5h.01M380.5 90.6h.01M376.8 89.8h.01M381.9 88.4h.01M382.1 88.7h.01M380.5 87.6h.01M376.5 88.1h.01M380.8 86.2h.01M375.1 83.7h.01M382.7 87.9h.01M377.9 92.5h.01M379.3 83.8h.01M378.6 85.8h.01M379.2 85.7h.01M379.8 90.1h.01M378.3 88.0h.01M379.3 91.2h.01M378.0 91.0h.01M382.6 88.0h.01M377.4 87.6h.01M375.5 86.9h.01M376.9 88.1h.01M378.8 90.2h.01M379.9 89.9h.01M379.6 89.5h.01M377.0 90.7h.01M382.7 92.1h.01M376.5 89.9h.01M375.8 91.0h.01M379.2 87.1h.01M377.9 87.8h.01M379.7 85.5h.01M379.8 89.4h.01M380.9 88.5h.01M379.7 96.0h.01M382.0 89.6h.01M376.4 90.6h.01M379.3 89.8h.01M379.8 88.9h.01M379.3 93.0h.01M380.6 87.7h.01M379.1 95.3h.01M377.6 86.9h.01M380.4 89.1h.01M380.4 92.9h.01M382.4 89.9h.01M379.8 88.4h.01M379.1 91.8h.01M376.7 85.3h.01M378.6 85.5h.01M377.9 92.4h.01M374.4 90.4h.01M376.6 87.8h.01M378.3 85.4h.01M376.2 88.8h.01M372.7 81.8h.01M378.7 92.1h.01M384.0 87.7h.01M377.8 87.7h.01M380.8 91.6h.01M377.4 90.1h.01M379.6 92.3h.01M378.7 87.9h.01M377.7 84.4h.01M380.3 90.9h.01M382.3 89.5h.01M378.6 85.7h.01M376.9 86.3h.01M380.5 88.9h.01M374.2 88.3h.01M379.0 85.3h.01M379.6 90.3h.01M377.2 84.3h.01M378.9 89.4h.01M379.1 93.5h.01M380.0 85.4h.01M381.5 86.5h.01M381.3 88.9h.01M382.6 85.4h.01M381.4 90.0h.01M377.5 90.9h.01M385.1 89.7h.01M377.9 88.1h.01M382.8 89.4h.01M383.2 86.5h.01M382.8 83.6h.01M379.3 87.7h.01M378.5 92.5h.01M378.2 89.7h.01M384.1 91.2h.01M378.7 86.3h.01M374.9 89.8h.01M381.8 92.1h.01M380.3 95.5h.01M377.6 91.2h.01M378.7 91.3h.01M385.8 86.2h.01M384.9 88.3h.01M376.2 88.9h.01M381.8 86.7h.01M383.4 85.8h.01M379.2 91.6h.01M379.2 86.8h.01M379.6 90.7h.01M383.8 92.9h.01M384.1 88.5h.01M375.7 88.5h.01M378.7 85.4h.01M378.5 88.4h.01M379.8 91.5h.01M377.5 92.3h.01M379.8 91.0h.01M382.7 84.6h.01M383.5 86.3h.01M380.6 92.1h.01M381.9 83.6h.01M380.1 92.2h.01M379.4 88.3h.01M379.9 93.9h.01M378.4 85.6h.01M377.0 86.9h.01M379.1 89.7h.01M379.5 83.1h.01M375.9 90.8h.01M381.4 84.3h.01M385.2 90.5h.01M375.7 90.2h.01M379.6 87.1h.01M378.8 87.9h.01M379.5 85.7h.01M378.3 90.4h.01M381.0 84.3h.01M378.5 93.6h.01M381.4 93.9h.01M376.5 85.3h.01M374.5 82.4h.01M378.8 85.2h.01M377.1 86.4h.01M379.2 91.3h.01M381.0 83.0h.01M383.3 87.5h.01M377.3 88.5h.01M378.7 84.2h.01M383.4 86.7h.01M378.3 90.3h.01M383.7 90.2h.01M377.5 90.0h.01M382.4 89.8h.01M381.3 87.1h.01M379.5 83.2h.01M378.0 85.0h.01M379.7 93.4h.01M374.3 84.4h.01M377.5 88.3h.01M382.5 86.1h.01M377.8 92.5h.01M380.6 90.3h.01M381.7 86.2h.01M380.2 86.5h.01M378.0 89.0h.01M380.7 84.5h.01M377.8 90.6h.01M380.1 90.7h.01M378.9 86.0h.01M381.6 90.5h.01M372.9 91.4h.01M377.9 90.7h.01M383.5 87.7h.01M377.4 89.4h.01M379.9 90.4h.01M376.3 89.4h.01M381.8 90.8h.01M381.2 92.4h.01M377.7 92.5h.01M380.2 85.4h.01M379.0 89.5h.01M380.5 92.9h.01M380.2 87.0h.01M385.0 87.5h.01M377.7 91.6h.01M378.7 86.1h.01M377.1 92.4h.01M377.1 88.9h.01M378.6 88.0h.01M377.7 89.1h.01M381.2 92.0h.01M378.8 84.9h.01M376.1 88.6h.01M373.7 92.9h.01M379.8 89.0h.01M376.3 86.5h.01M377.9 90.8h.01M378.7 90.6h.01M380.9 82.4h.01M379.1 92.7h.01M378.5 89.0h.01M379.4 84.7h.01M385.0 88.2h.01M381.2 87.2h.01M383.1 92.3h.01M382.5 91.7h.01M381.4 93.1h.01M380.7 89.1h.01M381.6 85.8h.01M373.6 91.2h.01M380.1 86.4h.01M379.1 85.6h.01M377.7 89.2h.01M380.0 91.3h.01M379.5 90.6h.01M381.3 86.4h.01" stroke="#2a2a2a" stroke-width="0.64" stroke-linecap="round" fill="none" opacity="1.0" filter="url(#bd)"/>
<path d="M376.8 78.3h.01M379.1 78.7h.01M383.0 78.3h.01M380.3 78.1h.01M380.6 76.9h.01M381.0 80.5h.01M378.9 77.0h.01M382.2 78.6h.01M381.8 74.0h.01M377.6 84.6h.01M382.4 80.1h.01M381.1 81.5h.01M378.9 80.3h.01M377.7 76.7h.01M379.7 81.8h.01M379.8 77.0h.01" stroke="#bbb" stroke-width="0.6" stroke-linecap="round" fill="none" opacity="1.0" filter="url(#bd)"/>
<rect x="351.3" y="47.9" width="49.50" height="49.20" fill="none" stroke="#a8a8a8" stroke-width="0.7"/>
<line x1="366.9" y1="47.9" x2="366.9" y2="97.1" stroke="#a8a8a8" stroke-width="0.595"/>
<line x1="351.3" y1="81.0" x2="400.8" y2="81.0" stroke="#a8a8a8" stroke-width="0.595"/>
<path d="M353.8 96.89999999999999v-1M356.2 96.89999999999999v-1M358.7 96.89999999999999v-1M361.2 96.89999999999999v-1M363.7 96.89999999999999v-1M366.2 96.89999999999999v-1M368.6 96.89999999999999v-1M371.1 96.89999999999999v-1M373.6 96.89999999999999v-1M376.1 96.89999999999999v-1M378.5 96.89999999999999v-1M381.0 96.89999999999999v-1M383.5 96.89999999999999v-1M385.9 96.89999999999999v-1M388.4 96.89999999999999v-1M390.9 96.89999999999999v-1M393.4 96.89999999999999v-1M395.9 96.89999999999999v-1M398.3 96.89999999999999v-1M351.5 50.4h1M351.5 52.8h1M351.5 55.3h1M351.5 57.7h1M351.5 60.2h1M351.5 62.7h1M351.5 65.1h1M351.5 67.6h1M351.5 70.0h1M351.5 72.5h1M351.5 75.0h1M351.5 77.4h1M351.5 79.9h1M351.5 82.3h1M351.5 84.8h1M351.5 87.3h1M351.5 89.7h1M351.5 92.2h1M351.5 94.6h1" stroke="#9a9a9a" stroke-width="0.5" opacity="0.9"/>
<text x="345.81" y="69.50" font-size="7.8" font-weight="bold" text-anchor="middle" fill="#1a1a1a" stroke="#1a1a1a" stroke-width="0.23" transform="rotate(-90 345.81 69.50)">NKp46</text>
<text x="353.8" y="57.0" font-size="7.6" font-weight="bold" text-anchor="start" fill="#1a1a1a" stroke="#1a1a1a" stroke-width="0.23">7.6</text>
<text x="396.6" y="57.0" font-size="7.6" font-weight="bold" text-anchor="end" fill="#1a1a1a" stroke="#1a1a1a" stroke-width="0.23">0.2</text>
<text x="397.4" y="94.2" font-size="7.6" font-weight="bold" text-anchor="end" fill="#1a1a1a" stroke="#1a1a1a" stroke-width="0.23">62</text>
<line x1="343.8" y1="104.7" x2="343.8" y2="89.5" stroke="#111" stroke-width="1.15"/>
<polygon points="343.8,85.4 341.40000000000003,90.0 346.2,90.0" fill="#111"/>
<line x1="343.25" y1="104.7" x2="358.7" y2="104.7" stroke="#111" stroke-width="1.15"/>
<polygon points="362.8,104.7 358.2,102.3 358.2,107.10000000000001" fill="#111"/>
<text x="366.8" y="108.6" font-size="7.6" font-weight="bold" text-anchor="start" fill="#1a1a1a" stroke="#1a1a1a" stroke-width="0.23">CD3</text>
<path d="M446.0 73.7h.01M445.8 72.7h.01M443.8 76.2h.01M447.1 70.3h.01M442.1 75.9h.01M445.0 73.6h.01M442.3 76.1h.01M444.7 74.0h.01M445.1 72.1h.01M445.1 73.8h.01M445.7 74.4h.01M441.7 71.6h.01M443.8 76.5h.01M443.0 76.4h.01M446.5 75.7h.01M448.8 73.4h.01M444.9 76.6h.01M445.1 76.0h.01M444.0 77.1h.01M445.0 68.5h.01M446.5 72.9h.01M442.5 72.7h.01M443.7 76.4h.01M445.0 73.3h.01M444.3 71.1h.01M443.0 72.2h.01M443.8 70.4h.01M443.5 76.0h.01M445.2 73.4h.01M445.0 72.8h.01M441.9 75.7h.01M448.8 74.8h.01M445.7 79.8h.01M441.9 74.8h.01M443.6 72.7h.01M441.0 73.2h.01M445.1 69.3h.01M443.9 72.2h.01M442.3 75.1h.01M447.6 74.5h.01M446.4 75.4h.01M444.2 74.9h.01M447.0 72.3h.01M444.0 69.9h.01M440.6 71.3h.01M446.1 74.4h.01M444.8 76.8h.01M440.8 77.0h.01M444.5 75.4h.01M447.1 71.3h.01M442.6 74.5h.01M444.2 71.9h.01M444.0 71.6h.01M444.6 72.4h.01M447.7 70.7h.01M445.5 73.6h.01M447.5 70.9h.01M443.4 77.9h.01M443.0 72.5h.01M443.5 70.9h.01M446.8 77.3h.01M444.0 71.5h.01M441.6 75.1h.01M443.2 74.9h.01M439.5 72.3h.01M445.6 74.5h.01M438.5 74.2h.01M444.6 73.4h.01M443.6 72.3h.01M444.6 74.8h.01M437.9 73.4h.01M446.2 72.9h.01M446.8 71.0h.01M448.1 75.9h.01M443.5 80.5h.01M447.2 77.5h.01M441.9 73.1h.01M445.2 76.1h.01M444.5 70.1h.01M446.8 73.0h.01M445.2 72.6h.01M444.1 69.9h.01M445.6 71.8h.01M440.7 74.5h.01M444.2 75.9h.01M445.9 70.3h.01M443.9 73.4h.01M444.5 70.7h.01M444.5 76.0h.01M446.8 77.2h.01M445.8 66.9h.01M443.8 72.0h.01M438.5 77.4h.01M446.1 73.4h.01M445.0 74.7h.01M443.9 77.0h.01M448.0 75.5h.01M443.2 74.1h.01M446.3 75.3h.01M442.9 75.9h.01M445.8 74.9h.01M443.5 73.4h.01M440.5 73.4h.01M443.4 72.7h.01M443.7 72.6h.01M444.5 73.7h.01M443.1 73.1h.01M444.1 74.7h.01M445.2 72.5h.01M442.6 69.2h.01M441.8 74.5h.01M442.5 77.6h.01M444.0 72.4h.01M444.0 72.0h.01M443.0 73.6h.01M441.4 73.8h.01M444.1 71.1h.01M446.4 74.4h.01M446.5 71.7h.01M441.8 70.4h.01M441.1 68.6h.01M447.4 72.2h.01M444.7 72.1h.01M444.0 77.5h.01M440.8 70.9h.01M444.6 71.1h.01M445.7 76.8h.01M446.1 75.4h.01M444.0 76.0h.01M442.7 70.4h.01M443.8 72.8h.01M446.8 70.9h.01M446.6 71.4h.01M441.8 69.1h.01M444.2 69.7h.01M444.7 73.5h.01M443.5 68.5h.01M443.3 74.6h.01M440.7 75.2h.01M444.3 72.0h.01M444.7 75.1h.01M444.3 71.4h.01M445.9 71.7h.01M445.0 75.9h.01M446.9 77.5h.01M446.4 73.8h.01M443.9 73.9h.01M445.4 81.1h.01M445.6 71.3h.01M447.4 69.3h.01M446.3 70.1h.01M442.1 72.1h.01M443.7 70.0h.01M445.5 73.1h.01M447.0 70.8h.01M440.7 75.2h.01M443.8 75.9h.01M439.6 70.2h.01M444.5 78.4h.01M441.8 68.5h.01M443.4 77.1h.01M447.5 69.9h.01M443.1 68.7h.01M442.6 70.9h.01M445.2 76.3h.01M449.1 72.5h.01M445.9 74.0h.01M444.6 78.4h.01M445.7 77.4h.01M444.9 75.6h.01M445.3 73.2h.01M442.9 72.4h.01M444.3 72.4h.01M443.6 71.6h.01M446.0 72.8h.01M444.1 72.9h.01M446.9 72.0h.01M447.1 71.2h.01M447.4 75.0h.01M443.3 74.6h.01M446.6 71.0h.01M443.8 74.2h.01M443.9 72.7h.01M444.3 74.2h.01M445.9 77.2h.01M443.7 81.0h.01M443.6 78.0h.01M444.0 69.7h.01M443.4 72.5h.01M446.4 68.2h.01M443.0 73.1h.01M445.6 74.4h.01M446.0 73.0h.01M443.8 76.5h.01M447.7 74.4h.01M444.6 71.2h.01M448.5 74.4h.01M445.5 69.3h.01M445.5 79.7h.01M444.0 72.9h.01M447.4 72.9h.01M446.0 78.4h.01M442.0 71.3h.01M445.7 73.7h.01M444.4 73.0h.01M444.6 74.3h.01M443.4 72.7h.01M444.8 70.6h.01M445.2 67.8h.01M445.6 73.1h.01M442.0 76.9h.01M442.0 78.7h.01M442.9 76.5h.01M444.2 77.6h.01M443.9 76.1h.01M443.7 68.6h.01M445.1 74.6h.01M445.1 77.7h.01M442.8 69.7h.01M444.8 71.6h.01M444.1 73.4h.01M442.7 76.2h.01M444.1 78.0h.01M444.8 76.1h.01M443.7 71.7h.01M443.3 71.1h.01M445.2 73.8h.01M442.2 69.4h.01M442.6 68.7h.01M442.5 69.5h.01M445.7 70.4h.01M443.1 73.1h.01M444.4 74.5h.01M445.8 75.1h.01M443.6 76.6h.01M445.0 71.6h.01M447.3 70.4h.01M445.3 76.6h.01M444.5 74.3h.01M444.6 75.1h.01M444.8 73.4h.01M445.7 68.5h.01M444.8 72.6h.01M448.2 74.2h.01M443.0 75.1h.01M443.5 70.4h.01M443.8 74.7h.01M446.7 76.1h.01M444.8 73.0h.01M444.7 76.5h.01M444.1 76.4h.01M442.7 73.4h.01M445.8 75.2h.01M444.7 72.1h.01M440.8 72.3h.01M442.6 72.4h.01M447.4 71.4h.01M446.0 73.4h.01M442.1 73.7h.01M445.8 70.4h.01M442.0 72.4h.01M445.7 71.9h.01M445.1 74.6h.01M444.3 74.6h.01M446.8 72.9h.01M445.0 70.7h.01M442.9 73.2h.01M445.9 71.7h.01M441.6 75.8h.01M449.0 66.8h.01M442.2 73.7h.01M445.3 71.0h.01M445.0 76.2h.01M443.8 75.3h.01M444.6 71.0h.01M443.1 71.8h.01M446.9 76.4h.01M444.8 69.4h.01M443.3 72.4h.01M440.5 73.4h.01M444.9 70.0h.01M443.5 72.2h.01M447.9 75.1h.01M445.8 73.6h.01M441.8 75.8h.01M443.0 68.5h.01M445.7 72.5h.01M444.3 74.7h.01M443.9 74.5h.01M446.8 72.6h.01M443.6 73.5h.01M445.6 72.4h.01M444.5 71.7h.01M444.2 74.8h.01M442.7 72.9h.01M441.4 71.6h.01M444.5 74.8h.01M442.3 73.1h.01M442.5 74.2h.01M444.8 74.5h.01M443.9 69.8h.01M443.2 70.0h.01M443.0 73.3h.01M446.4 71.8h.01M442.8 73.9h.01M440.3 78.5h.01M441.3 76.0h.01M446.2 75.9h.01M444.1 75.3h.01M443.6 75.9h.01M443.0 71.3h.01M445.0 72.2h.01M445.6 71.2h.01M444.8 70.9h.01M444.1 78.9h.01M442.2 70.3h.01M441.2 72.8h.01M447.5 72.2h.01M446.1 72.9h.01M443.1 78.5h.01M446.4 68.7h.01M442.4 74.5h.01M445.6 72.8h.01M444.9 74.8h.01M443.6 76.0h.01M442.7 75.3h.01M446.1 73.9h.01M443.6 73.4h.01M440.0 74.1h.01M441.5 68.2h.01M445.8 71.1h.01M445.0 73.5h.01M440.9 71.1h.01M443.8 74.6h.01M444.4 70.2h.01M443.3 73.7h.01M441.8 72.3h.01M443.2 68.0h.01M447.7 75.6h.01M443.4 75.8h.01M442.3 77.3h.01M443.6 73.8h.01M443.2 73.6h.01M444.9 73.5h.01M442.7 75.3h.01M445.4 73.4h.01M446.3 71.5h.01M446.8 73.0h.01M447.2 72.3h.01M443.8 73.9h.01M446.4 77.1h.01M443.4 71.5h.01M445.8 76.6h.01M445.7 72.6h.01M446.8 73.3h.01M444.6 75.0h.01M443.2 67.6h.01M444.7 75.2h.01M445.2 74.8h.01M444.6 76.1h.01" stroke="#6e6e6e" stroke-width="0.6" stroke-linecap="round" fill="none" opacity="1.0" filter="url(#bd)"/>
<path d="M445.5 77.9h.01M445.2 75.4h.01M442.9 73.7h.01M446.7 73.1h.01M451.0 72.8h.01M449.4 73.9h.01M449.2 69.4h.01M443.6 76.0h.01M441.8 74.0h.01M447.2 73.3h.01M446.7 74.5h.01M444.1 74.1h.01M443.0 71.0h.01M438.9 72.2h.01M438.4 72.7h.01M445.8 68.7h.01M445.3 73.6h.01M443.7 69.4h.01M444.6 74.1h.01M448.6 79.5h.01M437.4 73.8h.01M446.7 70.3h.01M446.3 80.0h.01M445.4 77.4h.01M449.1 71.0h.01M436.1 76.7h.01M451.0 66.4h.01M444.2 70.1h.01M445.8 72.8h.01M449.4 70.5h.01M452.5 66.5h.01M444.6 74.8h.01M448.5 71.4h.01M437.6 73.4h.01M447.8 65.4h.01M443.1 74.6h.01M435.7 71.9h.01M438.9 67.8h.01M446.6 76.6h.01M449.5 70.3h.01M447.0 66.3h.01M439.3 74.5h.01M443.5 69.0h.01M437.8 71.8h.01M453.7 65.4h.01M441.0 76.6h.01M437.6 70.4h.01M445.3 76.6h.01M444.7 79.1h.01M444.9 72.2h.01M446.7 73.9h.01M439.2 69.2h.01M444.1 73.8h.01M440.3 70.1h.01M442.1 73.8h.01M443.3 74.7h.01M446.5 69.3h.01M443.9 68.2h.01M445.4 75.5h.01M441.2 66.3h.01M447.0 71.6h.01M444.9 74.2h.01M446.5 75.9h.01M443.2 64.7h.01M443.1 71.5h.01M443.4 74.0h.01M444.0 77.2h.01M442.5 72.6h.01M443.6 80.2h.01M441.3 69.0h.01M443.5 75.3h.01M445.1 72.0h.01M439.3 65.2h.01M444.2 71.8h.01M451.9 73.9h.01M446.7 76.1h.01M441.5 68.2h.01M443.6 77.9h.01M448.9 70.5h.01M440.2 75.9h.01M449.3 68.7h.01M451.3 69.8h.01M447.9 71.9h.01M443.7 70.4h.01M447.7 74.8h.01M448.1 71.6h.01M441.7 80.3h.01M451.7 71.9h.01M440.5 78.0h.01M445.5 72.8h.01M448.3 73.9h.01M445.4 79.7h.01M437.6 74.9h.01M441.2 72.9h.01M444.3 73.6h.01M435.6 75.1h.01M454.1 71.1h.01M448.5 74.8h.01M446.2 70.8h.01M447.5 73.6h.01M450.7 75.6h.01M442.2 62.1h.01M450.9 74.4h.01M445.7 70.4h.01M454.8 77.4h.01M445.4 71.3h.01M447.3 77.5h.01M447.0 76.0h.01M446.0 73.9h.01M440.0 73.0h.01M445.2 72.3h.01M444.1 73.7h.01M442.7 71.9h.01M439.8 80.9h.01M441.5 68.3h.01M442.9 71.1h.01M440.8 63.8h.01M451.5 76.3h.01M443.5 74.6h.01M440.6 66.8h.01M446.3 74.7h.01M442.3 72.6h.01M449.2 73.2h.01M445.7 74.7h.01M436.8 68.0h.01M440.0 73.5h.01M442.5 65.8h.01M448.5 71.9h.01M448.9 79.8h.01M438.5 68.0h.01M449.3 77.7h.01M446.6 73.9h.01M447.7 75.0h.01M440.0 75.3h.01M448.9 71.1h.01M441.4 70.8h.01M442.7 74.5h.01M448.1 72.7h.01M443.8 66.2h.01M443.3 69.0h.01M442.8 73.8h.01M441.5 70.7h.01M440.5 71.7h.01M443.9 76.2h.01M437.3 75.9h.01M447.6 70.7h.01M442.3 73.3h.01M447.1 72.0h.01M444.4 72.7h.01M440.7 73.6h.01M447.3 72.8h.01M440.5 72.6h.01M444.6 73.7h.01M443.3 75.6h.01M449.3 75.6h.01M445.9 77.0h.01" stroke="#bdbdbd" stroke-width="0.6" stroke-linecap="round" fill="none" opacity="1.0" filter="url(#bd)"/>
<path d="M451.9 68.1h.01M448.6 68.5h.01M454.9 66.2h.01M453.9 65.5h.01M452.7 72.8h.01M452.1 65.7h.01M452.7 68.2h.01M453.9 67.3h.01M447.9 67.4h.01M453.4 70.9h.01M452.6 68.6h.01M453.6 68.0h.01M450.9 69.0h.01M454.6 67.3h.01M453.2 67.0h.01M450.2 68.9h.01M448.8 66.5h.01M449.2 67.1h.01M449.8 74.0h.01M453.4 68.7h.01M448.8 62.9h.01M453.0 67.0h.01M454.5 67.6h.01M448.9 67.0h.01M448.3 65.2h.01M453.7 67.3h.01M453.6 67.2h.01M451.4 67.2h.01M450.7 67.0h.01M455.5 68.4h.01M447.3 72.5h.01M455.0 71.1h.01M451.7 68.1h.01M450.8 68.8h.01M453.1 68.5h.01M450.0 66.2h.01M456.0 72.5h.01M449.0 67.0h.01M451.9 69.9h.01M451.7 69.1h.01M452.8 71.2h.01M448.9 71.1h.01M453.0 69.8h.01M448.4 68.0h.01M451.4 70.0h.01M453.6 70.1h.01M448.9 71.4h.01M452.1 70.7h.01M452.0 66.9h.01M458.2 70.0h.01M453.8 67.4h.01M451.4 71.1h.01M453.0 72.6h.01M454.8 66.0h.01M448.3 71.2h.01M453.4 67.9h.01M451.3 67.2h.01M456.3 68.1h.01M448.7 70.6h.01M451.8 69.3h.01" stroke="#cdcdcd" stroke-width="0.6" stroke-linecap="round" fill="none" opacity="1.0" filter="url(#bd)"/>
<path d="M423.8 71.9h.01M419.3 73.6h.01M422.9 70.9h.01M425.9 75.7h.01M418.5 71.6h.01M426.6 75.0h.01" stroke="#ccc" stroke-width="0.6" stroke-linecap="round" fill="none" opacity="1.0" filter="url(#bd)"/>
<rect x="415.5" y="48.3" width="49.10" height="49.70" fill="none" stroke="#a8a8a8" stroke-width="0.7"/>
<line x1="432.5" y1="48.3" x2="432.5" y2="98.0" stroke="#a8a8a8" stroke-width="0.595"/>
<line x1="415.5" y1="82.5" x2="464.6" y2="82.5" stroke="#a8a8a8" stroke-width="0.595"/>
<path d="M418.0 97.8v-1M420.4 97.8v-1M422.9 97.8v-1M425.3 97.8v-1M427.8 97.8v-1M430.2 97.8v-1M432.7 97.8v-1M435.1 97.8v-1M437.6 97.8v-1M440.1 97.8v-1M442.5 97.8v-1M445.0 97.8v-1M447.4 97.8v-1M449.9 97.8v-1M452.3 97.8v-1M454.8 97.8v-1M457.2 97.8v-1M459.7 97.8v-1M462.1 97.8v-1M415.7 50.8h1M415.7 53.3h1M415.7 55.8h1M415.7 58.2h1M415.7 60.7h1M415.7 63.2h1M415.7 65.7h1M415.7 68.2h1M415.7 70.7h1M415.7 73.2h1M415.7 75.6h1M415.7 78.1h1M415.7 80.6h1M415.7 83.1h1M415.7 85.6h1M415.7 88.1h1M415.7 90.5h1M415.7 93.0h1M415.7 95.5h1" stroke="#9a9a9a" stroke-width="0.5" opacity="0.9"/>
<text x="411.61" y="69.80" font-size="7.8" font-weight="bold" text-anchor="middle" fill="#1a1a1a" stroke="#1a1a1a" stroke-width="0.23" transform="rotate(-90 411.61 69.80)">NKp46</text>
<text x="417.8" y="57.0" font-size="7.6" font-weight="bold" text-anchor="start" fill="#1a1a1a" stroke="#1a1a1a" stroke-width="0.23">3</text>
<text x="461.2" y="57.0" font-size="7.6" font-weight="bold" text-anchor="end" fill="#1a1a1a" stroke="#1a1a1a" stroke-width="0.23">97</text>
<line x1="407.1" y1="104.7" x2="407.1" y2="89.5" stroke="#111" stroke-width="1.15"/>
<polygon points="407.1,85.4 404.70000000000005,90.0 409.5,90.0" fill="#111"/>
<line x1="406.55" y1="104.7" x2="422.7" y2="104.7" stroke="#111" stroke-width="1.15"/>
<polygon points="426.8,104.7 422.2,102.3 422.2,107.10000000000001" fill="#111"/>
<text x="429.0" y="108.6" font-size="7.6" font-weight="bold" text-anchor="start" fill="#1a1a1a" stroke="#1a1a1a" stroke-width="0.23">CD56</text>
<path d="M492.9 73.9h.01M499.4 75.7h.01M494.3 72.5h.01M494.9 76.3h.01M502.8 71.7h.01M496.7 73.7h.01M492.9 72.7h.01M501.7 75.3h.01M494.0 71.1h.01M496.8 68.8h.01M499.0 73.4h.01M490.8 72.3h.01M494.1 72.2h.01M493.1 77.0h.01M492.6 75.2h.01M498.5 77.2h.01M497.1 73.0h.01M497.8 67.6h.01M509.4 72.4h.01M495.8 69.8h.01M496.7 77.7h.01M493.6 74.3h.01M502.6 75.7h.01M495.4 68.0h.01M499.4 74.7h.01M495.8 71.8h.01M506.2 68.5h.01M494.9 71.3h.01M489.6 71.0h.01M493.4 76.6h.01M488.7 69.1h.01M498.7 68.6h.01M487.4 71.2h.01M491.4 70.2h.01M496.6 74.3h.01M494.2 72.2h.01M501.0 72.6h.01M501.1 71.4h.01M499.8 76.7h.01M490.5 81.6h.01M495.8 72.1h.01M496.6 74.4h.01M491.4 73.1h.01M494.5 77.1h.01M488.8 74.9h.01M495.8 70.9h.01M498.1 72.4h.01M497.6 73.7h.01M503.4 71.9h.01M505.7 65.3h.01M506.5 76.5h.01M505.2 73.6h.01M498.8 70.2h.01M504.1 69.7h.01M493.4 73.0h.01M498.6 74.0h.01M491.6 72.1h.01M499.8 76.4h.01M501.2 74.2h.01M496.1 71.5h.01M494.8 72.8h.01M500.0 71.6h.01M507.7 70.2h.01M501.5 72.5h.01M496.7 72.0h.01M505.1 72.2h.01M500.2 73.4h.01M501.1 74.7h.01M505.6 71.0h.01M493.3 77.9h.01M503.8 73.2h.01M496.0 73.8h.01M503.9 70.9h.01M504.6 72.9h.01M495.6 71.9h.01M487.0 74.0h.01M490.8 71.5h.01M492.9 73.7h.01M501.0 73.2h.01M498.4 74.2h.01M505.4 74.7h.01M505.2 72.9h.01M499.2 71.2h.01M500.4 70.6h.01M499.8 71.3h.01M495.6 76.5h.01M498.1 75.3h.01M496.2 67.8h.01M504.7 72.5h.01M494.2 75.7h.01M491.8 70.9h.01M503.1 71.1h.01M503.0 72.2h.01M496.4 73.2h.01M494.9 76.1h.01M502.9 73.2h.01M500.4 74.6h.01M505.8 68.6h.01M502.5 75.6h.01M495.8 73.1h.01M495.7 76.5h.01M491.7 74.8h.01M503.8 74.7h.01M495.0 71.7h.01M486.9 70.1h.01M502.9 70.4h.01M489.2 72.4h.01M490.0 74.3h.01M493.1 75.7h.01M496.8 69.0h.01M493.6 71.2h.01M493.2 76.5h.01M492.4 74.1h.01M494.5 74.7h.01M490.3 68.6h.01M500.0 77.1h.01M490.5 72.2h.01M494.9 70.4h.01M502.2 73.2h.01M490.5 72.4h.01M504.1 71.0h.01M494.8 70.7h.01M498.2 71.5h.01M501.9 70.7h.01M490.2 74.3h.01M498.8 73.7h.01M494.5 71.8h.01M493.4 72.5h.01M495.1 74.6h.01M497.5 74.6h.01M505.6 72.3h.01M496.0 74.1h.01M507.9 72.0h.01M505.8 76.4h.01M483.8 70.2h.01M492.5 74.2h.01M504.0 73.2h.01M498.2 79.2h.01M499.2 79.1h.01M493.0 77.7h.01M494.9 66.2h.01M493.3 71.7h.01M497.2 75.2h.01M500.9 74.5h.01M493.7 78.1h.01M503.4 73.2h.01M494.6 72.9h.01M496.3 71.1h.01M497.4 71.2h.01M500.6 71.2h.01M499.9 74.0h.01M498.3 74.5h.01M492.3 80.3h.01M494.0 75.1h.01M497.5 71.8h.01M506.1 76.2h.01M496.1 74.6h.01M500.8 77.5h.01M502.5 72.6h.01M496.2 69.8h.01M498.7 75.5h.01M495.5 74.9h.01M498.1 71.7h.01M491.3 76.2h.01M510.1 74.6h.01M492.0 70.1h.01M498.7 74.9h.01M505.0 66.2h.01M506.7 73.5h.01M498.1 74.1h.01M495.7 72.2h.01M502.7 68.1h.01M496.9 74.6h.01M489.2 72.6h.01M505.1 74.1h.01M501.0 75.0h.01M498.5 74.1h.01M493.4 72.5h.01M506.7 69.6h.01M496.6 69.4h.01M494.8 70.9h.01M491.3 73.7h.01M492.7 74.5h.01M506.5 65.8h.01M496.6 67.1h.01M496.8 74.1h.01M498.5 76.5h.01M498.2 68.1h.01M505.0 70.3h.01M497.0 74.0h.01M493.1 73.3h.01M504.9 68.2h.01M489.1 71.8h.01M496.6 69.4h.01M485.9 75.6h.01M499.4 69.3h.01M500.3 72.9h.01M498.3 69.2h.01M496.4 74.4h.01M488.7 70.0h.01M502.3 78.7h.01M500.8 72.8h.01M492.0 71.9h.01M496.2 74.3h.01M496.2 80.1h.01M504.1 66.8h.01M491.6 73.0h.01M502.4 74.2h.01M483.7 68.3h.01M504.2 74.7h.01M510.3 75.3h.01M499.8 77.4h.01M495.2 71.5h.01M492.4 73.7h.01M499.7 75.7h.01M504.7 74.8h.01M503.6 72.3h.01M492.7 75.1h.01M502.6 76.9h.01M496.7 71.7h.01M495.7 74.1h.01M497.2 72.5h.01M498.8 72.2h.01M499.2 71.3h.01M489.7 72.1h.01M507.0 70.7h.01M502.1 76.9h.01M494.8 73.8h.01M486.0 74.7h.01M505.2 73.6h.01M487.5 71.4h.01M493.8 73.4h.01M498.9 71.8h.01M495.9 70.7h.01M500.4 73.6h.01M499.2 71.6h.01M500.0 72.2h.01M499.0 72.6h.01M494.2 69.9h.01M488.1 69.1h.01M489.3 70.7h.01M496.5 69.7h.01M499.6 79.0h.01M483.5 69.7h.01M503.7 69.7h.01M497.0 71.2h.01M501.3 68.8h.01M499.0 73.7h.01M500.3 74.3h.01M498.3 67.9h.01M495.9 70.3h.01M500.2 72.3h.01M498.3 76.2h.01M497.0 77.9h.01M501.7 68.7h.01M494.6 76.5h.01M495.0 76.5h.01M494.7 72.7h.01M502.6 68.5h.01M497.9 71.7h.01M498.3 78.0h.01M500.0 69.1h.01M502.3 71.7h.01M498.3 76.4h.01M495.9 75.8h.01M498.4 70.4h.01M495.9 69.1h.01M503.4 73.5h.01M502.3 69.8h.01M501.7 69.6h.01M498.9 73.0h.01M494.5 73.9h.01M497.7 70.5h.01M493.8 69.2h.01M504.4 73.4h.01M495.7 75.0h.01M493.2 69.6h.01M499.3 77.6h.01M499.0 73.5h.01M506.2 68.5h.01M512.8 69.8h.01M497.1 69.1h.01M491.4 72.3h.01M509.7 70.3h.01M494.4 73.8h.01M492.4 72.3h.01M501.6 66.7h.01M496.0 72.2h.01M494.9 72.7h.01M488.5 71.7h.01M494.9 70.0h.01M503.8 78.8h.01M501.5 70.5h.01M504.6 74.5h.01M493.4 74.8h.01M494.6 74.7h.01" stroke="#c6c6c6" stroke-width="0.6" stroke-linecap="round" fill="none" opacity="1.0" filter="url(#bd)"/>
<path d="M476.0 74.9h.01M473.0 71.7h.01M474.6 68.9h.01M475.2 73.7h.01M472.5 70.6h.01M472.9 68.8h.01M473.0 75.5h.01M473.6 71.0h.01M476.1 74.6h.01M476.7 66.8h.01M475.7 67.6h.01M473.6 71.0h.01M473.7 77.0h.01M474.3 75.0h.01M474.3 71.9h.01M475.4 73.1h.01M475.4 67.6h.01M475.4 72.8h.01M475.5 71.9h.01M475.2 68.7h.01M476.3 68.9h.01M476.7 74.6h.01M474.5 71.3h.01M475.8 71.2h.01M472.8 72.7h.01M472.8 70.8h.01M477.3 74.0h.01M473.9 71.8h.01M473.6 72.0h.01M472.4 73.7h.01M474.6 70.5h.01M473.7 78.6h.01M473.9 70.8h.01M473.7 70.8h.01M476.6 73.7h.01" stroke="#d6d6d6" stroke-width="0.6" stroke-linecap="round" fill="none" opacity="1.0" filter="url(#bd)"/>
<rect x="468.8" y="48.3" width="49.20" height="49.70" fill="none" stroke="#a8a8a8" stroke-width="0.7"/>
<line x1="481" y1="48.3" x2="481" y2="98.0" stroke="#a8a8a8" stroke-width="0.595"/>
<line x1="468.8" y1="82.5" x2="518" y2="82.5" stroke="#a8a8a8" stroke-width="0.595"/>
<path d="M471.3 97.8v-1M473.7 97.8v-1M476.2 97.8v-1M478.6 97.8v-1M481.1 97.8v-1M483.6 97.8v-1M486.0 97.8v-1M488.5 97.8v-1M490.9 97.8v-1M493.4 97.8v-1M495.9 97.8v-1M498.3 97.8v-1M500.8 97.8v-1M503.2 97.8v-1M505.7 97.8v-1M508.2 97.8v-1M510.6 97.8v-1M513.1 97.8v-1M515.5 97.8v-1M469.0 50.8h1M469.0 53.3h1M469.0 55.8h1M469.0 58.2h1M469.0 60.7h1M469.0 63.2h1M469.0 65.7h1M469.0 68.2h1M469.0 70.7h1M469.0 73.2h1M469.0 75.6h1M469.0 78.1h1M469.0 80.6h1M469.0 83.1h1M469.0 85.6h1M469.0 88.1h1M469.0 90.5h1M469.0 93.0h1M469.0 95.5h1" stroke="#9a9a9a" stroke-width="0.5" opacity="0.9"/>
<text x="470.2" y="57.0" font-size="7.6" font-weight="bold" text-anchor="start" fill="#1a1a1a" stroke="#1a1a1a" stroke-width="0.23">15</text>
<text x="515.9" y="57.0" font-size="7.6" font-weight="bold" text-anchor="end" fill="#1a1a1a" stroke="#1a1a1a" stroke-width="0.23">85</text>
<line x1="464.2" y1="105.2" x2="479.9" y2="105.2" stroke="#111" stroke-width="1.1"/>
<polygon points="484.4,105.2 479.4,102.8 479.4,107.60000000000001" fill="#111"/>
<text x="487.1" y="108.6" font-size="7.6" font-weight="bold" text-anchor="start" fill="#1a1a1a" stroke="#1a1a1a" stroke-width="0.23">CD16</text>
<path d="M360.5 153.0h.01M354.9 143.8h.01M364.4 154.2h.01M359.8 152.7h.01M359.7 151.9h.01M358.1 144.4h.01M361.0 152.0h.01M362.5 152.8h.01M358.0 153.8h.01M359.7 150.3h.01M357.6 150.4h.01M357.9 150.3h.01M358.6 155.5h.01M351.9 141.1h.01M357.3 151.3h.01M356.3 147.3h.01M355.9 150.1h.01M359.6 150.7h.01M354.7 150.6h.01M364.4 148.9h.01M359.2 155.1h.01M356.1 149.9h.01M357.1 152.3h.01M359.4 152.3h.01M360.7 150.8h.01M359.5 147.3h.01M357.8 156.8h.01M359.9 149.6h.01M359.5 155.3h.01M352.8 147.7h.01M356.6 150.3h.01M358.7 149.9h.01M359.4 152.1h.01M354.8 149.7h.01M354.5 152.8h.01M359.9 154.0h.01M355.8 150.0h.01M353.2 152.9h.01M362.9 153.3h.01M361.3 152.6h.01M360.3 154.9h.01M363.5 158.5h.01M358.0 154.6h.01M362.1 153.2h.01M360.0 147.6h.01M362.9 148.9h.01M356.7 149.0h.01M361.0 148.6h.01M360.6 153.7h.01M359.4 150.7h.01M361.1 156.1h.01M357.3 148.3h.01M356.8 148.9h.01M358.1 151.3h.01M356.1 150.4h.01M352.0 145.3h.01M355.4 152.6h.01M362.1 145.8h.01M359.8 156.8h.01M358.0 154.8h.01M360.1 148.7h.01M362.6 149.8h.01M360.3 150.5h.01M358.2 152.3h.01M363.7 146.2h.01M355.0 152.1h.01M362.5 151.2h.01M358.3 153.5h.01M364.7 148.8h.01M353.3 150.9h.01M361.7 147.5h.01M363.0 154.9h.01M361.8 149.0h.01M354.4 154.0h.01M359.9 154.1h.01M354.2 142.1h.01M363.0 155.1h.01M358.0 151.8h.01M360.6 154.3h.01M358.3 150.1h.01M355.5 155.2h.01M359.4 140.6h.01M360.2 149.9h.01M354.4 150.1h.01M354.4 150.3h.01M357.0 153.5h.01M355.4 145.8h.01M356.8 147.3h.01M361.7 151.1h.01M353.0 148.9h.01M358.9 151.7h.01M352.4 151.4h.01M360.1 155.1h.01M362.9 151.4h.01M354.3 150.6h.01M361.3 148.8h.01M363.5 148.6h.01M355.0 154.5h.01M358.6 152.9h.01M357.9 151.9h.01M356.9 158.0h.01M361.4 151.4h.01M360.7 154.5h.01M357.1 152.4h.01M359.7 149.9h.01M356.2 151.1h.01M357.9 150.5h.01M352.0 152.0h.01M361.3 152.0h.01M365.2 154.6h.01M357.7 149.6h.01M360.8 150.6h.01M353.2 152.2h.01M357.9 151.1h.01M361.2 152.4h.01M366.3 149.4h.01M358.6 152.8h.01M357.4 150.1h.01M365.3 147.0h.01M360.2 146.0h.01M360.2 145.5h.01M354.8 155.5h.01M364.5 152.2h.01M359.9 148.2h.01M357.7 147.5h.01M358.7 151.5h.01M359.4 154.4h.01M356.7 144.6h.01M354.8 147.7h.01M357.7 150.4h.01M358.8 156.3h.01M359.1 148.3h.01M357.9 148.9h.01M358.1 153.7h.01M354.9 154.1h.01M365.4 156.8h.01M364.8 152.1h.01M354.2 158.4h.01M358.8 152.6h.01M357.7 148.7h.01M361.2 147.2h.01M354.1 153.6h.01M357.7 149.0h.01M360.8 156.5h.01M358.0 151.4h.01M361.0 154.9h.01M362.7 154.0h.01M356.6 153.5h.01M359.0 146.2h.01M363.4 153.7h.01M363.9 151.6h.01M361.6 151.6h.01M359.6 154.8h.01M359.2 153.8h.01M358.9 155.8h.01M361.3 146.4h.01M365.0 153.2h.01M357.2 149.8h.01M366.1 152.1h.01M360.8 153.7h.01M356.9 157.5h.01M366.5 149.3h.01M363.1 146.5h.01M357.8 152.0h.01M359.2 153.7h.01M360.4 153.0h.01M358.5 152.8h.01M357.0 158.2h.01M359.2 155.8h.01M359.4 151.3h.01M358.4 147.6h.01M366.4 153.2h.01M359.5 150.3h.01M363.6 150.7h.01M357.4 150.0h.01M364.5 152.8h.01M358.5 149.7h.01M363.6 152.7h.01M357.8 154.7h.01M362.1 148.6h.01M363.1 155.4h.01M358.1 147.5h.01M362.9 150.7h.01M358.3 150.9h.01M358.0 154.5h.01M355.1 153.5h.01M363.1 155.2h.01M361.6 152.7h.01M358.3 151.4h.01M355.9 157.2h.01M358.6 148.5h.01M362.0 156.7h.01M360.0 150.8h.01M355.0 153.9h.01M358.2 149.7h.01M361.2 147.6h.01M361.6 143.9h.01M356.8 147.2h.01M358.2 154.4h.01M354.4 156.2h.01M356.6 150.2h.01M362.6 149.4h.01M364.2 151.1h.01M358.7 148.7h.01M363.1 151.6h.01M357.3 148.7h.01M356.8 151.5h.01M356.5 154.4h.01M358.9 149.8h.01M360.7 156.4h.01M362.9 152.2h.01M362.0 146.8h.01M356.4 155.1h.01M358.7 152.0h.01M361.3 153.0h.01M360.6 150.2h.01M358.0 156.0h.01M357.3 147.2h.01M357.8 154.7h.01M365.4 152.3h.01M356.9 153.8h.01M360.1 155.6h.01M360.9 154.2h.01M360.8 153.2h.01M355.8 151.3h.01M364.7 156.1h.01M362.5 153.1h.01M358.7 152.9h.01M357.9 155.3h.01M358.0 149.4h.01M353.4 156.8h.01M356.4 149.0h.01M360.5 157.6h.01M361.4 150.7h.01M361.1 149.1h.01M358.2 151.9h.01M359.1 154.3h.01M361.0 157.9h.01M362.0 150.9h.01M360.0 149.1h.01M356.9 150.7h.01M362.6 149.6h.01M353.6 148.5h.01M354.9 151.2h.01M358.0 148.1h.01M356.3 150.5h.01M360.5 153.8h.01M363.7 151.0h.01M361.3 152.1h.01M355.3 149.8h.01M366.8 151.3h.01M364.9 154.5h.01M364.9 151.2h.01M362.4 150.8h.01M355.2 148.1h.01M360.7 146.6h.01M360.4 149.0h.01M360.4 147.4h.01M362.1 151.1h.01M353.8 147.2h.01M359.3 146.6h.01M360.3 153.4h.01M356.8 156.3h.01M364.2 152.8h.01M360.7 153.3h.01M358.2 156.0h.01M357.3 143.7h.01M359.2 153.2h.01M362.0 148.3h.01M364.0 149.2h.01M361.3 154.2h.01M359.8 155.4h.01M357.4 158.4h.01M360.9 150.5h.01M353.5 156.4h.01M364.5 150.0h.01M355.7 155.4h.01M359.3 148.7h.01M357.5 152.0h.01M362.6 156.8h.01M357.0 156.7h.01M353.9 154.1h.01M358.7 153.2h.01M357.6 149.5h.01M360.1 155.4h.01M357.7 148.4h.01M354.5 153.5h.01M361.1 153.9h.01M352.2 146.9h.01M357.0 150.4h.01M365.3 150.6h.01M359.6 155.0h.01M365.0 153.0h.01M360.3 158.0h.01M357.7 146.0h.01M356.5 150.8h.01M363.7 152.8h.01M363.3 152.1h.01M359.3 150.0h.01M354.9 153.4h.01M360.4 153.7h.01M357.3 150.5h.01M360.5 153.8h.01M366.1 149.0h.01M362.6 154.7h.01M358.2 152.3h.01M359.0 156.7h.01M358.3 154.9h.01M360.9 151.2h.01M361.8 154.6h.01M357.8 154.5h.01M358.1 152.3h.01M354.1 156.6h.01M357.8 152.3h.01M359.0 154.2h.01M357.1 154.2h.01M356.3 147.0h.01M360.9 152.3h.01M362.2 145.6h.01M359.5 149.7h.01M358.5 150.5h.01M357.8 149.7h.01M362.7 146.3h.01M353.3 152.9h.01M366.2 149.3h.01M356.0 148.0h.01M355.6 155.8h.01M361.5 154.7h.01M360.4 152.6h.01M357.1 148.7h.01M361.3 159.8h.01M357.9 155.9h.01M356.7 151.9h.01M365.1 151.6h.01M361.4 150.0h.01M365.7 147.8h.01M361.1 151.0h.01M359.8 153.0h.01M363.7 154.6h.01M362.8 153.0h.01M355.4 156.1h.01M364.5 153.4h.01M361.9 151.1h.01M354.1 155.0h.01M356.6 158.0h.01M361.6 151.7h.01M357.0 152.2h.01M355.6 150.6h.01M364.7 150.9h.01M365.6 151.5h.01M360.6 148.8h.01M358.1 150.4h.01M354.3 158.1h.01M361.2 151.5h.01M355.3 151.9h.01M355.5 148.7h.01M358.5 158.8h.01M353.1 153.6h.01M357.2 142.4h.01M354.2 151.4h.01M359.4 149.4h.01M365.3 153.5h.01M356.9 146.5h.01M359.7 149.6h.01M362.7 148.4h.01M363.3 150.3h.01M359.8 150.9h.01M361.3 155.5h.01M357.2 148.9h.01M365.7 154.9h.01M365.8 154.9h.01M359.6 157.1h.01M356.8 150.4h.01M357.7 154.0h.01M356.2 151.2h.01M356.2 151.0h.01M363.0 155.4h.01M358.4 160.1h.01M356.7 153.3h.01M357.5 144.6h.01M355.0 155.8h.01M358.7 152.7h.01M363.5 151.9h.01M356.9 149.8h.01M355.8 153.6h.01M357.5 153.5h.01M353.9 150.4h.01M366.3 153.0h.01M358.8 155.7h.01M360.1 156.8h.01M355.1 154.3h.01M355.4 154.0h.01M356.1 153.2h.01M360.7 149.5h.01M360.0 148.3h.01M362.5 154.8h.01M358.5 154.0h.01M367.4 151.3h.01M352.6 152.9h.01M357.5 149.3h.01M362.3 155.1h.01M361.2 157.1h.01M356.9 150.5h.01M360.6 143.0h.01M358.4 152.0h.01M355.7 152.5h.01" stroke="#8c8c8c" stroke-width="0.6" stroke-linecap="round" fill="none" opacity="1.0" filter="url(#bd)"/>
<path d="M362.1 166.9h.01M360.5 168.3h.01M358.1 169.2h.01M363.6 170.4h.01M360.9 169.3h.01M358.5 169.1h.01M356.9 164.1h.01M363.5 174.4h.01M363.8 163.2h.01M360.4 165.2h.01M358.0 167.2h.01M356.5 166.4h.01M357.0 171.2h.01M363.9 171.6h.01M358.5 168.4h.01M357.8 168.7h.01M356.5 168.3h.01M361.4 168.1h.01M355.9 168.4h.01M358.9 168.6h.01M357.7 171.0h.01M358.4 165.7h.01M360.5 166.6h.01M361.1 171.3h.01M360.2 169.7h.01M354.1 168.2h.01M359.0 170.8h.01M354.8 168.3h.01M353.5 169.3h.01M358.8 169.2h.01M364.1 171.1h.01M357.9 167.0h.01M357.1 171.2h.01M361.6 167.3h.01M358.2 167.5h.01M360.8 169.4h.01M356.2 166.1h.01M362.9 164.5h.01M365.3 167.2h.01M361.4 170.5h.01M361.4 172.3h.01M357.0 168.8h.01M361.8 170.5h.01M356.0 166.5h.01M353.8 169.6h.01M356.8 164.0h.01M356.7 169.8h.01M359.2 168.1h.01M359.1 170.8h.01M354.6 166.3h.01M361.8 171.1h.01M353.9 166.6h.01M363.4 171.1h.01M358.1 171.9h.01M363.1 173.1h.01M353.9 164.8h.01M356.9 168.7h.01M357.4 169.6h.01M363.5 172.2h.01M361.9 168.8h.01M364.1 170.2h.01M359.4 168.8h.01M352.4 175.4h.01M358.5 171.6h.01M366.1 168.2h.01M354.7 171.9h.01M359.4 165.9h.01M361.8 168.8h.01M355.2 170.0h.01M355.1 171.8h.01M365.9 169.8h.01M359.3 168.6h.01M361.4 168.9h.01M362.0 173.2h.01M361.4 165.9h.01M360.8 168.0h.01M359.6 171.8h.01M356.3 169.4h.01M363.5 166.3h.01M357.9 171.0h.01M357.8 171.9h.01M355.2 164.2h.01M359.8 168.4h.01M359.6 171.7h.01M362.1 167.7h.01M357.3 162.9h.01M355.3 169.6h.01M359.3 164.3h.01M361.2 168.7h.01M362.3 167.7h.01M361.8 165.4h.01M352.3 166.4h.01M360.9 170.1h.01M352.2 169.3h.01M360.8 173.9h.01M361.2 170.4h.01M353.3 169.9h.01M352.0 167.9h.01M357.3 165.9h.01M355.2 168.4h.01M360.5 166.8h.01M359.6 171.0h.01M358.5 174.6h.01M357.5 166.6h.01M352.2 172.1h.01M360.8 168.2h.01M359.6 168.4h.01M361.5 168.8h.01M359.3 168.6h.01M355.6 162.1h.01M360.4 165.0h.01M359.9 170.8h.01M364.9 166.5h.01M359.1 171.7h.01M356.3 167.0h.01M360.1 175.1h.01M362.2 171.7h.01M355.3 170.8h.01M362.4 165.0h.01M358.6 168.2h.01M360.7 163.5h.01M360.9 168.8h.01M357.7 162.4h.01M360.7 170.1h.01M361.1 163.7h.01M359.2 172.9h.01M353.3 170.8h.01M356.1 170.5h.01M358.9 163.9h.01M355.0 172.7h.01M358.2 172.6h.01M359.7 171.5h.01M357.2 169.5h.01M357.3 171.6h.01M356.6 172.2h.01M363.8 165.1h.01M358.0 170.5h.01M364.5 172.3h.01M358.8 163.6h.01M361.4 167.0h.01M359.2 170.0h.01M353.8 172.0h.01M361.6 170.6h.01M360.6 169.9h.01M353.8 167.3h.01M361.3 167.8h.01M358.6 169.9h.01M358.8 169.6h.01M360.2 168.8h.01M354.8 168.0h.01M361.8 166.8h.01M360.1 169.7h.01M358.5 166.5h.01M356.4 171.6h.01M356.0 169.9h.01M358.9 169.4h.01M365.2 162.8h.01M361.8 168.4h.01M357.6 166.8h.01M358.7 168.9h.01M355.5 173.8h.01M356.1 168.4h.01M354.3 169.3h.01M359.7 172.1h.01M361.8 167.3h.01M363.9 168.5h.01M363.8 174.0h.01M357.2 165.6h.01M360.4 173.1h.01M359.9 172.1h.01M360.5 171.5h.01M363.0 167.9h.01M353.8 168.4h.01M355.9 165.2h.01M358.0 171.0h.01M352.4 164.2h.01M361.2 166.1h.01M357.2 172.9h.01M362.3 169.9h.01M360.4 170.0h.01M353.9 169.4h.01M360.1 168.5h.01M361.2 171.5h.01M358.7 168.1h.01M354.6 172.2h.01M356.6 169.8h.01M363.7 171.1h.01M354.3 168.5h.01M356.2 163.8h.01M355.9 170.6h.01M359.7 168.2h.01M359.1 165.3h.01M356.0 168.3h.01M361.2 167.8h.01M358.0 169.8h.01M363.5 165.0h.01M360.3 169.4h.01M358.3 169.5h.01M351.9 168.9h.01M357.7 165.1h.01M361.4 168.4h.01M357.4 171.1h.01M355.5 166.6h.01M361.3 171.4h.01M365.3 167.4h.01M353.7 164.3h.01M354.5 169.1h.01M357.7 166.8h.01M355.2 166.7h.01M357.3 172.4h.01M360.6 172.9h.01M361.3 171.1h.01M362.5 170.2h.01M363.7 172.2h.01M364.6 169.5h.01M355.9 176.4h.01M357.6 170.4h.01M357.3 166.7h.01M360.0 165.4h.01M358.0 173.1h.01M358.9 171.3h.01M360.7 170.0h.01M358.9 170.6h.01M355.3 170.6h.01M354.9 166.5h.01M356.6 164.8h.01M351.9 170.0h.01M360.2 170.8h.01M365.9 169.3h.01M361.0 166.6h.01M360.9 165.4h.01M365.1 165.9h.01M357.2 171.1h.01M355.3 169.4h.01M361.8 169.3h.01M361.7 167.3h.01M360.5 162.2h.01M363.6 166.8h.01M355.6 168.9h.01M364.2 166.7h.01M358.5 167.7h.01M355.4 164.9h.01M360.5 170.9h.01M356.0 169.5h.01M360.0 169.9h.01M358.0 168.9h.01M359.4 165.6h.01M358.0 171.2h.01M356.6 172.8h.01M357.7 165.5h.01M357.5 164.7h.01M360.6 164.0h.01M358.6 168.1h.01M357.5 170.1h.01M359.5 167.1h.01M361.3 167.4h.01M361.5 172.8h.01M359.8 171.6h.01M354.0 170.5h.01M353.5 168.3h.01M355.9 166.5h.01M355.4 168.9h.01M360.7 165.3h.01M356.4 163.2h.01M356.1 162.5h.01M353.5 170.2h.01M361.5 166.4h.01M359.7 166.5h.01M362.1 174.1h.01M356.4 167.4h.01M363.7 173.5h.01M358.5 170.7h.01M353.2 167.9h.01M357.5 168.4h.01M359.5 164.1h.01M355.0 175.2h.01M352.7 169.0h.01M361.0 170.3h.01M358.7 163.9h.01M356.9 164.1h.01M365.1 169.9h.01M360.9 169.4h.01M357.2 172.4h.01M361.5 170.7h.01M360.5 171.0h.01M357.6 170.1h.01M358.8 168.0h.01M360.7 175.2h.01M357.0 172.4h.01M355.1 168.2h.01M361.9 168.6h.01M359.7 165.2h.01M354.7 173.8h.01M359.0 168.5h.01M353.9 165.7h.01M355.0 168.7h.01M358.1 167.0h.01M356.3 169.1h.01M362.4 164.6h.01M353.7 172.2h.01M353.7 167.6h.01M358.9 174.3h.01M358.2 172.0h.01M359.0 166.4h.01M359.1 162.6h.01M361.3 173.3h.01M357.8 171.3h.01M355.0 173.3h.01M356.3 166.4h.01M355.9 163.5h.01M360.8 174.8h.01M353.7 168.2h.01M360.0 167.1h.01M353.3 169.8h.01M361.9 169.1h.01M354.9 167.9h.01M352.0 168.6h.01M362.6 172.2h.01M358.2 170.1h.01M356.8 169.2h.01M356.5 169.3h.01M356.8 169.4h.01M360.8 168.7h.01M354.2 170.3h.01M357.7 167.3h.01M360.4 166.3h.01M361.6 170.5h.01M356.2 166.7h.01M358.1 166.1h.01M359.0 167.8h.01M354.8 170.7h.01M356.9 170.2h.01M357.0 168.0h.01M360.3 171.7h.01M361.8 168.7h.01M363.5 167.8h.01M353.9 163.2h.01M353.7 166.2h.01M352.5 169.8h.01M358.6 168.7h.01M359.3 168.5h.01M357.7 167.8h.01M358.6 165.4h.01M362.8 173.5h.01M358.6 175.7h.01M355.3 171.5h.01M353.1 170.6h.01M356.0 171.8h.01" stroke="#8c8c8c" stroke-width="0.6" stroke-linecap="round" fill="none" opacity="1.0" filter="url(#bd)"/>
<g filter="url(#b2)"><ellipse cx="381.4" cy="170.6" rx="4.2" ry="6.2" fill="#161616"/></g>
<path d="M381.7 173.3h.01M382.8 172.0h.01M380.8 175.2h.01M382.2 171.9h.01M384.6 169.6h.01M385.3 173.7h.01M381.6 166.0h.01M384.2 169.5h.01M381.6 170.8h.01M383.6 172.3h.01M377.3 168.4h.01M382.2 170.9h.01M383.2 172.1h.01M385.1 168.2h.01M384.4 171.6h.01M382.1 172.5h.01M380.6 172.6h.01M380.9 172.6h.01M379.7 174.0h.01M378.0 168.4h.01M381.3 171.1h.01M379.6 169.2h.01M382.0 173.6h.01M384.3 169.0h.01M381.3 169.5h.01M378.0 169.1h.01M384.0 166.3h.01M387.9 173.4h.01M385.3 171.0h.01M376.2 171.7h.01M385.0 168.7h.01M384.3 172.7h.01M383.2 172.7h.01M382.7 172.4h.01M384.1 171.7h.01M382.8 171.7h.01M381.7 167.8h.01M377.4 167.3h.01M378.6 165.9h.01M383.0 169.4h.01M383.2 169.0h.01M382.3 169.8h.01M382.1 176.7h.01M385.0 174.3h.01M382.1 175.8h.01M383.3 173.1h.01M378.8 168.6h.01M381.8 169.8h.01M380.2 164.3h.01M379.7 170.1h.01M382.1 167.2h.01M381.1 175.9h.01M381.8 164.5h.01M381.0 170.4h.01M384.3 171.0h.01M384.5 171.4h.01M384.1 174.5h.01M384.9 171.0h.01M378.7 171.0h.01M382.5 168.3h.01M383.3 169.9h.01M383.2 171.0h.01M379.3 173.6h.01M386.0 173.2h.01M382.1 165.2h.01M382.2 170.3h.01M379.6 164.6h.01M382.4 173.4h.01M383.0 177.3h.01M377.1 171.5h.01M381.4 174.7h.01M381.3 167.5h.01M381.3 171.7h.01M379.8 168.0h.01M382.0 173.1h.01M380.9 171.9h.01M380.3 169.4h.01M381.9 173.4h.01M385.0 170.0h.01M382.4 176.4h.01M383.3 169.3h.01M382.3 166.1h.01M376.7 168.1h.01M379.8 166.3h.01M383.7 169.0h.01M381.6 170.6h.01M381.0 166.8h.01M385.8 164.4h.01M381.4 172.5h.01M381.0 170.1h.01M382.1 171.1h.01M380.7 173.7h.01M382.6 175.0h.01M381.6 164.4h.01M377.7 168.9h.01M382.5 165.4h.01M380.2 174.2h.01M382.2 168.3h.01M381.2 170.8h.01M380.5 169.5h.01M380.0 171.1h.01M385.0 174.9h.01M378.6 177.5h.01M381.2 166.2h.01M378.1 170.9h.01M382.0 168.5h.01M379.6 169.8h.01M382.0 172.5h.01M382.7 163.2h.01M380.1 171.2h.01M382.3 172.9h.01M378.1 175.2h.01M378.8 169.8h.01M380.4 169.0h.01M379.7 172.9h.01M383.2 171.5h.01M378.6 168.5h.01M381.3 171.6h.01M380.2 169.6h.01M387.3 170.6h.01M380.8 162.9h.01M379.8 175.4h.01M383.3 166.8h.01M383.2 170.9h.01M379.7 172.8h.01M380.1 169.5h.01M381.5 171.1h.01M380.5 171.3h.01M381.4 171.0h.01M382.3 168.5h.01M378.4 170.2h.01M384.2 171.4h.01M381.9 168.2h.01M378.9 166.6h.01M379.4 169.3h.01M378.0 170.1h.01M377.9 172.4h.01M381.4 165.1h.01M380.2 171.1h.01M382.3 172.8h.01M380.7 170.0h.01M380.9 172.1h.01M379.9 169.9h.01M381.8 169.4h.01M379.0 174.6h.01M382.6 167.6h.01M385.8 168.1h.01M379.5 169.3h.01M382.6 175.0h.01M384.5 172.1h.01M381.6 172.4h.01M379.7 168.3h.01M382.6 171.0h.01M382.0 167.3h.01M382.0 166.0h.01M383.5 170.5h.01M380.0 169.0h.01M379.9 174.6h.01M375.0 173.9h.01M381.5 171.2h.01M379.3 166.4h.01M382.0 169.1h.01M382.6 173.6h.01M381.2 172.1h.01M381.8 171.1h.01M380.3 171.2h.01M382.4 170.7h.01M380.4 166.0h.01M379.1 175.2h.01M383.7 171.3h.01M382.1 170.0h.01M383.0 173.3h.01M380.9 171.4h.01M383.6 165.6h.01M379.4 168.7h.01M378.9 169.1h.01M379.6 169.2h.01M382.5 166.8h.01M381.7 174.6h.01M381.9 166.7h.01M380.1 174.0h.01M380.9 168.5h.01M383.2 168.2h.01M379.0 172.3h.01M381.5 168.4h.01M382.5 173.8h.01M383.8 170.7h.01M382.5 171.9h.01M378.2 175.5h.01M380.0 168.7h.01M379.6 167.5h.01M383.9 170.4h.01M380.2 164.9h.01M381.8 170.3h.01M379.2 170.1h.01M377.4 172.4h.01M378.7 171.9h.01M381.7 164.0h.01M379.0 168.4h.01M383.2 172.2h.01M382.8 175.5h.01M380.8 168.9h.01M377.3 167.3h.01M382.7 167.9h.01M379.5 173.3h.01M376.0 174.7h.01M384.3 165.0h.01M382.5 170.4h.01M383.5 169.4h.01M381.2 174.7h.01M380.1 171.7h.01M382.8 170.1h.01M383.4 172.0h.01M383.3 165.2h.01M379.2 171.3h.01M384.0 174.8h.01M381.5 168.2h.01M379.0 164.5h.01M380.3 172.2h.01M381.3 165.9h.01M381.2 170.6h.01M379.8 174.9h.01M382.4 173.8h.01M381.7 167.5h.01M383.8 173.8h.01M380.2 166.4h.01M383.3 168.7h.01M378.9 170.2h.01M382.7 168.1h.01M381.5 173.5h.01M383.1 165.7h.01M383.0 175.8h.01M383.5 170.2h.01M382.3 165.6h.01M380.2 168.8h.01M386.0 170.4h.01M379.3 175.6h.01M384.2 165.4h.01M381.0 165.3h.01M383.7 163.5h.01M385.5 167.2h.01M379.1 176.9h.01M382.6 171.5h.01M383.3 167.4h.01M383.4 169.6h.01M382.6 171.1h.01M384.5 166.5h.01M378.4 172.4h.01M386.7 172.1h.01M381.1 172.5h.01M378.8 170.7h.01M377.7 170.8h.01M383.0 175.6h.01M380.3 173.3h.01M384.4 167.2h.01M380.8 164.8h.01M379.5 171.8h.01M377.0 169.5h.01M383.0 174.8h.01M375.9 171.6h.01M380.1 163.4h.01M379.2 172.2h.01M381.4 172.6h.01M380.8 172.4h.01M379.3 167.4h.01M381.1 165.1h.01M384.2 169.7h.01M379.3 167.8h.01M379.3 170.8h.01M380.6 173.1h.01M378.9 170.2h.01M378.1 169.0h.01M384.4 170.1h.01M383.4 170.2h.01M379.0 167.7h.01M379.0 171.5h.01M385.1 173.0h.01M379.3 170.8h.01M379.4 177.6h.01M379.9 174.0h.01M378.5 172.8h.01M378.7 169.0h.01M381.8 170.9h.01M381.3 170.2h.01M379.6 170.1h.01M381.3 167.6h.01M382.7 171.0h.01M379.8 174.4h.01M380.2 164.6h.01M384.2 169.3h.01M384.7 171.8h.01M379.5 173.9h.01M382.5 173.3h.01M381.5 175.2h.01M383.5 169.4h.01M378.1 170.3h.01M381.6 167.4h.01M381.0 175.0h.01M380.4 173.9h.01M379.4 167.4h.01M383.5 169.9h.01M381.9 173.6h.01M385.0 166.6h.01M382.7 171.1h.01M381.8 175.9h.01M380.9 168.6h.01M382.5 164.2h.01M382.2 167.7h.01M382.2 168.1h.01M382.6 169.7h.01M379.9 172.1h.01M383.1 165.5h.01M378.6 169.6h.01M380.6 174.5h.01M384.9 171.9h.01M383.8 169.4h.01M378.4 171.4h.01M377.6 175.4h.01M382.0 174.0h.01M380.0 165.5h.01M381.0 171.9h.01M381.0 168.9h.01M381.6 169.8h.01M384.5 166.4h.01M376.6 170.1h.01M382.0 165.7h.01M381.3 171.8h.01M382.2 171.4h.01M379.8 166.0h.01M383.5 169.3h.01M378.4 175.2h.01M387.1 170.9h.01M377.9 173.4h.01M382.2 174.3h.01M381.5 165.3h.01M381.1 169.1h.01M382.1 169.9h.01M382.7 166.7h.01M380.2 168.8h.01M382.3 165.2h.01M381.4 177.8h.01M377.5 173.6h.01M381.6 173.5h.01M381.5 171.2h.01M382.2 171.8h.01M378.8 170.0h.01M385.4 174.8h.01M379.6 167.5h.01M381.0 173.7h.01M383.4 168.6h.01M376.2 170.3h.01M377.8 174.1h.01M384.7 172.5h.01M382.7 172.2h.01M385.5 173.8h.01M384.6 166.9h.01M380.3 170.4h.01M376.5 169.5h.01M381.4 170.2h.01M387.0 169.8h.01M381.0 170.0h.01M380.7 166.0h.01M383.9 170.5h.01M382.2 170.5h.01M379.7 165.5h.01M380.8 172.1h.01M381.2 172.7h.01M379.7 169.5h.01M381.7 170.1h.01M381.8 174.8h.01M380.5 170.8h.01M380.0 172.1h.01M381.9 168.1h.01M379.2 166.7h.01M380.8 170.9h.01M380.3 170.1h.01M381.7 177.7h.01M384.0 177.6h.01M381.7 171.1h.01M385.7 171.6h.01M382.9 168.9h.01M380.2 172.8h.01M380.1 168.4h.01M378.1 171.3h.01M381.2 172.1h.01M379.5 166.6h.01M383.8 170.5h.01M383.2 166.9h.01M378.6 162.6h.01M382.1 173.5h.01M384.3 175.9h.01M377.4 167.0h.01M380.2 168.0h.01M380.9 167.9h.01M378.2 170.3h.01M381.7 168.0h.01M381.5 166.4h.01M380.7 169.4h.01M380.4 170.2h.01M378.6 166.3h.01M379.6 172.7h.01M379.3 167.5h.01M385.8 169.6h.01M380.6 167.7h.01M384.7 172.0h.01M382.0 175.3h.01M378.8 165.2h.01M383.9 171.7h.01M380.3 172.9h.01M381.2 176.4h.01M378.6 171.5h.01M383.6 173.1h.01M380.6 169.2h.01M380.4 172.5h.01M380.5 170.0h.01" stroke="#2a2a2a" stroke-width="0.64" stroke-linecap="round" fill="none" opacity="1.0" filter="url(#bd)"/>
<path d="M382.0 156.7h.01M380.9 156.7h.01M380.6 151.6h.01M379.3 157.9h.01M379.7 155.5h.01M380.7 162.5h.01M379.6 154.7h.01M378.2 158.1h.01M380.5 155.0h.01M380.0 159.4h.01M382.0 157.9h.01M382.2 159.4h.01" stroke="#c4c4c4" stroke-width="0.6" stroke-linecap="round" fill="none" opacity="1.0" filter="url(#bd)"/>
<rect x="351.3" y="127.8" width="49.50" height="51.00" fill="none" stroke="#a8a8a8" stroke-width="0.7"/>
<line x1="368.3" y1="127.8" x2="368.3" y2="178.8" stroke="#a8a8a8" stroke-width="0.595"/>
<line x1="351.3" y1="161.4" x2="400.8" y2="161.4" stroke="#a8a8a8" stroke-width="0.595"/>
<path d="M353.8 178.60000000000002v-1M356.2 178.60000000000002v-1M358.7 178.60000000000002v-1M361.2 178.60000000000002v-1M363.7 178.60000000000002v-1M366.2 178.60000000000002v-1M368.6 178.60000000000002v-1M371.1 178.60000000000002v-1M373.6 178.60000000000002v-1M376.1 178.60000000000002v-1M378.5 178.60000000000002v-1M381.0 178.60000000000002v-1M383.5 178.60000000000002v-1M385.9 178.60000000000002v-1M388.4 178.60000000000002v-1M390.9 178.60000000000002v-1M393.4 178.60000000000002v-1M395.9 178.60000000000002v-1M398.3 178.60000000000002v-1M351.5 130.3h1M351.5 132.9h1M351.5 135.4h1M351.5 138.0h1M351.5 140.6h1M351.5 143.1h1M351.5 145.7h1M351.5 148.2h1M351.5 150.8h1M351.5 153.3h1M351.5 155.8h1M351.5 158.4h1M351.5 161.0h1M351.5 163.5h1M351.5 166.1h1M351.5 168.6h1M351.5 171.2h1M351.5 173.7h1M351.5 176.2h1" stroke="#9a9a9a" stroke-width="0.5" opacity="0.9"/>
<text x="345.81" y="149.50" font-size="7.8" font-weight="bold" text-anchor="middle" fill="#1a1a1a" stroke="#1a1a1a" stroke-width="0.23" transform="rotate(-90 345.81 149.50)">NKp46</text>
<text x="352.8" y="137.0" font-size="7.6" font-weight="bold" text-anchor="start" fill="#1a1a1a" stroke="#1a1a1a" stroke-width="0.23">15.6</text>
<text x="396.6" y="137.0" font-size="7.6" font-weight="bold" text-anchor="end" fill="#1a1a1a" stroke="#1a1a1a" stroke-width="0.23">0.3</text>
<text x="397.9" y="176.2" font-size="7.6" font-weight="bold" text-anchor="end" fill="#1a1a1a" stroke="#1a1a1a" stroke-width="0.23">72</text>
<line x1="343.8" y1="186.6" x2="343.8" y2="171.6" stroke="#111" stroke-width="1.15"/>
<polygon points="343.8,167.5 341.40000000000003,172.1 346.2,172.1" fill="#111"/>
<line x1="343.25" y1="186.6" x2="358.7" y2="186.6" stroke="#111" stroke-width="1.15"/>
<polygon points="362.8,186.6 358.2,184.2 358.2,189.0" fill="#111"/>
<text x="366.8" y="190.1" font-size="7.6" font-weight="bold" text-anchor="start" fill="#1a1a1a" stroke="#1a1a1a" stroke-width="0.23">CD3</text>
<path d="M438.5 157.5h.01M440.5 157.5h.01M440.9 160.1h.01M435.9 156.7h.01M436.5 160.5h.01M438.3 155.3h.01M439.9 155.9h.01M445.6 155.9h.01M440.8 158.1h.01M444.9 154.1h.01M441.0 153.4h.01M441.6 158.7h.01M438.3 155.5h.01M443.9 156.9h.01M442.6 155.1h.01M439.0 155.3h.01M445.1 153.1h.01M438.3 159.0h.01M439.8 153.9h.01M440.8 155.6h.01M439.6 157.0h.01M442.6 153.1h.01M440.7 158.9h.01M435.6 155.8h.01M436.2 157.3h.01M437.2 155.4h.01M438.6 156.9h.01M435.7 153.3h.01M440.6 158.6h.01M438.3 156.8h.01M440.9 156.2h.01M439.9 154.9h.01M439.2 158.3h.01M441.5 158.5h.01M437.6 156.2h.01M437.9 153.4h.01M442.9 155.5h.01M440.8 153.2h.01M439.2 155.8h.01M438.7 158.0h.01M441.5 156.3h.01M440.7 155.1h.01M437.7 155.5h.01M436.7 155.7h.01M439.6 158.2h.01M438.6 160.7h.01M438.3 156.3h.01M439.9 154.8h.01M439.8 152.5h.01M443.6 154.9h.01M439.9 152.5h.01M441.8 153.5h.01M444.4 154.0h.01M437.6 157.3h.01M444.2 152.1h.01M434.5 159.2h.01M441.4 153.0h.01M438.6 157.4h.01M438.7 158.9h.01M437.7 156.3h.01M443.8 158.9h.01M440.8 157.1h.01M438.9 155.9h.01M438.1 156.8h.01M442.7 154.0h.01M436.2 156.1h.01M446.5 156.4h.01M440.4 155.9h.01M434.5 154.6h.01M444.9 151.9h.01M445.8 153.6h.01M446.6 161.1h.01M444.9 155.7h.01M441.9 154.9h.01M438.5 156.4h.01M429.7 157.1h.01M439.0 153.9h.01M439.1 157.3h.01M437.5 156.7h.01M435.6 156.2h.01M436.2 157.5h.01M436.6 157.2h.01M433.5 156.3h.01M443.6 154.4h.01M440.2 154.3h.01M441.5 157.5h.01M443.7 158.6h.01M444.2 154.6h.01M440.4 157.0h.01M440.6 153.4h.01M446.6 161.0h.01M440.2 150.9h.01M445.9 155.6h.01M447.4 153.9h.01M441.7 157.6h.01M435.3 155.3h.01M441.6 157.3h.01M441.2 150.8h.01M432.2 156.7h.01M445.2 153.0h.01M441.3 157.8h.01M436.8 152.9h.01M440.8 155.1h.01M439.7 155.6h.01M439.6 156.6h.01M438.2 155.9h.01M438.1 154.3h.01M441.1 154.4h.01M441.7 155.9h.01M443.5 157.2h.01M433.4 155.9h.01M442.1 156.2h.01M440.1 158.1h.01M442.2 153.3h.01M440.3 158.0h.01M440.5 153.5h.01M442.5 157.2h.01M443.7 156.3h.01M440.3 157.7h.01M436.4 159.4h.01M441.3 156.4h.01M442.4 157.6h.01M432.8 157.8h.01M439.6 154.4h.01M442.9 157.9h.01M441.2 154.8h.01M440.3 154.1h.01M448.2 154.7h.01M442.8 159.2h.01M437.2 154.9h.01M432.7 155.5h.01M435.6 156.3h.01M439.2 156.0h.01M440.1 155.1h.01M440.3 155.9h.01M437.6 155.4h.01M438.1 153.4h.01M439.9 152.3h.01M441.7 155.9h.01M440.5 158.3h.01M443.1 155.1h.01M441.1 158.4h.01M439.4 156.7h.01M441.3 153.9h.01M440.9 155.2h.01M439.1 156.9h.01M442.1 154.2h.01M439.1 155.6h.01M436.9 156.7h.01M439.3 154.6h.01M443.0 155.8h.01M436.2 155.8h.01M439.4 156.6h.01M447.3 157.1h.01M444.7 155.6h.01M441.5 157.0h.01M439.6 156.5h.01M438.5 157.4h.01M437.0 159.4h.01M427.8 153.2h.01M439.5 156.7h.01M440.4 152.8h.01M441.3 154.2h.01M440.6 155.2h.01M439.1 153.0h.01M435.7 154.9h.01M436.5 156.5h.01M435.4 156.4h.01M441.8 154.5h.01M436.8 155.3h.01M442.5 158.7h.01M447.0 156.2h.01M442.0 156.4h.01M439.9 153.9h.01M438.8 158.2h.01M444.4 154.8h.01M434.7 159.7h.01M440.1 156.9h.01M439.4 152.4h.01M441.0 154.1h.01M439.0 154.8h.01M439.1 160.7h.01M444.9 152.1h.01M434.9 155.0h.01M437.8 157.5h.01M445.0 154.5h.01M441.8 155.6h.01M433.5 158.3h.01M445.6 154.4h.01M442.0 155.0h.01M439.6 155.1h.01M439.5 156.1h.01M438.0 156.5h.01M435.7 157.6h.01M436.8 152.3h.01M442.7 155.3h.01M438.2 157.8h.01M439.8 159.9h.01M441.3 153.2h.01M438.3 154.7h.01" stroke="#999" stroke-width="0.6" stroke-linecap="round" fill="none" opacity="1.0" filter="url(#bd)"/>
<path d="M434.4 159.5h.01M460.3 157.0h.01M440.8 155.7h.01M438.3 148.1h.01M448.9 158.9h.01M432.4 154.9h.01M430.7 154.5h.01M429.4 152.0h.01M447.3 147.9h.01M445.8 150.4h.01M434.7 149.0h.01M442.5 151.1h.01M458.4 149.7h.01M439.0 156.2h.01M428.5 153.0h.01M427.7 157.0h.01M439.4 157.1h.01M424.5 153.1h.01M435.9 153.3h.01M439.6 157.4h.01M438.0 152.1h.01M436.5 152.5h.01M431.2 160.3h.01M442.7 159.1h.01M435.1 154.5h.01M426.0 156.3h.01M443.2 155.8h.01M426.8 155.8h.01M444.8 152.4h.01M443.0 152.5h.01M436.8 152.9h.01M424.1 153.4h.01M438.4 153.5h.01M436.8 152.9h.01M444.5 153.2h.01M440.3 152.8h.01M448.1 153.1h.01M440.6 160.4h.01M440.6 149.7h.01M431.1 156.0h.01M425.5 151.4h.01M435.9 150.1h.01M446.3 154.8h.01M434.2 158.2h.01M431.0 151.7h.01M444.7 153.8h.01M434.9 157.6h.01M435.7 156.5h.01M438.8 157.6h.01M441.6 152.7h.01M449.9 152.2h.01M451.9 149.4h.01M437.4 148.1h.01M441.4 157.9h.01M433.5 156.2h.01M435.0 158.8h.01M439.8 155.2h.01M446.4 149.2h.01M442.9 154.3h.01M448.1 153.5h.01M442.1 153.8h.01M428.4 153.9h.01M435.4 150.9h.01M436.5 153.2h.01M452.6 152.2h.01M438.0 154.7h.01M442.9 149.3h.01M421.9 160.5h.01M429.7 152.7h.01M447.0 154.3h.01M430.0 157.3h.01M427.2 160.1h.01M434.2 155.7h.01M436.9 160.0h.01M428.7 155.0h.01M455.4 146.9h.01M432.7 155.7h.01M435.1 155.9h.01M446.9 150.3h.01M431.3 158.8h.01M453.8 145.2h.01M441.6 156.9h.01M431.1 152.6h.01M427.2 154.9h.01M427.1 157.5h.01M431.0 156.6h.01M423.5 158.4h.01M442.7 156.6h.01M439.3 160.8h.01M445.3 153.8h.01M450.8 152.1h.01M438.3 159.0h.01M433.0 154.9h.01M439.1 154.8h.01M435.0 157.6h.01M455.6 151.5h.01M424.3 154.4h.01M425.0 152.1h.01M428.1 158.4h.01M438.3 156.4h.01M436.0 157.5h.01M433.5 158.6h.01M444.6 154.4h.01M424.3 152.6h.01M439.2 151.3h.01M435.5 154.2h.01M448.9 151.4h.01M438.1 153.1h.01M430.5 156.4h.01M445.3 149.6h.01M449.9 159.5h.01M438.3 155.8h.01M428.0 154.3h.01M439.7 154.0h.01M448.9 150.8h.01M434.9 156.2h.01M436.4 153.9h.01M436.0 155.7h.01M443.4 150.9h.01M429.2 152.1h.01M440.8 148.9h.01M458.1 150.8h.01M424.9 161.5h.01M437.0 155.9h.01M435.4 153.9h.01M454.7 147.2h.01M439.2 152.2h.01M434.1 154.6h.01M421.2 157.8h.01M438.8 155.9h.01M431.9 157.1h.01M433.0 157.1h.01M448.6 155.1h.01M424.6 155.9h.01M428.1 160.9h.01M438.7 150.7h.01M423.9 159.6h.01M428.4 156.5h.01M434.2 154.4h.01M433.2 154.9h.01M450.9 150.6h.01M441.5 155.4h.01M431.3 152.0h.01M429.4 156.9h.01M438.4 157.3h.01M440.2 154.5h.01M437.2 155.1h.01M437.4 156.4h.01M429.6 158.3h.01M451.0 152.9h.01M441.9 150.7h.01M437.9 150.4h.01M445.6 153.8h.01M446.3 156.8h.01M430.7 157.4h.01M450.4 159.4h.01M436.1 156.1h.01M431.6 156.8h.01M442.2 158.1h.01M435.8 154.8h.01M441.3 153.6h.01M454.9 146.5h.01M422.3 154.6h.01M443.0 154.0h.01M440.7 149.9h.01M442.2 155.5h.01M451.2 155.4h.01M431.7 153.0h.01M427.3 154.1h.01M436.2 158.1h.01M451.3 153.3h.01M442.2 153.5h.01M425.9 157.1h.01M430.8 150.6h.01M429.8 159.4h.01M427.1 159.3h.01M425.3 155.5h.01M441.4 153.0h.01M428.7 155.4h.01M451.5 154.9h.01M438.8 155.9h.01M447.3 157.2h.01M434.7 152.3h.01M428.6 155.5h.01M434.5 154.8h.01M431.0 159.1h.01M429.6 153.0h.01M426.9 152.5h.01M422.9 153.6h.01M435.0 156.7h.01M421.6 157.3h.01M436.1 154.6h.01M418.4 157.7h.01M442.8 157.2h.01M434.5 158.2h.01M437.7 151.9h.01M441.6 156.8h.01M439.1 154.2h.01M434.9 156.6h.01M421.4 156.9h.01M425.9 154.2h.01M438.8 157.8h.01M436.9 151.9h.01M460.6 153.1h.01M430.7 153.5h.01M446.2 159.6h.01M437.9 150.7h.01M444.6 154.0h.01M433.5 155.4h.01M427.0 156.1h.01M440.1 157.5h.01M454.5 151.0h.01M440.3 152.0h.01M438.1 157.6h.01M442.7 153.1h.01M452.7 155.4h.01M447.7 153.7h.01M448.7 152.9h.01M444.6 153.9h.01M437.0 150.2h.01M445.6 155.3h.01M431.6 155.2h.01M442.3 155.8h.01M419.0 160.5h.01M428.1 160.7h.01M447.0 153.9h.01M438.9 155.1h.01M433.5 159.1h.01M431.2 153.6h.01M435.0 150.3h.01M446.1 150.3h.01M450.3 155.8h.01M454.7 151.1h.01M434.4 153.5h.01M444.0 151.3h.01M434.2 148.3h.01M437.5 155.1h.01M454.5 150.4h.01M445.5 155.3h.01M444.8 150.6h.01M445.5 154.1h.01M449.8 159.3h.01M430.9 154.0h.01M450.5 148.5h.01M440.0 158.5h.01M443.5 153.8h.01M432.1 149.8h.01M441.7 152.3h.01M433.7 155.8h.01M419.1 156.1h.01M431.6 160.7h.01M436.0 157.8h.01M428.4 150.9h.01M444.9 152.8h.01M425.2 158.7h.01M441.6 149.2h.01M435.0 160.4h.01M438.1 150.6h.01M429.7 159.2h.01M450.4 155.1h.01M423.7 158.2h.01M429.8 153.8h.01M432.7 158.0h.01M441.6 155.7h.01M433.2 153.4h.01M446.6 151.8h.01M434.6 156.4h.01M435.5 157.5h.01M442.1 155.8h.01M457.6 150.9h.01M455.7 149.0h.01M430.1 148.1h.01M431.1 152.8h.01M443.4 157.5h.01M457.7 150.9h.01M446.6 153.0h.01M420.6 144.2h.01M433.9 149.3h.01M444.8 151.1h.01M442.9 152.0h.01M441.4 151.3h.01M440.7 159.4h.01M440.4 150.2h.01M430.1 155.6h.01M444.3 150.2h.01M429.0 150.7h.01M452.8 153.8h.01M440.0 153.0h.01M454.2 154.5h.01M436.2 158.1h.01M442.3 153.2h.01M433.8 154.9h.01M449.4 149.2h.01M422.3 157.9h.01M446.5 157.8h.01M442.2 149.7h.01M444.4 154.3h.01M428.1 150.8h.01M423.3 156.1h.01M425.6 156.7h.01M435.7 156.5h.01M444.9 151.1h.01M433.7 157.0h.01M431.3 158.0h.01M442.4 156.6h.01M431.7 157.3h.01M435.2 155.3h.01M442.7 152.3h.01M436.7 147.6h.01M430.9 156.9h.01M427.4 149.3h.01M424.3 154.9h.01M443.1 155.5h.01M424.4 156.9h.01M426.2 158.8h.01M440.6 152.3h.01M432.9 154.7h.01M431.9 158.4h.01M439.8 152.6h.01M441.1 150.1h.01M438.5 153.4h.01M432.0 154.8h.01M439.1 150.0h.01M444.1 152.1h.01" stroke="#cacaca" stroke-width="0.6" stroke-linecap="round" fill="none" opacity="1.0" filter="url(#bd)"/>
<rect x="415.5" y="128.3" width="49.10" height="51.10" fill="none" stroke="#a8a8a8" stroke-width="0.7"/>
<line x1="432.3" y1="128.3" x2="432.3" y2="179.4" stroke="#a8a8a8" stroke-width="0.595"/>
<line x1="415.5" y1="162.7" x2="464.6" y2="162.7" stroke="#a8a8a8" stroke-width="0.595"/>
<path d="M418.0 179.20000000000002v-1M420.4 179.20000000000002v-1M422.9 179.20000000000002v-1M425.3 179.20000000000002v-1M427.8 179.20000000000002v-1M430.2 179.20000000000002v-1M432.7 179.20000000000002v-1M435.1 179.20000000000002v-1M437.6 179.20000000000002v-1M440.1 179.20000000000002v-1M442.5 179.20000000000002v-1M445.0 179.20000000000002v-1M447.4 179.20000000000002v-1M449.9 179.20000000000002v-1M452.3 179.20000000000002v-1M454.8 179.20000000000002v-1M457.2 179.20000000000002v-1M459.7 179.20000000000002v-1M462.1 179.20000000000002v-1M415.7 130.9h1M415.7 133.4h1M415.7 136.0h1M415.7 138.5h1M415.7 141.1h1M415.7 143.6h1M415.7 146.2h1M415.7 148.7h1M415.7 151.3h1M415.7 153.9h1M415.7 156.4h1M415.7 159.0h1M415.7 161.5h1M415.7 164.1h1M415.7 166.6h1M415.7 169.2h1M415.7 171.7h1M415.7 174.3h1M415.7 176.8h1" stroke="#9a9a9a" stroke-width="0.5" opacity="0.9"/>
<text x="411.61" y="150.00" font-size="7.8" font-weight="bold" text-anchor="middle" fill="#1a1a1a" stroke="#1a1a1a" stroke-width="0.23" transform="rotate(-90 411.61 150.00)">NKp46</text>
<text x="419.2" y="137.6" font-size="7.6" font-weight="bold" text-anchor="start" fill="#1a1a1a" stroke="#1a1a1a" stroke-width="0.23">22</text>
<text x="461.2" y="137.6" font-size="7.6" font-weight="bold" text-anchor="end" fill="#1a1a1a" stroke="#1a1a1a" stroke-width="0.23">78</text>
<line x1="407.1" y1="186.6" x2="407.1" y2="171.6" stroke="#111" stroke-width="1.15"/>
<polygon points="407.1,167.5 404.70000000000005,172.1 409.5,172.1" fill="#111"/>
<line x1="406.55" y1="186.6" x2="422.7" y2="186.6" stroke="#111" stroke-width="1.15"/>
<polygon points="426.8,186.6 422.2,184.2 422.2,189.0" fill="#111"/>
<text x="429.5" y="190.1" font-size="7.6" font-weight="bold" text-anchor="start" fill="#1a1a1a" stroke="#1a1a1a" stroke-width="0.23">CD56</text>
<path d="M496.3 159.2h.01M489.2 159.2h.01M492.8 159.9h.01M490.5 157.5h.01M491.7 158.1h.01M498.9 155.5h.01M490.5 157.5h.01M496.4 151.4h.01M497.3 154.0h.01M494.0 151.7h.01M495.6 157.0h.01M490.4 156.8h.01M485.7 154.8h.01M495.8 151.8h.01M495.3 150.8h.01M503.7 155.6h.01M499.8 151.8h.01M483.6 154.3h.01M501.1 154.0h.01M500.2 155.6h.01M496.1 157.5h.01M491.7 153.3h.01M499.9 155.8h.01M491.9 151.4h.01M501.7 145.3h.01M499.0 154.1h.01M488.3 155.7h.01M496.8 161.0h.01M496.0 147.3h.01M490.0 156.7h.01M492.2 154.3h.01M494.1 158.6h.01M496.1 154.0h.01M491.5 157.4h.01M491.2 155.7h.01M496.5 156.6h.01M498.3 155.3h.01M504.0 156.7h.01M490.9 151.9h.01M491.2 158.3h.01M489.3 159.0h.01M496.6 152.8h.01M489.8 154.2h.01M498.1 154.3h.01M498.0 155.0h.01M501.0 153.1h.01M493.9 151.3h.01M493.0 151.7h.01M487.3 153.9h.01M497.8 148.1h.01M488.5 150.5h.01M496.3 156.1h.01M496.1 154.0h.01M490.9 155.0h.01M490.4 153.8h.01M496.4 153.8h.01M500.2 148.3h.01M487.0 157.3h.01M491.9 153.2h.01M491.9 154.3h.01M493.8 155.5h.01M498.9 159.8h.01M484.5 154.2h.01M490.3 155.1h.01M489.8 154.7h.01M495.8 154.4h.01M495.6 156.4h.01M489.5 154.4h.01M499.5 157.1h.01M499.1 152.1h.01M491.4 157.3h.01M494.5 155.3h.01M492.9 157.1h.01M495.3 151.7h.01M496.3 153.5h.01M493.3 156.1h.01M495.2 152.9h.01M489.0 153.2h.01M493.9 151.1h.01M491.6 161.1h.01M491.5 154.7h.01M488.7 153.6h.01M495.7 155.0h.01M486.6 154.6h.01M489.9 157.6h.01M494.0 159.0h.01M496.2 151.2h.01M499.0 153.1h.01M494.0 154.8h.01M488.4 157.8h.01M495.2 151.6h.01M488.1 155.8h.01M500.2 155.6h.01M496.0 153.3h.01M499.7 156.0h.01M490.8 152.8h.01M484.4 157.8h.01M508.6 154.2h.01M496.6 156.7h.01M493.5 160.6h.01M489.8 152.1h.01M502.1 157.1h.01M498.1 154.2h.01M494.3 154.9h.01M496.5 152.8h.01M499.4 159.5h.01M492.0 151.8h.01M495.1 161.5h.01M490.0 158.3h.01M491.3 152.4h.01M499.6 154.0h.01M494.3 156.5h.01M499.8 155.2h.01M501.8 152.6h.01M492.1 156.4h.01M497.6 149.6h.01M493.1 156.5h.01M493.8 159.6h.01M487.1 155.1h.01M490.5 150.0h.01M493.4 154.3h.01M492.6 152.7h.01M498.5 151.6h.01M491.6 150.6h.01M500.0 150.4h.01M502.6 151.9h.01M494.3 159.1h.01M489.5 158.3h.01M488.4 153.2h.01M497.1 155.5h.01M496.1 155.4h.01M501.9 150.0h.01M491.3 157.0h.01M487.6 152.6h.01M506.0 158.3h.01M496.9 154.8h.01M493.7 152.0h.01M490.4 151.8h.01M488.5 154.9h.01M496.5 151.9h.01M495.1 150.8h.01M496.3 153.6h.01M494.2 155.1h.01M500.7 155.1h.01M491.4 155.0h.01M496.4 156.1h.01M499.5 152.2h.01M488.9 156.3h.01M489.2 155.8h.01M507.4 158.1h.01M487.6 152.2h.01M496.4 153.7h.01M497.8 155.2h.01M496.1 156.1h.01M487.1 157.8h.01M487.8 152.0h.01M483.1 154.6h.01M496.4 153.5h.01M488.9 148.4h.01M497.2 151.3h.01M492.8 155.2h.01M494.2 155.7h.01M502.4 156.6h.01M489.7 154.4h.01M493.4 152.1h.01M497.6 153.5h.01M495.6 156.4h.01M504.4 152.8h.01M497.9 160.6h.01M502.1 155.4h.01M491.0 155.0h.01M491.6 153.4h.01M486.3 153.7h.01M485.0 157.4h.01M497.0 153.4h.01M494.7 154.9h.01M493.3 155.4h.01M493.7 155.8h.01M490.7 154.8h.01M502.5 152.3h.01M490.7 157.2h.01M496.0 155.0h.01M495.4 153.4h.01M492.0 156.0h.01M495.4 156.4h.01M496.7 160.9h.01M494.9 158.6h.01M495.3 161.0h.01M499.2 152.4h.01M502.1 153.0h.01M499.3 152.4h.01M496.2 155.0h.01M501.3 148.5h.01M485.4 157.4h.01M498.1 153.1h.01M495.0 149.6h.01M492.7 152.7h.01M498.8 155.3h.01M493.8 157.9h.01M491.4 156.8h.01M493.4 155.9h.01M493.1 158.6h.01M492.5 160.3h.01M498.3 152.3h.01M492.4 158.4h.01M501.6 151.2h.01M495.3 156.4h.01M505.9 156.5h.01M493.6 157.3h.01M494.9 152.2h.01M494.3 154.0h.01M493.5 154.9h.01M496.3 152.4h.01M497.8 150.2h.01M497.7 156.0h.01M496.6 150.4h.01M492.2 155.2h.01M496.8 156.8h.01M487.2 154.7h.01M499.7 151.4h.01M488.7 153.3h.01M493.3 153.9h.01M500.5 155.4h.01M485.4 156.9h.01M495.0 157.1h.01M494.4 158.6h.01M495.2 153.3h.01M488.8 157.3h.01M493.9 149.7h.01M498.6 158.3h.01M484.6 156.3h.01M497.7 159.5h.01M500.4 152.6h.01M496.7 156.8h.01M487.5 158.8h.01M496.9 157.1h.01M490.3 157.0h.01M494.3 153.8h.01M494.7 155.7h.01M487.3 154.7h.01M496.3 150.1h.01M502.7 162.0h.01M497.8 154.7h.01M489.6 151.6h.01M488.7 157.2h.01M490.4 155.2h.01M492.4 157.2h.01M500.6 157.3h.01M497.7 157.7h.01M502.7 152.2h.01M495.8 152.9h.01M494.8 154.1h.01M495.1 156.7h.01M488.3 147.4h.01M495.9 157.7h.01M492.7 158.9h.01M505.4 154.9h.01M493.5 156.2h.01M498.2 150.5h.01M496.9 148.9h.01M489.4 155.3h.01M496.0 151.3h.01M494.8 158.4h.01M486.7 156.3h.01M500.6 150.9h.01M500.3 156.0h.01M493.0 154.8h.01M494.4 154.8h.01M493.6 152.6h.01M498.9 159.5h.01M493.6 158.7h.01M490.8 151.1h.01M497.6 155.4h.01M496.7 152.0h.01M492.6 157.6h.01M502.2 155.5h.01M496.4 147.3h.01M491.4 158.4h.01M503.7 152.4h.01M482.4 156.2h.01" stroke="#cacaca" stroke-width="0.6" stroke-linecap="round" fill="none" opacity="1.0" filter="url(#bd)"/>
<path d="M472.7 153.5h.01M473.7 153.6h.01M473.2 156.7h.01M475.0 150.8h.01M472.3 161.1h.01M475.4 155.4h.01M472.2 161.3h.01M473.1 155.1h.01M475.1 152.5h.01M474.8 153.4h.01M471.6 150.5h.01M473.7 153.1h.01M475.2 159.8h.01M474.3 161.4h.01M474.0 155.1h.01M474.3 149.6h.01M474.5 154.1h.01M473.4 157.0h.01M475.2 153.8h.01M473.3 155.7h.01M473.4 152.2h.01M473.9 157.6h.01M474.2 154.3h.01M474.1 156.6h.01M474.4 157.3h.01M474.4 157.3h.01M474.2 152.5h.01M475.2 154.1h.01M473.9 159.1h.01M473.9 152.4h.01M474.1 159.1h.01M472.7 158.3h.01M475.3 153.6h.01M474.1 152.6h.01M471.7 151.9h.01M472.6 149.9h.01M473.9 156.6h.01M473.2 153.8h.01M473.5 154.2h.01M475.1 158.5h.01" stroke="#d6d6d6" stroke-width="0.6" stroke-linecap="round" fill="none" opacity="1.0" filter="url(#bd)"/>
<rect x="468.8" y="128.3" width="49.20" height="51.10" fill="none" stroke="#a8a8a8" stroke-width="0.7"/>
<line x1="481" y1="128.3" x2="481" y2="179.4" stroke="#a8a8a8" stroke-width="0.595"/>
<line x1="468.8" y1="162.7" x2="518" y2="162.7" stroke="#a8a8a8" stroke-width="0.595"/>
<path d="M471.3 179.20000000000002v-1M473.7 179.20000000000002v-1M476.2 179.20000000000002v-1M478.6 179.20000000000002v-1M481.1 179.20000000000002v-1M483.6 179.20000000000002v-1M486.0 179.20000000000002v-1M488.5 179.20000000000002v-1M490.9 179.20000000000002v-1M493.4 179.20000000000002v-1M495.9 179.20000000000002v-1M498.3 179.20000000000002v-1M500.8 179.20000000000002v-1M503.2 179.20000000000002v-1M505.7 179.20000000000002v-1M508.2 179.20000000000002v-1M510.6 179.20000000000002v-1M513.1 179.20000000000002v-1M515.5 179.20000000000002v-1M469.0 130.9h1M469.0 133.4h1M469.0 136.0h1M469.0 138.5h1M469.0 141.1h1M469.0 143.6h1M469.0 146.2h1M469.0 148.7h1M469.0 151.3h1M469.0 153.9h1M469.0 156.4h1M469.0 159.0h1M469.0 161.5h1M469.0 164.1h1M469.0 166.6h1M469.0 169.2h1M469.0 171.7h1M469.0 174.3h1M469.0 176.8h1" stroke="#9a9a9a" stroke-width="0.5" opacity="0.9"/>
<text x="471.0" y="137.6" font-size="7.6" font-weight="bold" text-anchor="start" fill="#1a1a1a" stroke="#1a1a1a" stroke-width="0.23">17</text>
<text x="514.6" y="137.6" font-size="7.6" font-weight="bold" text-anchor="end" fill="#1a1a1a" stroke="#1a1a1a" stroke-width="0.23">83</text>
<line x1="464.2" y1="186.7" x2="479.9" y2="186.7" stroke="#111" stroke-width="1.1"/>
<polygon points="484.4,186.7 479.4,184.29999999999998 479.4,189.1" fill="#111"/>
<text x="487.1" y="190.1" font-size="7.6" font-weight="bold" text-anchor="start" fill="#1a1a1a" stroke="#1a1a1a" stroke-width="0.23">CD16</text>
<line x1="372.6" y1="205.8" x2="372.6" y2="276.4" stroke="#3a3a3a" stroke-width="1.3"/>
<line x1="371.7" y1="275.8" x2="425" y2="275.8" stroke="#3a3a3a" stroke-width="1.3"/>
<line x1="370.6" y1="275.8" x2="372.6" y2="275.8" stroke="#3a3a3a" stroke-width="0.9"/>
<text x="370.5" y="278.3" font-size="7.2" font-weight="bold" text-anchor="end" fill="#1a1a1a" stroke="#1a1a1a" stroke-width="0.22">0</text>
<line x1="370.6" y1="265.94" x2="372.6" y2="265.94" stroke="#3a3a3a" stroke-width="0.9"/>
<text x="370.5" y="268.44" font-size="7.2" font-weight="bold" text-anchor="end" fill="#1a1a1a" stroke="#1a1a1a" stroke-width="0.22">5</text>
<line x1="370.6" y1="256.08000000000004" x2="372.6" y2="256.08000000000004" stroke="#3a3a3a" stroke-width="0.9"/>
<text x="370.5" y="258.58" font-size="7.2" font-weight="bold" text-anchor="end" fill="#1a1a1a" stroke="#1a1a1a" stroke-width="0.22">10</text>
<line x1="370.6" y1="246.22000000000003" x2="372.6" y2="246.22000000000003" stroke="#3a3a3a" stroke-width="0.9"/>
<text x="370.5" y="248.72" font-size="7.2" font-weight="bold" text-anchor="end" fill="#1a1a1a" stroke="#1a1a1a" stroke-width="0.22">15</text>
<line x1="370.6" y1="236.36" x2="372.6" y2="236.36" stroke="#3a3a3a" stroke-width="0.9"/>
<text x="370.5" y="238.86" font-size="7.2" font-weight="bold" text-anchor="end" fill="#1a1a1a" stroke="#1a1a1a" stroke-width="0.22">20</text>
<line x1="370.6" y1="226.5" x2="372.6" y2="226.5" stroke="#3a3a3a" stroke-width="0.9"/>
<text x="370.5" y="229.0" font-size="7.2" font-weight="bold" text-anchor="end" fill="#1a1a1a" stroke="#1a1a1a" stroke-width="0.22">25</text>
<line x1="370.6" y1="216.64000000000001" x2="372.6" y2="216.64000000000001" stroke="#3a3a3a" stroke-width="0.9"/>
<text x="370.5" y="219.14" font-size="7.2" font-weight="bold" text-anchor="end" fill="#1a1a1a" stroke="#1a1a1a" stroke-width="0.22">30</text>
<line x1="370.6" y1="206.78000000000003" x2="372.6" y2="206.78000000000003" stroke="#3a3a3a" stroke-width="0.9"/>
<text x="370.5" y="209.28" font-size="7.2" font-weight="bold" text-anchor="end" fill="#1a1a1a" stroke="#1a1a1a" stroke-width="0.22">35</text>
<line x1="399" y1="276" x2="399" y2="278.2" stroke="#3a3a3a" stroke-width="0.8"/>
<rect x="397.75" y="213.42" width="2.5" height="2.5" rx="0.9" fill="#111"/>
<rect x="393.25" y="235.11" width="2.5" height="2.5" rx="0.9" fill="#111"/>
<rect x="397.85" y="233.14" width="2.5" height="2.5" rx="0.9" fill="#111"/>
<rect x="397.85" y="238.07" width="2.5" height="2.5" rx="0.9" fill="#111"/>
<rect x="397.85" y="246.15" width="2.5" height="2.5" rx="0.9" fill="#111"/>
<rect x="393.35" y="250.89" width="2.5" height="2.5" rx="0.9" fill="#111"/>
<rect x="397.85" y="250.89" width="2.5" height="2.5" rx="0.9" fill="#111"/>
<rect x="397.85" y="269.62" width="2.5" height="2.5" rx="0.9" fill="#111"/>
<line x1="382.2" y1="243.4" x2="416.2" y2="243.4" stroke="#222" stroke-width="1.3"/>
<text font-size="7.2" font-weight="bold" fill="#1a1a1a" stroke="#1a1a1a" stroke-width="0.22" text-anchor="start" transform="translate(348.5 267.6) rotate(-90)">% NKp46<tspan font-size="4.6" dy="-2.4">+</tspan><tspan dy="2.4">CD56</tspan><tspan font-size="4.6" dy="-2.4">-</tspan></text>
<text font-size="7.8" font-weight="bold" fill="#1a1a1a" stroke="#1a1a1a" stroke-width="0.22" text-anchor="start" transform="translate(358.5 267.6) rotate(-90)">CB NK cells</text>
<text x="302" y="307.2" font-size="7.0" font-weight="bold" text-anchor="start" fill="#1a1a1a" stroke="#1a1a1a" stroke-width="0.21">post-sort</text>
<text x="368.8" y="307.2" font-size="7.0" font-weight="bold" text-anchor="start" fill="#1a1a1a" stroke="#1a1a1a" stroke-width="0.21">48h post-transfer</text>
<path d="M302.4 361.2 L302.4 312.6 L302.8 311.6 L303.7 316 L304.6 313.4 L305.4 321.1 L306 322.4 L306.6 325.4 L307.3 326.4 L308 328.8 L308.8 330.5 L309.4 331.4 L310 334 L310.7 333.4 L311.4 335.7 L312.3 334 L313.2 335.6 L314 334.8 L314.6 335.4 L315.2 334 L315.9 336.4 L316.5 337.4 L317.2 336 L317.9 336.5 L318.5 339.6 L319.1 341.6 L319.7 341 L320.3 344.2 L321 344.4 L321.7 345.9 L322.5 348.6 L323.4 350.2 L324.2 352.4 L325.1 353.6 L326 355.8 L326.8 357 L327.6 358.6 L328.5 359.6 L329.4 360.8 L330.4 361.2Z" fill="#bdbdbd" stroke="#303030" stroke-width="0.7" stroke-linejoin="round"/>
<path d="M328.3 361.2 L329.2 358.6 L330.2 355.3 L331 351.4 L331.9 346.8 L332.8 342.6 L333.6 339.1 L334.5 337 L335.4 335.7 L336.1 335.4 L336.7 334.8 L337.3 331.6 L337.9 328 L338.7 323.4 L339.6 319.4 L340.2 316.8 L340.8 315.1 L341.3 316.2 L341.9 318.5 L342.5 323 L343.1 328 L343.7 333 L344.3 338.2 L345 343.6 L345.6 348.5 L346.3 352.6 L347 356.2 L347.6 358.2 L348.2 359.6 L348.8 360.8 L349.6 361.2Z" fill="#0d0d0d" stroke="#0d0d0d" stroke-width="0.6"/>
<rect x="302" y="310.8" width="50.20" height="50.50" fill="none" stroke="#a8a8a8" stroke-width="0.6"/>
<line x1="302" y1="310.8" x2="302" y2="361.3" stroke="#555" stroke-width="0.8"/>
<line x1="302" y1="361.3" x2="352.2" y2="361.3" stroke="#777" stroke-width="0.7"/>
<line x1="298.8" y1="368.8" x2="311.9" y2="368.8" stroke="#111" stroke-width="1.2"/>
<polygon points="316.4,368.8 311.4,366.3 311.4,371.3" fill="#111"/>
<text x="318.7" y="372.1" font-size="7.1" font-weight="bold" text-anchor="start" fill="#1a1a1a" stroke="#1a1a1a" stroke-width="0.21">CD56</text>
<text x="301" y="312.5" font-size="2.2" text-anchor="end" fill="#8a8a8a">100</text>
<text x="301" y="322.3" font-size="2.2" text-anchor="end" fill="#8a8a8a">80</text>
<text x="301" y="332.09999999999997" font-size="2.2" text-anchor="end" fill="#8a8a8a">60</text>
<text x="301" y="341.9" font-size="2.2" text-anchor="end" fill="#8a8a8a">40</text>
<text x="301" y="351.7" font-size="2.2" text-anchor="end" fill="#8a8a8a">20</text>
<text x="301" y="361.3" font-size="2.2" text-anchor="end" fill="#8a8a8a">0</text>
<clipPath id="cf2"><rect x="370.2" y="312" width="50.2" height="49.6"/></clipPath>
<g clip-path="url(#cf2)">
<g filter="url(#b3)"><path d="M370 362 L370 326 Q378 320 390 324 Q401 330 407 342 Q411 352 415 360 L415 362Z" fill="#9a9a9a"/></g>
<g filter="url(#b2)"><path d="M370 362 L370 327 Q378 322 388 325 Q394 330 396 340 Q401 350 418 360 L418 362Z" fill="#808080"/></g>
<path d="M399.9 341.8h.01M406.6 344.6h.01M398.9 343.4h.01M401.8 330.4h.01M387.1 339.5h.01M379.5 336.6h.01M391.9 341.3h.01M400.7 349.4h.01M374.4 340.5h.01M397.6 350.4h.01M389.4 342.2h.01M393.4 331.1h.01M396.8 346.6h.01M391.6 339.5h.01M404.0 337.2h.01M391.9 341.2h.01M398.4 342.1h.01M405.2 342.4h.01M384.4 325.6h.01M393.8 352.4h.01M395.0 335.2h.01M397.0 343.1h.01M405.3 328.4h.01M401.2 340.3h.01M401.6 347.6h.01M375.5 346.3h.01M398.9 332.4h.01M393.5 347.3h.01M381.7 345.9h.01M401.4 353.0h.01M387.4 333.8h.01M403.2 336.5h.01M398.1 317.6h.01M415.1 323.7h.01M380.5 342.9h.01M398.8 332.2h.01M375.6 343.2h.01M396.5 331.3h.01M395.7 334.1h.01M385.8 344.5h.01M394.5 339.1h.01M383.9 333.0h.01M392.2 333.9h.01M397.5 339.0h.01M392.6 337.4h.01M398.0 347.0h.01M385.3 346.5h.01M402.2 345.2h.01M389.8 340.5h.01M412.6 327.9h.01M401.7 336.7h.01M408.7 339.9h.01M401.8 333.7h.01M390.2 351.9h.01M383.6 334.5h.01M392.3 328.6h.01M399.9 328.8h.01M394.9 336.8h.01M375.6 340.0h.01M381.2 339.0h.01M374.5 334.4h.01M401.5 341.0h.01M404.1 352.0h.01M400.8 337.2h.01M393.5 343.9h.01M383.8 330.3h.01M394.4 353.0h.01M384.9 340.8h.01M388.4 344.6h.01M397.5 338.5h.01M402.3 336.7h.01M380.2 355.9h.01M393.5 341.3h.01M401.2 332.1h.01M390.5 332.6h.01M399.4 342.0h.01M396.2 328.1h.01M387.4 326.9h.01M382.8 332.7h.01M397.0 342.8h.01M379.1 343.9h.01M397.6 351.7h.01M401.8 326.5h.01M398.7 340.6h.01M397.3 332.7h.01M406.8 339.5h.01M389.5 323.9h.01M392.3 327.5h.01M381.8 352.1h.01M393.9 346.7h.01M404.0 344.7h.01M390.8 329.1h.01M393.1 339.7h.01M393.2 336.2h.01M395.7 326.9h.01M403.6 329.0h.01M395.5 331.5h.01M406.1 334.1h.01M386.5 335.7h.01M402.0 328.6h.01M383.3 334.3h.01M401.0 314.6h.01M402.4 357.3h.01M393.0 346.4h.01M393.4 323.4h.01M390.8 343.8h.01M384.9 336.3h.01M388.8 341.9h.01M415.8 339.4h.01M383.3 352.4h.01M392.0 335.2h.01M398.8 345.0h.01M396.4 341.6h.01M396.0 328.7h.01M401.2 345.9h.01M387.7 324.2h.01M389.3 340.2h.01M406.7 340.5h.01M395.0 340.7h.01M381.4 335.7h.01M395.7 344.4h.01M401.5 352.3h.01M388.6 335.1h.01M390.6 342.7h.01M411.8 340.2h.01M395.9 331.1h.01M383.4 353.4h.01M393.8 350.4h.01M401.6 334.6h.01M396.7 331.2h.01M400.0 337.4h.01M401.3 349.0h.01M389.4 345.3h.01M398.3 334.3h.01M396.9 348.9h.01M395.9 346.7h.01M397.5 349.1h.01M393.4 335.9h.01M400.0 319.7h.01M390.1 351.4h.01M388.1 354.0h.01M408.5 334.5h.01M388.0 341.9h.01M402.4 353.2h.01M407.8 332.8h.01M402.1 334.4h.01M403.9 342.5h.01M407.1 337.9h.01M401.8 328.1h.01M386.2 342.9h.01M395.5 345.9h.01M414.6 333.5h.01M384.3 329.9h.01M389.2 348.3h.01M397.9 336.2h.01M400.5 337.2h.01M396.9 338.5h.01M382.8 345.4h.01M396.2 357.1h.01M395.5 333.6h.01M396.2 332.6h.01M394.3 335.5h.01M397.6 330.9h.01M393.7 335.2h.01M386.1 338.0h.01M400.7 344.7h.01M397.4 337.6h.01M403.0 336.2h.01M400.6 324.2h.01M384.2 332.5h.01M404.6 336.4h.01M398.7 329.4h.01M409.1 353.2h.01M394.8 333.0h.01M397.0 336.5h.01M390.6 317.9h.01M396.7 320.1h.01M390.2 325.8h.01M412.2 327.8h.01M391.2 341.6h.01M391.9 340.6h.01M402.9 333.2h.01M399.3 337.4h.01M383.2 340.9h.01M385.3 347.2h.01M394.8 340.0h.01M403.5 331.6h.01M387.8 350.5h.01M401.1 342.1h.01M377.3 338.7h.01M386.4 333.4h.01M380.4 324.8h.01M390.9 341.6h.01M390.3 337.0h.01M395.5 349.7h.01M389.6 339.5h.01M419.1 338.2h.01M402.0 328.5h.01M385.4 334.7h.01M407.3 334.2h.01M383.7 322.7h.01M396.2 347.3h.01M387.8 335.1h.01M385.0 332.3h.01M403.9 333.9h.01M385.5 343.5h.01M397.2 338.0h.01M413.2 340.9h.01M405.2 328.0h.01M394.2 349.0h.01M401.6 346.1h.01M381.6 336.1h.01M409.9 350.6h.01M407.1 345.1h.01M406.8 315.0h.01M395.7 345.1h.01M405.9 330.3h.01M404.4 345.0h.01M390.2 351.7h.01M406.4 345.9h.01M390.7 340.7h.01M394.7 352.3h.01M417.1 331.2h.01M413.1 342.1h.01M388.8 332.3h.01M408.9 341.1h.01M388.9 336.8h.01M391.4 337.3h.01M411.3 332.6h.01M392.0 312.9h.01M399.5 346.3h.01M413.7 333.2h.01M392.2 335.0h.01M383.6 338.3h.01M387.8 336.5h.01M396.3 344.7h.01M395.5 358.5h.01M398.0 342.7h.01M399.7 337.5h.01M403.8 339.6h.01M382.6 333.9h.01M408.5 324.9h.01M411.1 339.3h.01M397.4 348.8h.01M397.1 334.4h.01M374.9 333.1h.01M384.2 344.2h.01M395.9 330.4h.01M405.8 345.7h.01M415.4 340.6h.01M383.6 339.2h.01M402.0 345.7h.01M382.8 342.3h.01M401.2 341.6h.01M380.0 334.5h.01M393.9 336.4h.01M403.4 335.1h.01M378.0 320.5h.01M399.4 331.5h.01M394.6 347.5h.01M390.2 338.0h.01M381.7 328.2h.01M400.4 348.0h.01M389.0 336.7h.01M398.0 334.6h.01M395.7 334.9h.01M400.5 333.9h.01M390.6 326.8h.01M387.9 325.8h.01M393.7 346.5h.01M383.1 331.1h.01M387.9 342.1h.01M392.2 335.5h.01M386.2 336.0h.01M391.8 331.5h.01M408.0 342.3h.01M393.5 340.8h.01M416.2 343.3h.01M390.1 337.9h.01M405.6 342.0h.01M392.5 339.0h.01M384.7 335.5h.01M391.2 336.1h.01M407.6 338.4h.01M405.7 338.1h.01M381.1 348.3h.01M390.0 337.2h.01M405.2 349.7h.01M396.5 348.7h.01M390.4 343.5h.01M386.6 346.3h.01M389.8 343.6h.01M383.9 350.1h.01M410.1 336.0h.01M395.6 330.2h.01M393.2 326.2h.01M401.7 337.5h.01M405.8 338.1h.01M392.9 331.3h.01M400.9 337.1h.01M384.0 325.8h.01M403.9 337.3h.01M394.4 333.6h.01M390.1 338.0h.01M396.8 328.2h.01M417.9 345.7h.01M377.4 338.7h.01M405.4 332.7h.01M382.4 342.5h.01M389.3 338.1h.01M410.3 338.1h.01M407.3 331.6h.01M378.2 334.9h.01M391.4 343.7h.01M399.1 321.8h.01M384.7 334.5h.01M388.3 332.8h.01M392.0 339.4h.01M381.1 330.4h.01M386.6 347.9h.01M393.4 325.9h.01M399.5 345.7h.01M380.1 328.1h.01M399.2 338.5h.01M400.6 351.3h.01M401.1 346.3h.01M390.5 349.6h.01M388.6 340.8h.01M376.4 334.7h.01M402.3 330.5h.01M390.7 320.3h.01M391.8 327.3h.01M395.6 334.1h.01M388.7 335.3h.01M391.2 338.0h.01M392.6 347.4h.01M404.8 317.4h.01M407.4 336.3h.01M398.3 330.6h.01M400.6 342.7h.01M389.8 328.8h.01M399.8 341.6h.01M386.7 320.5h.01M384.8 341.3h.01M406.7 330.0h.01M389.8 329.1h.01M398.3 331.5h.01M410.5 342.8h.01M393.2 334.7h.01M404.3 334.7h.01M391.5 338.9h.01M404.7 349.6h.01M391.9 328.0h.01M386.7 336.6h.01M400.9 316.5h.01M401.0 341.3h.01M396.9 325.9h.01M396.0 333.8h.01M386.5 342.9h.01M406.5 339.5h.01M400.4 346.1h.01M395.4 334.5h.01M408.8 332.9h.01M392.4 340.7h.01M391.3 330.2h.01M405.1 337.8h.01M388.8 333.2h.01M400.5 344.6h.01M397.0 347.3h.01M395.1 350.9h.01M403.5 328.6h.01M394.4 340.6h.01M395.1 329.9h.01M399.5 337.4h.01M381.7 327.5h.01M391.7 345.4h.01M394.9 339.4h.01M403.9 336.1h.01M395.4 337.3h.01M403.5 332.6h.01M398.7 332.0h.01M396.0 346.8h.01M388.2 341.8h.01M396.0 339.7h.01M400.0 338.6h.01M399.8 352.6h.01M389.1 329.2h.01M402.0 341.1h.01M413.2 332.9h.01M401.8 333.5h.01M391.0 333.1h.01M388.1 330.3h.01M392.5 336.6h.01M395.8 344.5h.01M387.3 337.2h.01M387.5 344.6h.01M387.2 335.1h.01M388.3 346.6h.01M384.6 328.7h.01M391.9 335.1h.01M387.1 347.0h.01M390.4 321.1h.01M393.6 327.3h.01M389.5 333.9h.01M387.3 334.5h.01M391.8 342.9h.01M417.7 332.3h.01M391.3 347.0h.01M410.4 344.2h.01M393.0 353.5h.01M396.1 347.6h.01M390.5 328.0h.01M407.2 330.8h.01M386.1 339.0h.01M387.1 343.3h.01M396.0 336.3h.01M390.4 349.7h.01M407.5 347.1h.01M383.8 351.3h.01M396.3 351.7h.01M400.0 332.5h.01M380.7 332.5h.01M406.0 334.3h.01M409.9 327.6h.01M401.0 337.0h.01M383.0 341.0h.01M391.8 335.6h.01M377.0 329.8h.01M389.5 336.7h.01M388.0 354.4h.01M391.7 339.6h.01M392.4 348.2h.01M400.4 346.0h.01M381.8 339.2h.01M394.0 343.1h.01M389.4 339.1h.01M386.6 335.1h.01M398.4 333.9h.01M387.9 336.8h.01M398.1 341.3h.01M384.9 334.5h.01M385.0 329.8h.01M416.2 347.7h.01M401.5 335.6h.01M402.8 350.4h.01M406.1 343.8h.01M386.5 357.3h.01M401.9 344.9h.01M398.3 341.0h.01M391.7 324.2h.01M410.9 358.9h.01M399.4 343.4h.01M395.1 344.1h.01M393.9 337.3h.01M400.7 324.2h.01M407.5 334.8h.01M400.0 342.9h.01M409.3 351.6h.01M383.7 330.2h.01M396.6 324.7h.01M400.6 337.0h.01M388.2 344.8h.01M386.9 332.0h.01M395.0 345.0h.01M393.4 335.2h.01M396.8 335.0h.01M378.7 345.4h.01M399.3 346.9h.01M396.1 341.8h.01M380.3 326.9h.01M378.0 347.5h.01M388.9 348.7h.01M398.8 334.3h.01M394.1 331.5h.01M391.0 340.7h.01M400.9 334.0h.01M381.0 347.2h.01M385.1 343.8h.01M381.5 330.6h.01M377.3 343.3h.01M411.5 339.0h.01M376.7 336.1h.01M397.1 340.9h.01M396.2 329.8h.01M392.1 353.3h.01M390.0 334.8h.01M384.2 332.9h.01M405.4 340.9h.01M390.3 335.0h.01M402.0 333.3h.01M387.7 335.4h.01M372.1 347.2h.01M387.6 344.1h.01M394.6 346.2h.01M390.0 357.9h.01" stroke="#9a9a9a" stroke-width="0.6" stroke-linecap="round" fill="none" opacity="1.0" filter="url(#bd)"/>
<path d="M409.6 348.7h.01M407.9 337.4h.01M397.9 337.6h.01M408.1 341.1h.01M395.1 352.3h.01M410.1 348.7h.01M415.8 351.5h.01M419.7 355.1h.01M411.0 354.7h.01M416.1 353.6h.01M408.5 351.9h.01M407.2 353.4h.01M416.9 340.2h.01M402.7 341.1h.01M401.7 351.7h.01M407.0 352.3h.01M410.8 352.6h.01M403.5 349.3h.01M398.4 347.3h.01M405.0 352.3h.01M394.8 356.7h.01M405.2 340.6h.01M404.6 353.5h.01M406.4 347.5h.01M399.6 351.3h.01M406.8 351.8h.01M403.0 357.4h.01M393.2 350.0h.01M394.4 338.2h.01M406.9 355.0h.01M403.7 352.7h.01M404.4 356.9h.01M401.6 353.2h.01M407.9 340.5h.01M413.7 346.5h.01M397.8 346.0h.01M411.6 347.5h.01M411.0 344.3h.01M407.4 339.6h.01M403.6 357.8h.01M402.0 351.1h.01M393.1 360.0h.01M404.1 352.7h.01M402.9 343.7h.01M403.2 348.0h.01M398.5 349.0h.01M398.9 347.0h.01M386.1 344.1h.01M407.7 351.3h.01M403.9 352.4h.01M417.4 352.1h.01M406.4 349.4h.01M407.9 353.8h.01M412.1 352.8h.01M401.4 349.3h.01M400.3 358.0h.01M400.8 340.3h.01M404.0 344.9h.01M406.8 350.8h.01M399.7 340.7h.01M403.2 342.2h.01M404.2 351.0h.01M402.8 350.9h.01M402.7 359.8h.01M393.3 343.5h.01M413.2 342.6h.01M409.7 348.6h.01M405.5 341.5h.01M402.6 349.1h.01M390.8 350.0h.01M402.4 336.5h.01M406.5 347.8h.01M395.0 356.8h.01M404.5 343.2h.01M399.3 351.7h.01M401.6 354.1h.01M396.8 351.5h.01M408.4 353.0h.01M399.8 344.3h.01M397.5 350.5h.01M403.4 357.1h.01M403.1 357.8h.01M403.5 355.9h.01M412.1 351.6h.01M396.7 352.4h.01M406.3 348.1h.01M403.7 354.0h.01M391.2 353.2h.01M416.2 345.9h.01M413.6 347.2h.01M403.2 347.8h.01M405.1 345.4h.01M401.2 348.5h.01M399.0 349.5h.01M412.2 345.0h.01M406.6 345.4h.01M397.4 349.8h.01M403.3 355.8h.01M410.0 350.4h.01M400.8 357.9h.01M396.4 345.4h.01M410.1 352.3h.01M409.4 348.6h.01M410.1 356.8h.01M392.2 353.0h.01M411.8 343.8h.01M398.8 352.0h.01M409.4 349.8h.01M394.2 351.1h.01M404.5 347.6h.01M412.1 337.3h.01M405.9 346.3h.01M409.1 348.0h.01M416.8 350.9h.01M401.6 340.3h.01M403.4 349.6h.01M415.8 352.0h.01M406.4 344.5h.01M406.6 344.2h.01M395.7 352.4h.01M402.2 342.0h.01M412.9 357.0h.01M408.2 340.2h.01M399.6 344.1h.01M411.3 349.2h.01M399.5 341.6h.01M400.3 350.8h.01M403.6 352.8h.01M408.8 343.1h.01M410.8 350.0h.01M416.1 349.0h.01M402.8 349.1h.01M413.5 352.9h.01M413.1 355.9h.01M404.7 348.5h.01M412.8 343.0h.01M407.4 355.7h.01M399.3 338.7h.01M395.7 356.5h.01M396.5 342.4h.01M415.9 354.3h.01M409.9 345.6h.01M409.8 345.5h.01M409.2 345.4h.01M396.8 347.2h.01M408.1 351.7h.01M401.7 355.2h.01M394.5 338.3h.01M409.4 348.9h.01M405.1 347.1h.01M408.9 351.1h.01M414.7 344.2h.01M396.9 349.0h.01M403.7 348.0h.01M390.9 351.9h.01M416.8 351.9h.01M413.8 353.3h.01M407.2 352.1h.01M412.8 352.5h.01M409.9 349.4h.01M400.4 351.9h.01M402.7 353.2h.01M390.4 360.2h.01M414.4 358.7h.01M408.1 343.6h.01M402.8 342.9h.01M408.3 349.9h.01M406.6 338.9h.01M395.4 336.9h.01M415.1 352.7h.01M405.9 347.7h.01M393.4 347.6h.01M402.7 344.8h.01M412.4 337.9h.01M406.7 354.5h.01M411.1 340.9h.01M386.5 357.9h.01M415.3 348.8h.01M403.8 351.8h.01M413.0 350.5h.01M403.3 351.0h.01M405.8 344.3h.01M418.8 358.6h.01M415.8 344.2h.01M401.7 341.7h.01M404.9 357.6h.01M412.2 350.1h.01M407.3 352.7h.01M404.8 343.6h.01M401.0 359.6h.01M399.3 343.1h.01M409.7 347.8h.01M403.4 350.7h.01M404.9 340.1h.01M412.3 351.1h.01M417.6 354.8h.01M401.9 347.2h.01M400.9 336.8h.01M410.9 345.8h.01M412.6 350.8h.01M405.1 359.4h.01M399.4 360.2h.01M413.9 346.7h.01M418.0 352.3h.01M408.3 347.5h.01M405.6 347.4h.01M403.6 354.5h.01M411.6 357.2h.01M414.3 349.4h.01M411.1 348.3h.01M409.9 353.5h.01M408.6 345.2h.01M397.8 359.9h.01M400.5 346.2h.01M408.7 347.6h.01M408.9 357.9h.01M395.4 350.4h.01M410.2 341.6h.01M411.1 358.6h.01M406.3 352.7h.01M404.0 355.7h.01M402.5 349.9h.01M401.4 345.6h.01M414.0 349.5h.01M412.2 340.5h.01M397.9 344.6h.01M419.2 356.7h.01M410.2 352.0h.01M404.3 353.4h.01M405.9 352.7h.01M393.8 343.7h.01M399.2 359.8h.01M412.1 344.2h.01M409.5 346.5h.01M398.3 344.5h.01M405.4 357.2h.01M408.0 343.4h.01M411.6 344.9h.01M405.7 350.6h.01M406.2 346.6h.01M404.2 348.0h.01M388.7 350.7h.01M414.1 351.2h.01M409.1 349.4h.01M394.0 353.4h.01M410.8 343.8h.01M398.3 346.5h.01M397.0 335.3h.01M403.3 346.4h.01M406.9 356.9h.01M399.8 340.7h.01M405.3 353.9h.01M416.0 355.4h.01M407.0 350.2h.01M394.2 354.0h.01M411.5 349.4h.01M404.0 352.3h.01M409.1 352.9h.01M409.0 340.9h.01M402.2 340.2h.01M400.6 349.1h.01M407.8 345.7h.01M417.8 351.1h.01M409.4 345.4h.01M415.2 348.3h.01M400.5 348.7h.01M413.8 345.2h.01M404.5 355.0h.01M404.1 355.1h.01M414.5 347.0h.01M397.9 342.9h.01M414.8 353.1h.01M406.6 347.6h.01M413.4 347.1h.01M395.0 356.1h.01M407.8 349.8h.01M404.8 356.9h.01M402.7 359.0h.01M400.8 355.2h.01M395.7 355.5h.01M399.3 348.5h.01M411.2 345.3h.01M409.7 349.9h.01M415.0 355.1h.01" stroke="#a4a4a4" stroke-width="0.6" stroke-linecap="round" fill="none" opacity="1.0" filter="url(#bd)"/>
<g filter="url(#b1)">
<path d="M370.8 361.6 L370.8 330 Q371.2 325.4 375.6 325 Q383 324.6 386.6 326.6 Q389.4 329 390.2 334 Q390.8 340 392.6 344.6 Q395.6 350 400.4 353.4 Q407 357.4 414.6 361.6 Z" fill="#505050"/>
<ellipse cx="377.7" cy="354.8" rx="4.5" ry="6.8" fill="#b5b5b5"/>
<ellipse cx="377.7" cy="355.2" rx="3.1" ry="5" fill="#d9d9d9"/>
<ellipse cx="377.7" cy="355.8" rx="1.7" ry="3" fill="#a8a8a8"/>
<ellipse cx="377.7" cy="356.4" rx="0.7" ry="1.3" fill="#666"/>
</g></g>
<rect x="412" y="323.4" width="8.30" height="25.60" fill="#fff" stroke="#b4b4b4" stroke-width="0.7" fill-opacity="0.45"/>
<path d="M414.8 332 q1.2 3 0.4 6 m1.4 -6.5 q1.2 3 0.3 7 m1.3 -6 q0.8 3 0.2 5" stroke="#d0d0d0" stroke-width="0.5" fill="none"/>
<rect x="369.8" y="311.6" width="51.00" height="50.30" fill="none" stroke="#c8c8c8" stroke-width="0.6"/>
<path d="M372.4 361.7v-1M374.9 361.7v-1M377.4 361.7v-1M380.0 361.7v-1M382.6 361.7v-1M385.1 361.7v-1M387.7 361.7v-1M390.2 361.7v-1M392.8 361.7v-1M395.3 361.7v-1M397.9 361.7v-1M400.4 361.7v-1M402.9 361.7v-1M405.5 361.7v-1M408.1 361.7v-1M410.6 361.7v-1M413.2 361.7v-1M415.7 361.7v-1M418.2 361.7v-1M370.0 314.1h1M370.0 316.6h1M370.0 319.1h1M370.0 321.7h1M370.0 324.2h1M370.0 326.7h1M370.0 329.2h1M370.0 331.7h1M370.0 334.2h1M370.0 336.8h1M370.0 339.3h1M370.0 341.8h1M370.0 344.3h1M370.0 346.8h1M370.0 349.3h1M370.0 351.8h1M370.0 354.4h1M370.0 356.9h1M370.0 359.4h1" stroke="#777" stroke-width="0.5" opacity="0.9"/>
<text x="366.10" y="338.00" font-size="6.4" font-weight="bold" text-anchor="middle" fill="#1a1a1a" stroke="#1a1a1a" stroke-width="0.19" transform="rotate(-90 366.10 338.00)">NKp46</text>
<line x1="363.7" y1="368.4" x2="363.7" y2="355.70000000000005" stroke="#111" stroke-width="1.15"/>
<polygon points="363.7,351.6 361.3,356.20000000000005 366.09999999999997,356.20000000000005" fill="#111"/>
<line x1="363.15" y1="368.4" x2="377.7" y2="368.4" stroke="#111" stroke-width="1.15"/>
<polygon points="381.8,368.4 377.2,366.0 377.2,370.79999999999995" fill="#111"/>
<text x="386.9" y="371.8" font-size="6.9" font-weight="bold" text-anchor="start" fill="#1a1a1a" stroke="#1a1a1a" stroke-width="0.21">CFSE</text>
<line x1="421.4" y1="336.5" x2="424.1" y2="336.5" stroke="#111" stroke-width="1.3"/>
<polygon points="427.6,336.5 423.6,334.1 423.6,338.9" fill="#111"/>
<path d="M429.5 361.9 L429.5 313.4 L429.8 312.2 L430.3 316.8 L431.2 314 L431.7 317.6 L432.2 320.6 L433.1 326.2 L433.8 326.6 L434.6 328.1 L435.2 330.6 L435.9 331.8 L436.6 332.6 L437.2 334.6 L438 333.4 L438.7 333.7 L439.5 335.8 L440.2 335.6 L440.9 334.2 L441.5 333.7 L442.2 335.8 L442.8 336.5 L443.6 338.4 L444.3 339.3 L445 341.4 L445.8 342.1 L446.5 344.2 L447.1 344.9 L448 346.8 L449 347.7 L450 350 L450.9 351.5 L451.8 353.6 L452.8 355.2 L453.7 356.8 L454.6 358 L455.6 359.4 L456.5 360.3 L457.4 361.2 L458.6 361.9Z" fill="#b9b9b9" stroke="#303030" stroke-width="0.7" stroke-linejoin="round"/>
<path d="M429.6 361.8 L430.3 359.9 L431.2 360.8 L432.2 361.4 L433.6 360.6 L435 360.8 L436.4 361.6 L437.8 361.8 L438.8 360.8 L439.7 360.3 L441 359 L441.8 358.4 L442.5 357.1 L443.2 355.8 L444 354.3 L444.9 353.6 L445.8 352.4 L446.8 350.6 L447.7 349 L448.4 347.4 L449 345.9 L449.5 342 L449.9 337.4 L450.4 331 L450.9 324.3 L451.4 319 L451.8 315 L452.4 313.5 L452.8 315.4 L453.1 318.7 L453.5 325 L453.9 331.8 L454.4 334.6 L454.8 331 L455.2 328.1 L455.9 326.2 L456.4 326.8 L456.9 328.1 L457.2 331.6 L457.4 335.6 L457.7 341 L458 346.8 L458.3 351 L458.6 354.3 L459.3 355.8 L460 355.2 L460.4 357.2 L460.8 359 L461.4 360.6 L461.9 361.8 L466 362" fill="none" stroke="#3c3c3c" stroke-width="0.85" stroke-linejoin="round"/>
<rect x="429" y="311.6" width="51.80" height="50.50" fill="none" stroke="#a8a8a8" stroke-width="0.6"/>
<line x1="429" y1="311.6" x2="429" y2="362.1" stroke="#555" stroke-width="0.8"/>
<line x1="429" y1="362.1" x2="480.8" y2="362.1" stroke="#777" stroke-width="0.7"/>
<text x="428" y="313.3" font-size="2.2" text-anchor="end" fill="#8a8a8a">100</text>
<text x="428" y="323.09999999999997" font-size="2.2" text-anchor="end" fill="#8a8a8a">80</text>
<text x="428" y="332.9" font-size="2.2" text-anchor="end" fill="#8a8a8a">60</text>
<text x="428" y="342.7" font-size="2.2" text-anchor="end" fill="#8a8a8a">40</text>
<text x="428" y="352.5" font-size="2.2" text-anchor="end" fill="#8a8a8a">20</text>
<text x="428" y="362.3" font-size="2.2" text-anchor="end" fill="#8a8a8a">0</text>
<line x1="425.2" y1="369.2" x2="437.1" y2="369.2" stroke="#111" stroke-width="1.2"/>
<polygon points="441.6,369.2 436.6,366.7 436.6,371.7" fill="#111"/>
<text x="443.4" y="372.1" font-size="7.1" font-weight="bold" text-anchor="start" fill="#1a1a1a" stroke="#1a1a1a" stroke-width="0.21">CD56</text>
</g>
</svg>
</body></html>
